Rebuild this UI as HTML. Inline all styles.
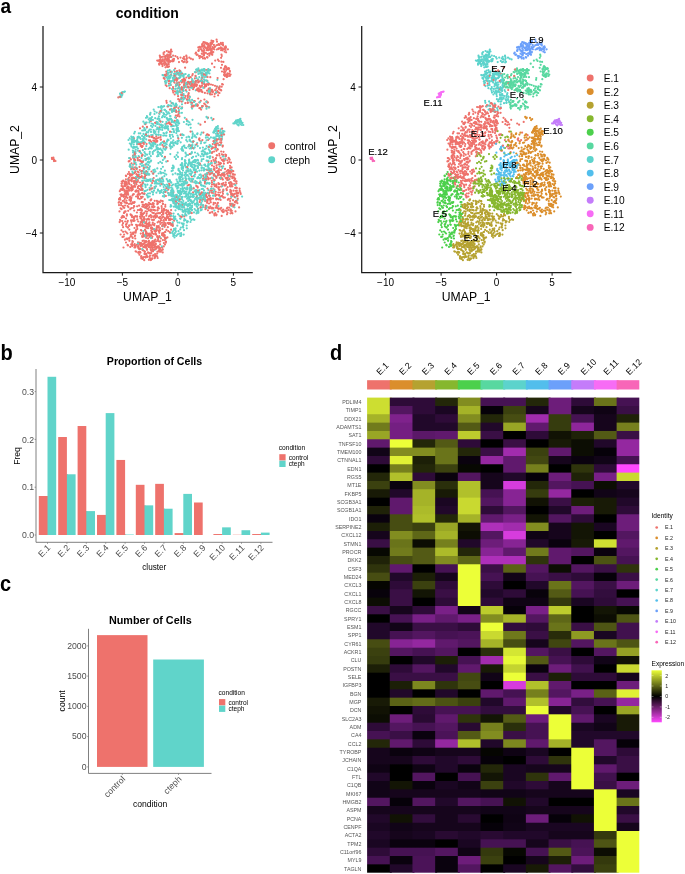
<!DOCTYPE html>
<html lang="en"><head><meta charset="utf-8"><title>Figure: endothelial cell clusters, control vs cteph</title>
<style>html,body{margin:0;padding:0;background:#fff}body{width:685px;height:874px;overflow:hidden}svg{display:block}text{font-family:"Liberation Sans", Arial, Helvetica, sans-serif}</style>
</head><body>
<svg width="685" height="874" viewBox="0 0 685 874">
<rect width="685" height="874" fill="#fff"/>
<text transform="translate(0.6 12.5) scale(0.93 1)" font-size="20.5" font-weight="bold" fill="#000">a</text>
<text transform="translate(0.6 359.9) scale(0.93 1)" font-size="21.5" font-weight="bold" fill="#000">b</text>
<text transform="translate(-0.1 590.8) scale(0.93 1)" font-size="21.5" font-weight="bold" fill="#000">c</text>
<text transform="translate(330.1 359.8) scale(0.93 1)" font-size="21.5" font-weight="bold" fill="#000">d</text>
<defs><filter id="soft" x="-5%" y="-5%" width="110%" height="110%"><feGaussianBlur stdDeviation="0.35"/></filter></defs>
<g id="umap-cond">
<path d="M43 26V272.5H252.8" fill="none" stroke="#1a1a1a" stroke-width="1.25"/>
<line x1="39.8" y1="87" x2="43" y2="87" stroke="#1a1a1a" stroke-width="1.0"/>
<text x="37.1" y="90.7" font-size="10" text-anchor="end" fill="#000">4</text>
<line x1="39.8" y1="160" x2="43" y2="160" stroke="#1a1a1a" stroke-width="1.0"/>
<text x="37.1" y="163.7" font-size="10" text-anchor="end" fill="#000">0</text>
<line x1="39.8" y1="233" x2="43" y2="233" stroke="#1a1a1a" stroke-width="1.0"/>
<text x="37.1" y="236.7" font-size="10" text-anchor="end" fill="#000">−4</text>
<line x1="66.9" y1="272.5" x2="66.9" y2="275.7" stroke="#1a1a1a" stroke-width="1.0"/>
<text x="66.9" y="286.2" font-size="10" text-anchor="middle" fill="#000">−10</text>
<line x1="122.4" y1="272.5" x2="122.4" y2="275.7" stroke="#1a1a1a" stroke-width="1.0"/>
<text x="122.4" y="286.2" font-size="10" text-anchor="middle" fill="#000">−5</text>
<line x1="177.9" y1="272.5" x2="177.9" y2="275.7" stroke="#1a1a1a" stroke-width="1.0"/>
<text x="177.9" y="286.2" font-size="10" text-anchor="middle" fill="#000">0</text>
<line x1="233.4" y1="272.5" x2="233.4" y2="275.7" stroke="#1a1a1a" stroke-width="1.0"/>
<text x="233.4" y="286.2" font-size="10" text-anchor="middle" fill="#000">5</text>
<text x="147.5" y="300.6" font-size="12.2" text-anchor="middle" fill="#000">UMAP_1</text>
<text x="18.7" y="149.5" font-size="12.2" text-anchor="middle" fill="#000" transform="rotate(-90 18.7 149.5)">UMAP_2</text>
<g filter="url(#soft)">
<path d="M206.1 76.8h0M197.6 203.1h0M180.3 176.5h0M203.9 168.2h0M176.7 207.7h0M134.2 133.4h0M189.2 159.7h0M174.6 199.1h0M187.4 100.2h0M139.9 142.9h0M146 133.7h0M138.5 177.6h0M179.8 199h0M179.5 176.7h0M149.8 121h0M184.7 187.9h0M184.9 160.2h0M149.5 129.7h0M214.1 131.7h0M233.4 123.4h0M188.4 213.6h0M191.9 152.2h0M199.2 194.5h0M177.5 143.6h0M179.3 177.1h0M167.4 106.4h0M152.6 143.6h0M216.3 138.7h0M183 181.6h0M158.9 129.8h0M178.6 205.3h0M179.1 178.1h0M131.9 141.9h0M191.9 201.4h0M158.1 151.7h0M199.4 170.7h0M186.8 205.2h0M175.1 78.6h0M237.8 120.7h0M173.3 145h0M178.3 192.8h0M208.4 160.9h0M235.4 197.4h0M201.7 189h0M132 139.9h0M159.9 144.6h0M184.1 191.3h0M163.2 135.6h0M174.1 80.9h0M187.3 209.5h0M186.6 91.6h0M148.9 162.6h0M154.7 111.5h0M166.3 174.6h0M197.3 178.2h0M192.1 205.8h0M174.9 233.1h0M148.8 174.3h0M180.1 192.8h0M198.8 192.5h0M222.6 131.1h0M194.2 200.5h0M171.3 182.7h0M133.9 146.8h0M188.3 164.3h0M240.4 118.9h0M196.1 156.3h0M209.8 94.2h0M202.3 77.2h0M165.8 147.8h0M195.8 183.5h0M173.9 203.1h0M153.7 109.6h0M206.1 135.5h0M208.4 189.9h0M185.3 215.2h0M176.7 197.2h0M160.9 173.3h0M188.1 155h0M160.3 161.8h0M205.3 152.9h0M177.5 135.5h0M181 192.3h0M164.1 146h0M210.3 156.4h0M210.1 92.3h0M184 193.5h0M170.7 148.6h0M182.4 203.8h0M133.7 144.5h0M179.5 181.3h0M170.9 142.4h0M171.6 110.4h0M188.2 171.4h0M186.6 124.2h0M215.6 131.2h0M133.4 137.4h0M182.9 134.8h0M164.4 109.8h0M149.5 158.7h0M204.8 195.9h0M167.1 126.9h0M174.5 77.6h0M165.6 125.2h0M184.1 220.7h0M165.5 76.5h0M209.3 183.8h0M180.5 179.9h0M177.6 174.5h0M200.8 182.7h0M205.7 74h0M204.7 169.5h0M164.6 157.5h0M194 162h0M181.2 184.6h0M179.2 201.6h0M147.5 174.1h0M187.7 100.7h0M163.3 193.1h0M149.3 162.7h0M168.3 188.2h0M171.6 171.1h0M133.1 155.9h0M204.5 71.3h0M189.4 191.8h0M179.6 101.3h0M201.5 167.9h0M162 125.5h0M178 78.4h0M178.7 197.4h0M183 167.9h0M195 152.5h0M180.8 205.1h0M208.5 147.5h0M192 209.8h0M192.7 136.5h0M195.2 105.7h0M201.3 69.9h0M176 124.9h0M154.7 169.7h0M220.8 135.5h0M183.2 150.8h0M178 187.2h0M154.1 172.1h0M135.5 151.5h0M195.7 76.3h0M172.4 188.3h0M205.1 181.7h0M187.1 222.5h0M186.2 179.5h0M198.2 177.2h0M210 88.1h0M166.9 141.8h0M207.6 157h0M144.7 234.9h0M150.1 114.6h0M175.5 210.3h0M179 110.1h0M189.7 197.6h0M147.8 162.1h0M176.2 186.7h0M135.9 157.3h0M185.6 209.5h0M237 122h0M172.8 225.2h0M194.7 167h0M160.5 180.7h0M155.4 181.2h0M152.7 152.2h0M138.3 160.4h0M159.8 111.8h0M160.3 181.8h0M172 111.9h0M191 196.6h0M169.2 185.8h0M212.3 173.5h0M203 198.1h0M208.3 147.4h0M137.8 150.6h0M188.1 201.1h0M175.5 185.4h0M176.8 120.3h0M239.3 122.9h0M183.3 201h0M171.6 106h0M179.5 184.5h0M160.3 179.8h0M189.2 76.7h0M147.5 117.3h0M146.9 136h0M165.3 124.1h0M142.6 139h0M153.3 170.2h0M152.8 135h0M239.1 120.6h0M165.1 149.4h0M199.4 190.1h0M158.6 173.5h0M166.7 132.3h0M199 164.4h0M189.1 213.5h0M144.2 180.3h0M207.8 182.9h0M171.7 189.9h0M179.7 207.2h0M139.2 176.6h0M180.2 229.3h0M190.7 153.9h0M176.2 78.6h0M182.5 189.7h0M166.5 111.9h0M186.9 87.4h0M174 110.5h0M150.9 119.8h0M161.5 181.6h0M201.4 185.3h0M209 193.8h0M203.5 176.6h0M197.4 203.8h0M204.6 198h0M176 158.9h0M218.3 130.8h0M189.1 199.2h0M193.7 148.6h0M179.7 74.2h0M231.4 206h0M166.3 128.2h0M187.9 83.8h0M197.7 70.9h0M219.7 136.9h0M165.9 186.6h0M182.1 191.5h0M216.5 141.4h0M177.3 225.7h0M200.9 195.3h0M181.8 165.5h0M180.5 172.8h0M181.9 184.5h0M131.5 143.7h0M169.9 136.2h0M122.3 94.8h0M191.1 163h0M179.9 178.6h0M202.9 150.4h0M137.2 143.8h0M182.9 226.6h0M196.1 69.8h0M184.8 117.8h0M191.6 189.2h0M151.7 148.5h0M185.8 183.2h0M172.9 200.6h0M201.5 165.5h0M178.4 187.6h0M134.3 161.9h0M193.9 175.9h0M198 167.7h0M172.3 120.3h0M156.4 121.8h0M213.2 188.6h0M179.6 193.4h0M143.5 231h0M171.6 132h0M161.7 150.2h0M152.9 119.9h0M172.7 77.8h0M146 117.8h0M137 144.4h0M145.3 142.5h0M185.2 165.8h0M215.9 129.9h0M181.2 202.1h0M146.2 175h0M200.2 181.4h0M161.9 127.1h0M176.4 107h0M205.4 142.5h0M206 176.3h0M207.5 166.5h0M181.8 223.3h0M170.8 138.3h0M157.9 189.6h0M182.6 179.5h0M203.5 186.1h0M190.5 222h0M142.7 189.1h0M203.5 170h0M193.6 161h0M133.6 151h0M165.5 75.2h0M192.5 161.9h0M183.8 75.7h0M179.5 78.1h0M163.1 172.8h0M177.1 84.1h0M172.6 126.1h0M193.1 156.8h0M188.5 136.5h0M218.4 206h0M154.7 181.5h0M179.4 208.8h0M242.1 123h0M188 75.9h0M180.6 165h0M137 142.9h0M178.5 208.2h0M164.1 114.2h0M182.1 150.4h0M173.4 168.2h0M180 190.9h0M178.4 198.6h0M148.3 135.6h0M223 133.4h0M164.4 195h0M172.8 125.6h0M155.9 134.3h0M188.7 209.4h0M238.6 125.4h0M152 117.1h0M142.7 155.3h0M177.5 125.5h0M162.2 126.7h0M204.3 164.9h0M185.3 210.3h0M176.7 122.4h0M172.5 143h0M171.9 122.2h0M150.9 181.2h0M177.8 125.3h0M184.4 219.1h0M205 165h0M183.7 77.3h0M166.7 144.3h0M193.4 187.8h0M135.6 156.2h0M176.2 235.8h0M156.1 186.3h0M142.2 130.5h0M136.5 177h0M210 170.2h0M174.2 121.9h0M145.1 123.1h0M207.2 173.2h0M173.5 76h0M171.8 121.5h0M190.4 208.4h0M191.9 166.8h0M150.3 148.2h0M197.9 212.1h0M145.3 153.8h0M170 144.3h0M144.6 137.8h0M157.1 149.5h0M192.6 81.6h0M181.3 234.7h0M180.2 91.8h0M183.6 185.2h0M169.8 145.8h0M183.9 74.3h0M138.8 133.3h0M128.1 179.4h0M164.5 116.9h0M151.1 118.2h0M222.1 136.8h0M198.8 73.3h0M149.3 169.2h0M146.9 116.2h0M158.4 163.1h0M206.4 169.5h0M131.5 146.6h0" stroke="#60D4CA" stroke-width="2.2" stroke-linecap="round" fill="none"/>
<path d="M129.4 240.3h0M154.3 210h0M205 84.7h0M213.7 141.5h0M169.1 213.8h0M149.7 204.1h0M138.1 196.8h0M210.6 198h0M197.6 191h0M183.8 80.4h0M181.3 98.9h0M147.1 208.8h0M174.5 79.8h0M220.6 89.8h0M231.3 203.9h0M203.6 48.5h0M166.1 56h0M154.6 256.7h0M208.2 178.1h0M165.3 57.6h0M221 67.8h0M169.4 122.4h0M225.7 75.2h0M162 247.5h0M182.1 80.1h0M203.9 55.5h0M215.8 143.4h0M166.7 86.1h0M129.2 225.7h0M153.1 207.4h0M208.3 43.8h0M165.8 219.5h0M132.2 243.1h0M136 178.7h0M146.7 213.8h0M168.3 61.9h0M182.3 205.1h0M206.9 134.7h0M168.9 218.5h0M204.8 52.5h0M230.5 210.8h0M144.7 252.1h0M159.5 127.3h0M169 220h0M139.3 249.3h0M233.6 195.3h0M235.2 187.9h0M217.8 133.6h0M168.9 60h0M183 58.3h0M154.1 245.4h0M176.7 80.2h0M197.1 104.3h0M135.3 216.4h0M155.4 230.5h0M137.1 226.9h0M156.1 241.3h0M202.8 43.6h0M185 86.8h0M193.1 192.4h0M127.9 174.1h0M163.2 214.1h0M161.7 60.5h0M165 244.6h0M208.6 89.7h0M204.4 87.7h0M221.5 177.4h0M231 162.7h0M137.7 171.6h0M161.7 61.6h0M155.4 234.4h0M194.8 101.2h0M228.1 69h0M159 231.3h0M147 211.7h0M124.1 234.5h0M230.1 165.8h0M201.4 90.1h0M208.5 84.8h0M220.6 199.9h0M220.6 48h0M231.8 212.8h0M192.2 80.7h0M225.8 182.7h0M212.9 178.4h0M221.9 44.3h0M222.6 50.3h0M148 252.4h0M173.4 192.5h0M132.1 224.8h0M171.1 194.5h0M128.3 180.9h0M163.5 63.5h0M212.1 89.9h0M225 168.9h0M127.3 221.9h0M140.9 225.5h0M174.6 109.2h0M165.7 75.7h0M126.9 187.9h0M196.5 84.3h0M224.2 49.1h0M215.9 147.4h0M188.7 93.2h0M161 61.4h0M229.4 171h0M225.7 66.6h0M148.8 241.3h0M128.9 204h0M168.1 61.9h0M172.6 195.4h0M213.5 159.8h0M216.5 167.3h0M187.7 95.9h0M165.8 225.1h0M142.6 240.9h0M170.5 53.2h0M224.9 75.9h0M142.7 249.8h0M237.2 195.9h0M166.2 210.1h0M139.7 248.6h0M200.8 100.8h0M135.1 167.4h0M225.5 71.7h0M224.1 72h0M204.4 47h0M160.8 139.5h0M168.3 189.6h0M145.1 229.5h0M142.5 189.9h0M202 81.7h0M159.3 64.7h0M189.4 163.2h0M146.6 144h0M163.9 208.8h0M202 91.5h0M119.9 198.2h0M225.9 156.1h0M160.8 63.1h0M205.3 104.5h0M219.5 184h0M166.9 123.6h0M218.6 184.2h0M153.8 213h0M226 184.8h0M226.6 76h0M132.2 190.2h0M137.8 181.8h0M209.3 45.1h0M142.6 224.6h0M149.9 189.7h0M170.7 216.4h0M175.8 115.6h0M228.9 170.8h0M145.9 245.2h0M194 101.2h0M140.2 224.1h0M151.7 216h0M151.2 244.5h0M212.3 212.5h0M221 170.1h0M192 105.4h0M152.1 183h0M126.5 194.6h0M156.8 247.3h0M150.7 249.7h0M154.2 247.6h0M139.5 244.2h0M212.2 211.9h0M192.8 147.9h0M161.3 250.5h0M123.1 231.8h0M152.8 180.3h0M206.1 176.2h0M185.1 67.7h0M193.3 106.4h0M162 210h0M221.1 186.6h0M226.4 69.1h0M138 194.6h0M151.5 247.5h0M168.6 223.7h0M131.2 198.6h0M132.5 195.5h0M207.5 93.3h0M232.8 177.9h0M152 243.2h0M208.4 207.3h0M223.3 197.3h0M179 91.8h0M199.9 164.7h0M212 43.6h0M234.1 184.1h0M120 219.8h0M207.3 80.8h0M163.9 224.1h0M211.9 152.9h0M221.2 207.8h0M130.4 203.4h0M210.3 173.4h0M198.7 50.8h0M186.5 56.6h0M146.4 253.9h0M123.7 189.7h0M171 61.2h0M146.7 241.8h0M165.9 56.1h0M151.3 253.1h0M224.4 185.1h0M216.6 206.1h0M132.1 174.8h0M183.8 87.5h0M205 183.4h0M152.3 212.6h0M138 246.8h0M236.5 192.5h0M145.4 124.2h0M157 216.4h0M140.6 245.5h0M124.9 198.8h0M144.2 251.1h0M194 87.4h0M159.8 55.7h0M124.4 186.1h0M162.8 235.6h0M229 176.1h0M212 184.5h0M207.5 57.6h0M211.1 90.7h0M207.2 170h0M174.8 109.1h0M145.4 164.7h0M181.4 97.8h0M134.9 181.1h0M145.2 256.8h0M210.5 49.5h0M165 218.4h0M212.5 146.9h0M180.2 75.7h0M211 170.6h0M158.8 221.4h0M214.6 46.5h0M215.4 143.1h0M166.1 213.2h0M165.3 225h0M135.8 230.9h0M178.6 88.2h0M230.4 191.7h0M230 185.1h0M201 49.2h0M142.2 216.7h0M194.6 84.1h0M132.1 245.9h0M225.9 74.7h0M212.7 42.3h0M195.5 75.9h0M205.1 201.1h0M235.9 190.8h0M172 219.3h0M136.9 244.8h0M148.7 223.3h0M184.4 81.5h0M146.7 219.8h0M228.4 68.2h0M145.1 148.9h0M201.3 91.5h0M141.8 147h0M228.5 209.8h0M227.6 207.5h0M141.9 213.8h0M214.5 96.5h0M178.2 99.2h0M227.9 49.3h0M156.4 213.5h0M164.9 232h0M135.4 216.2h0M133.1 155.7h0M163.3 212h0M228.7 68.4h0M178.8 87.3h0M122.7 201h0M175.7 204.2h0M186.4 84.4h0M180.6 134.9h0M228.2 68.6h0M223.4 61.9h0M215.5 176h0M233.6 194.8h0M223 193.8h0M220.9 42.9h0M227.7 179.9h0M205.6 42.5h0M151.5 228.8h0M225.7 182.6h0M208.6 45.4h0M233.2 206.7h0M152.8 203.2h0M184.9 97.9h0M145.7 231.1h0M148.5 246.8h0M158.8 137.7h0M137 181.3h0M221.4 61.7h0M213.9 166.7h0M187.3 61.8h0M129.4 240.8h0M165.6 59h0M152.8 222.7h0M130.8 175.7h0M140.6 186.3h0M229.1 183.1h0M132.7 237.9h0M175.1 68.5h0M209.1 146.8h0M130.2 196.6h0M203.3 51.6h0M135.1 182.6h0M146.1 235h0M207.1 202.8h0M144.1 217h0M137.5 225.4h0M187.8 102.6h0M132.2 246.1h0M141.9 184.6h0M123.8 200.6h0M219.7 44.6h0M149 174.6h0M151.3 141.8h0M171.2 224.1h0M239.6 188.7h0M206.2 106.4h0M133.9 220.2h0M120.5 220.7h0M225.4 158.7h0M181.9 92.5h0M199.3 102.5h0M145 251.7h0M190.5 84.7h0M195.8 72.3h0M219.1 195.4h0M157.2 60.5h0M149.3 207.2h0M154.8 245.6h0M207.8 102.4h0M184.4 59.5h0M227.9 175.4h0M197.9 105h0M210.4 206.6h0M121.9 217.6h0M127.8 220.9h0M207.5 174h0M202.3 83.4h0M202.5 46.6h0M157.4 247.2h0M143.3 257.3h0M233.6 190.7h0M226.1 52.3h0M165.3 231.9h0M136.6 179.5h0M209.5 89.1h0M118.3 97.4h0M126.5 192.6h0M139.8 225.3h0M207.4 200.8h0M148.9 259.8h0M152.1 231.9h0M226.8 190.2h0M155.9 255.8h0M170 131.7h0M125.5 184.3h0M169.4 223h0M142.3 193.4h0M199.6 58.1h0M122.1 93.3h0M128.9 172h0M148.9 202.8h0M158.5 180.6h0M162.5 201.4h0M147.2 167.3h0M216.3 215.3h0M129.8 158.2h0M185.7 180.7h0M198.2 82.4h0M125.2 194h0M239.7 190.8h0M224.5 172.6h0M124.4 183.8h0M208.4 172.5h0M218.6 199.3h0M146.4 245.6h0M178.4 108.1h0M139.7 242.9h0M210.1 46.2h0M130 174.6h0M149.4 222.4h0M168.2 231h0M150.9 121h0M231.2 193.8h0M208 117.7h0M171.6 103.1h0M180.5 57.6h0M131.5 224.4h0M163.3 220.7h0M198.8 49.7h0M149 242.7h0M210 91.7h0M210.5 43.3h0M184.3 216.5h0M218.4 139h0M137 216.4h0M221.7 215.9h0M137.3 228.9h0M232.6 195.9h0M131.5 190.5h0M220.3 208.8h0M133.1 157.8h0M171.8 51.5h0M204.4 99.5h0M215 85.8h0M216.6 177h0" stroke="#EE726C" stroke-width="2.2" stroke-linecap="round" fill="none"/>
<path d="M161.3 62.5h0M196 52.7h0M175.4 56.1h0M141.9 146.9h0M124.7 190.2h0M123 195.9h0M221.9 154.3h0M218.5 92.6h0M163.3 213.4h0M153.2 250.1h0M160.3 224h0M209.6 192.4h0M201.9 50.7h0M126.7 184.3h0M142.8 126.7h0M219.5 93h0M227.3 178.5h0M131.8 186.4h0M156.7 227.3h0M143.9 236.1h0M130.9 159.4h0M154.6 223.8h0M137.2 175.5h0M159 248h0M214.7 93.9h0M223.4 183h0M164.3 209.4h0M156.9 200.9h0M223 44.3h0M142.3 236.9h0M181.8 73.8h0M186.5 62.5h0M165.4 75.6h0M140.7 146h0M182.5 90.3h0M125.9 179.3h0M142.7 204.5h0M205.8 178.3h0M126.3 182.6h0M192.4 106.2h0M139.3 225.1h0M152.3 188.4h0M211.4 49.7h0M157.5 237.2h0M218.8 171h0M217.5 198.9h0M129.4 199.9h0M220.1 162.9h0M207.2 201.4h0M157.5 202.8h0M209.7 213h0M207.5 193.3h0M170.3 61.6h0M234.8 201.9h0M53.4 157.7h0M187.1 170.5h0M128.4 186.8h0M170.8 85.1h0M136.8 226.2h0M229.3 182.7h0M181.1 81.5h0M181.7 87.1h0M228.6 157.9h0M221.2 90.4h0M138.6 252.3h0M202.8 83.3h0M179.4 70.4h0M206.7 101.4h0M152.1 219.9h0M230.8 182.2h0M177.6 116h0M144.5 243.6h0M216.3 172.2h0M210.4 89.3h0M149.3 253.3h0M218.4 188.2h0M167.3 58.5h0M159.3 232.8h0M119 205.1h0M219.3 44.9h0M138.2 177h0M128.1 194.7h0M131.4 215.3h0M128.2 188.8h0M206 194h0M153.2 180.8h0M134.1 206h0M230.7 198.5h0M135.3 238.5h0M230.3 205.1h0M157.1 216.4h0M182.8 79.8h0M121.5 203.2h0M227.9 177.6h0M158.1 227.7h0M200.1 81.2h0M212 208.5h0M168.4 212.1h0M122.9 206.2h0M180.9 134.6h0M210.1 53.3h0M227.9 170.3h0M192.4 81.8h0M221.6 174.5h0M168.9 222.9h0M166.6 59.6h0M140.2 210h0M193.9 105.6h0M199.4 108.2h0M222 64.8h0M223.5 197.5h0M150.9 258.5h0M135.7 246.2h0M133.5 156.5h0M231.1 186.5h0M124.9 239.7h0M211.9 51.1h0M152 136.2h0M168.2 55.3h0M191.6 102.8h0M126 224.5h0M140.5 249h0M151.3 227.7h0M144 236.1h0M135.6 191.2h0M123 223.2h0M176 117.8h0M231.3 190.9h0M143.9 236.5h0M185.3 103.2h0M174 108.7h0M127.5 227.3h0M223.1 191.2h0M198.1 208.9h0M132.4 220.3h0M204.4 86.9h0M212.9 91.9h0M141 218h0M121.4 94.5h0M192.6 83.5h0M199.8 56.2h0M180.7 88.4h0M165.7 85h0M162.5 201.1h0M136.6 168.9h0M213.8 141.4h0M211.1 44.4h0M231.3 183h0M126.2 226.3h0M174.4 107.8h0M192.7 82.3h0M173.5 111.1h0M212 63.7h0M170.1 54.9h0M212.5 207.9h0M137.8 160.1h0M134.6 220.6h0M53.1 158.3h0M133.8 194.2h0M211.4 52.7h0M170.8 51.1h0M168.4 59.4h0M231.3 196.3h0M136 191.5h0M134.4 247.5h0M125.9 175.7h0M204.3 50h0M223.7 69h0M134.1 169.5h0M127.4 197.9h0M194.7 83.9h0M202 85.8h0M150.6 244.3h0M148.9 210.4h0M196.4 81.7h0M148.4 219.4h0M148.9 240.8h0M119.1 202h0M119.8 198.2h0M144.2 212.9h0M166.4 60.7h0M182.5 81.6h0M217.9 59.7h0M141.9 219.4h0M180 99.5h0M152.3 247.3h0M230 173.2h0M206.7 200.3h0M189.3 57.7h0M199.5 138.4h0M172.6 191.7h0M231.8 170.3h0M221.8 48.1h0M174.5 79.6h0M135.5 247.3h0M144.3 172.6h0M182 73.6h0M213.2 192.8h0M190.6 102.4h0M181.8 82.4h0M216.4 88.6h0M123.2 180.6h0M219 195.2h0M125 184.4h0M191.8 213.1h0M134.1 158.7h0M219.8 177.9h0M219.2 195.6h0M154.2 247.3h0M192.1 102.9h0M160.9 238.4h0M162.6 225h0M152.2 233.2h0M153.8 219.8h0M133.1 232.7h0M128.5 190.4h0M224.6 68.7h0M233.3 171.2h0M153.3 140.5h0M216.3 185.4h0M127.6 192.4h0M179 62.1h0M151.9 259h0M157 226.2h0M199.9 89.6h0M221 196.5h0M142.7 258.2h0M187.8 86.6h0M167.4 74.7h0M134.2 202.4h0M142.2 192.9h0M163.9 220.1h0M145.7 204.2h0M167.2 67h0M173.3 92.6h0M141.6 215.7h0M150.1 140.6h0M127.6 244.9h0M234.6 197h0M151.5 204.5h0M209.5 53.6h0M230.4 189.9h0M150 235h0M178.8 203.9h0M230.5 192.2h0M214.5 168.5h0M152.1 206.9h0M234.5 204.8h0M143.9 218.3h0M119 199.5h0M162.1 233.4h0M224.6 68h0M224.1 174.8h0M191.7 107.2h0M164.6 237.3h0M54.2 160.7h0M145 176.4h0M186.5 59.9h0M168.6 52.3h0M206.6 176.2h0M218.8 170.4h0M156.1 216.5h0M227.8 199.8h0M197.9 190.7h0M139.7 252.3h0M144 221.5h0M118.7 202.7h0M120.6 208.3h0M141.7 173.3h0M168.7 81.2h0M155.6 230.4h0M237.1 196.1h0M123.5 247.5h0M189.4 96.3h0M194.9 78.4h0M211.8 180.8h0M230 186.3h0M122.3 93.5h0M155.3 233.2h0M133 194.4h0M126.3 184.5h0M217.5 45h0M141.3 258.5h0M149.3 219.6h0M168.9 223.6h0M236.1 200.9h0M233 200.2h0M232.9 174.1h0M141.9 143.1h0M215.2 139.6h0M225.3 154.5h0M171.1 74.6h0M206 53h0M133.9 138.3h0M230.6 182.4h0M217.4 170.8h0M150.4 247.8h0M162.5 59.4h0M129.7 190.6h0M169.1 183.8h0M132.3 189.6h0M146.3 236.2h0M205.1 85.4h0M219.3 139.5h0M131.7 188.2h0M204.4 194.3h0M168.1 106.5h0M134.4 245.2h0M224.9 197.5h0M174.1 220.7h0M150.7 209.5h0M174.8 71.7h0M143.1 232.9h0M156.3 216.4h0M138.6 193.9h0M218.1 95.3h0M138.6 172.3h0M152.4 242.6h0M221.9 183.9h0M155.4 239.5h0M146.3 227.8h0M133.3 234h0M210.9 199.2h0M154.1 138h0M148.5 234.9h0M159.3 63.8h0M184.1 207.5h0M207.1 197.2h0M202.4 205.4h0M161.8 208h0M158.9 208.5h0M180.4 73.3h0M153.7 178h0M160.8 200.5h0M154.3 240.7h0M150.1 255.5h0M142.2 170.9h0M145.3 241.9h0M156.4 248h0M141.5 177.2h0M135.7 232.7h0M134 216.9h0M176.1 106.7h0M222.6 146.6h0M181.4 197h0M209 49.8h0M225.4 66.4h0M165.7 238.1h0M157.8 207.8h0M221.7 132.6h0M191.2 189.4h0M137.6 194.9h0M224.3 176.4h0M132.1 217.2h0M200.3 56.6h0M221.9 166.5h0M130.9 187.5h0M204.6 46.4h0M131.8 203.6h0M154.5 187h0M144.2 260.2h0M159.4 60.2h0M137.9 197.1h0M164.8 235.3h0M177.5 79h0M208.4 161.8h0M205 180.2h0M158.3 230.6h0M163.7 54.4h0M234.9 178.9h0M218.9 87.8h0M177.6 82.8h0M144.8 199.4h0M164.2 210.2h0M229.1 172.1h0M236.4 183.4h0M138.4 144h0M147.9 244.9h0M227.8 74h0M161.8 215h0M51.9 157.9h0M210.8 43h0M224 74.9h0M157.3 204.2h0M142.1 236.1h0M146.8 223.8h0M215.4 176h0M147 256.7h0M223 160.8h0M170.1 216.2h0M208.2 46h0M132.7 202.3h0M154.5 141h0M218.6 48.4h0M127 191.6h0M152.4 236.6h0M206.5 178.9h0M157.4 251.5h0M203.2 175.7h0M164.6 210.5h0M144.7 225.7h0M177.3 91.4h0M142 189h0M172.9 90.8h0M162.5 64.6h0M200.1 199.9h0M182.1 107.4h0M204.1 54.4h0M148.6 223.8h0M122.9 188h0M182.8 94.4h0M173.9 59.1h0M137.4 175h0M185.2 80.4h0M240.7 193.9h0M146.1 237.8h0M218.4 92.4h0M229.2 73.8h0M191.5 85.3h0M155.3 142.2h0M208 46.4h0M208 210.3h0M151.9 237.9h0M192.1 86.6h0M208 50.2h0M137.9 180.2h0M134 218.2h0" stroke="#EE726C" stroke-width="2.2" stroke-linecap="round" fill="none"/>
<path d="M156.5 182.8h0M179.3 73.4h0M168 119.3h0M193.2 219.4h0M168.2 129.8h0M175.1 117.4h0M190.4 185h0M236 120.7h0M213 195.7h0M162 117.3h0M187.4 208.5h0M161.1 124.7h0M195.4 160.4h0M192.2 180.3h0M161.2 173.2h0M152.8 173.4h0M192.8 133.3h0M171.1 81.6h0M211 146.4h0M166.4 132.9h0M181.4 192.7h0M168.5 77.5h0M164.2 196.7h0M231.1 170h0M189.1 212.4h0M149.3 174.4h0M189.8 204.8h0M176.1 204.9h0M180.9 235.9h0M178.8 191.3h0M180.4 75.5h0M188.5 194.3h0M140.9 153h0M139.5 174.6h0M178.6 168.8h0M177.8 199.1h0M176.1 200.2h0M169.3 194.7h0M165.6 83.6h0M171.5 195.3h0M169.3 187.7h0M145.8 178.6h0M210.2 90.8h0M195.6 210.3h0M206.6 146.1h0M162.6 152.8h0M197.9 209.3h0M189.6 82.2h0M159.9 153.7h0M154 190.7h0M208.4 83h0M192.1 99.9h0M193.5 141.3h0M199.9 70.9h0M220.9 133.1h0M176.5 235.6h0M169 85.7h0M209.9 195.9h0M196.5 203.9h0M136.9 147h0M200.9 143.3h0M187.9 221.4h0M223.6 131h0M235.4 185.2h0M214.6 140.7h0M203 74.7h0M140 137.5h0M181.3 194.1h0M202.8 180h0M173.5 191.5h0M169.8 145.4h0M201.6 75.3h0M185.7 153.4h0M186.2 167.6h0M201 198.1h0M195.5 160.1h0M237.4 124.5h0M214.6 138.4h0M159.9 237.2h0M158.5 129.3h0M151.2 135.1h0M169.5 118.9h0M185.5 181.6h0M140 151.4h0M171.6 109.5h0M179.9 195.9h0M182 108.2h0M151.3 188.8h0M190.7 181.4h0M182.2 147.2h0M162.9 127.7h0M212.3 171.7h0M197.2 211h0M160.3 185.7h0M189.6 190.1h0M165.6 143.5h0M191.1 209.3h0M147.7 196.2h0M205.9 148.6h0M195.5 190.1h0M175.5 123.5h0M197.8 166h0M134.3 155h0M168.3 78.3h0M217.4 79.8h0M173.2 201.7h0M213.6 138.2h0M163.5 133.1h0M175.1 197.4h0M178.2 207.2h0M189.7 140.7h0M200.5 73.4h0M206 73.7h0M142.5 186h0M189.4 162.9h0M182.3 188.6h0M182.7 223.8h0M144.2 142.2h0M223.2 166.3h0M178.6 206.5h0M149.1 167.8h0M208.5 167.8h0M200 194.3h0M198.4 211.7h0M209.9 169.1h0M172.2 232.9h0M179.6 179.8h0M195.1 174.4h0M209.1 170.6h0M218.5 145.2h0M173.1 194h0M181.4 205.9h0M196.2 137.3h0M185.6 156.5h0M206.6 153.7h0M160.4 148.5h0M185 172.6h0M211.2 169.1h0M189.9 204.2h0M201.7 151.5h0M156.5 175.9h0M141.1 153.3h0M158.4 107.1h0M194.8 135.3h0M171.5 56.9h0M198.4 74h0M185.2 192.2h0M224.4 131.4h0M202.2 207.5h0M196.6 181.8h0M217.9 175.4h0M207.3 153.3h0M155.9 181.6h0M181.9 112.8h0M164.9 170.7h0M209.8 153h0M222.7 156.3h0M180.3 204.4h0M223.5 173.1h0M159.8 178.7h0M159.1 128.5h0M182.3 175h0M183.4 90.9h0M207.9 166.1h0M197.5 133.3h0M160.1 191h0M145.6 187.2h0M178 128.1h0M188.5 125.1h0M206.6 106.3h0M172.3 147h0M167.2 140.8h0M182.3 165.9h0M185.8 173.9h0M191.2 220.1h0M200.8 80.7h0M236.5 123.3h0M180.3 174.1h0M146.9 181.2h0M173.3 216.2h0M159.3 120.4h0M183.7 234.6h0M207.4 81.5h0M120.7 95.8h0M178.4 123.4h0M167.1 118.5h0M184.9 161.8h0M193 197.1h0M188.7 171.1h0M183.3 206.6h0M120.6 94.4h0M180.2 193.9h0M134.6 147.1h0M204.4 69h0M167.3 80.5h0M170.6 119.3h0M155.5 126h0M197.3 206.9h0M169.2 200h0M169.6 77.1h0M161.3 111.9h0M190.6 124.3h0M174.9 198.6h0M151.1 148.1h0M203.2 73.9h0M181.3 149h0M196 194.2h0M201.2 141.4h0M176.3 203.2h0M211.9 177.7h0M179 73.9h0M212.5 178.3h0M170.7 200.1h0M183.7 145.8h0M190 197h0M141.5 158.1h0M192.5 145.1h0M173.6 213.6h0M148.6 131h0M185.6 74.1h0M185.8 163.3h0M188.7 124.8h0M166.3 147.1h0M151.1 146h0M193.9 194.4h0M194.2 182.3h0M154.6 249.8h0M193.5 196h0M172.2 111.2h0M140.3 133.4h0M199.9 178.4h0M175.2 88.9h0M176.6 179.7h0M167.7 139.7h0M182.6 101.3h0M201.3 176.1h0M217.7 135.8h0M135.7 149.6h0M162 163.1h0M201.5 72.5h0M210 145.5h0M179.5 222.7h0M182.6 187.1h0M154.7 183.3h0M192.9 194.3h0M162.2 129.9h0M121.4 94.9h0M163.7 143.5h0M187.3 141.5h0M177 131.3h0M200.3 208h0M190.1 211.6h0M170.1 181.4h0M163.3 75.4h0M181.1 164.5h0M213.3 132.4h0M131 169.3h0M189 192.8h0M166.2 111h0M202.1 167.6h0M185.5 152.6h0M138.9 142.3h0M133.6 147.1h0M241.9 125h0M174 206.7h0M202.2 195.6h0M163.5 141.9h0M239.6 119.6h0M198.3 162.9h0M152.8 153.9h0M171.3 143h0M167.6 56.6h0M148.3 164.9h0M223.4 190.3h0M180.1 185h0M151.6 123.5h0M135.6 153.2h0M167.8 126.3h0M165 128.4h0M164.2 77.9h0M195.7 165.8h0M200 148.1h0M160.4 121.4h0M143.4 160.5h0M144.7 191h0M146 122.6h0M167.8 74.1h0M177 200.4h0M194.7 147.4h0M150.1 114.3h0M180.9 227.5h0M162.5 151.1h0M135.6 141.4h0M168.2 193.1h0M184.4 210.7h0M214.1 181.3h0M201.4 202.9h0M164.2 133.6h0M150.1 180.4h0M143.5 165.8h0M179.4 190.9h0M148.6 157.5h0M237.9 120.1h0M205.5 200.6h0M128.7 149.7h0M194.6 191.1h0M187.4 204.5h0M208.3 69.5h0M143.4 183.5h0M173.5 104h0M153 124.1h0M176.3 203.5h0M180.5 218.7h0M191 186.4h0M161 127.6h0M190.1 208.2h0M178 174h0M237.9 121.7h0M140.3 164h0M174.6 200.7h0M156.1 123.4h0M192.8 80.4h0M171.2 108.8h0M153.7 132h0M181.9 159.2h0M181.7 192.7h0M187 194.5h0M169.7 180h0M129.6 166.3h0M189.1 210.5h0M188 211.9h0M185.5 182.2h0M195.7 171.1h0M180 178.3h0M184.7 165.2h0M178.1 190.9h0M174.8 219.2h0M180.7 142.3h0M165.6 238.8h0M197 171.7h0M190 207.4h0M189.6 188.4h0M137.7 137h0M135.5 171.2h0M162.9 226.3h0M192.9 167.4h0M187.1 221.2h0M162 156.2h0M199 178.1h0M216.3 130.2h0M181.1 108.5h0M173.7 81.6h0M179.1 200.3h0M174.4 105.9h0M149 136.3h0M119.7 96.7h0M143.7 137.2h0M175.5 218.9h0M176.8 195.2h0M202.1 107.4h0M215.3 138.7h0M171.2 126.3h0M131.4 139.7h0M186.5 175.3h0M180.5 185.2h0" stroke="#60D4CA" stroke-width="2.2" stroke-linecap="round" fill="none"/>
<path d="M196.6 192.2h0M165.2 143.2h0M190.9 193.9h0M182.9 150.1h0M151.2 185.4h0M196.4 190h0M175.2 204.9h0M145 130.3h0M167.6 78.8h0M191 164.8h0M238.2 120.9h0M183.9 122h0M135.2 163h0M153.9 143.9h0M182.2 175.8h0M158.1 154.5h0M180.9 92.6h0M204 69.1h0M191.9 157.9h0M144.5 152.2h0M170.6 146.9h0M181 99h0M173.3 140.3h0M185 191.6h0M150.9 119.9h0M204 79.3h0M165.3 189.3h0M186.7 183.5h0M146.1 159.3h0M146.3 146.1h0M217.8 134.9h0M157.1 156.3h0M219.9 198h0M209.6 145.2h0M204.3 142.8h0M208.2 164.2h0M177.7 94.3h0M153.5 125.3h0M198.3 79.3h0M190.4 101.4h0M170.2 77.7h0M196.5 213.4h0M177.7 152.7h0M150 193.3h0M165.3 149.6h0M162.6 121.8h0M195.4 160.1h0M181.9 197.1h0M203.4 185.8h0M148.4 159.2h0M195 199.1h0M164.8 173.6h0M194.8 165.6h0M154.1 142.7h0M181.7 169h0M139.6 151.9h0M187.3 120.9h0M177.9 206.5h0M169.7 70.2h0M238.7 121h0M190.7 127.8h0M178.2 183.1h0M162.7 184.4h0M132.9 156.7h0M208.2 169.7h0M198.9 197.8h0M170.3 116.3h0M144.2 138.3h0M141.2 142h0M195.4 145.1h0M147.6 172.1h0M189.6 173.7h0M154.9 188.1h0M146.8 127.7h0M173 136.7h0M192 146.6h0M150.5 144.4h0M234.5 207.3h0M183 216.2h0M148.3 174h0M191.4 104.5h0M214.5 175h0M180.4 71.1h0M241 121.1h0M211.9 163h0M203.9 69.5h0M185.1 83.6h0M163.4 113h0M135.8 177h0M189.8 203.3h0M200.4 197.2h0M200.4 72.7h0M188.5 170.9h0M156.4 146.3h0M137.7 137.7h0M202.8 194.1h0M201.5 78.3h0M157 183.7h0M168.1 128.6h0M186.8 228.3h0M173.9 131.1h0M180.3 205.4h0M134 142.3h0M175.3 199.5h0M180.3 191.2h0M149.4 122.5h0M170.3 116h0M188 168.8h0M173.9 126h0M145.9 181h0M164.8 185h0M189.4 145.9h0M205.6 165.9h0M193.7 196.6h0M159.6 183.7h0M201.5 81.1h0M208.2 91h0M173.7 195.1h0M217.1 128.7h0M172.7 109.5h0M189 160.5h0M220.8 144.9h0M157.3 168.4h0M157.5 118.9h0M174.5 111.1h0M218 134.5h0M240.4 121.1h0M198.3 68.4h0M177.2 188.7h0M146.2 139.4h0M215.3 129.1h0M198 204.3h0M145.8 207.8h0M187.4 197.6h0M168.5 112.4h0M193.8 82.3h0M183.8 182.4h0M195.5 81h0M182.4 214.9h0M169.4 113.5h0M136.9 168.2h0M192.9 195.6h0M175.5 76.3h0M169.9 134.8h0M192.5 82.5h0M187.8 209.6h0M157.3 127.6h0M174 218.9h0M171.2 200.2h0M147.2 174.6h0M206.4 180.1h0M215.8 161.9h0M194.6 209h0M190.7 186.7h0M196.9 203h0M167.9 126.5h0M176.8 105.1h0M182.3 75.6h0M133.9 157.8h0M151 125.8h0M177 199.3h0M171 192.6h0M216.3 136.1h0M122.6 92h0M190.8 141.5h0M182.2 199.6h0M175.4 142.2h0M204.1 195.9h0M121.9 94.5h0M203.9 170.6h0M134.3 140.6h0M191.3 173.5h0M171.1 118.9h0M166.6 64.4h0M171.8 71.6h0M163.5 192.2h0M216.6 127.2h0M137.2 139.4h0M176.6 155.2h0M174.3 121.5h0M214.1 132.6h0M176.9 199.5h0M146.8 132.2h0M189.5 180h0M188.9 162.8h0M190.1 203.8h0M182.2 134.4h0M175.1 74.2h0M211.7 191.8h0M185.5 211.8h0M158.5 118.3h0M211.3 117.9h0M208.8 149.6h0M181.8 108.3h0M171.1 194.4h0M223.7 156.4h0M196.1 81.3h0M219.9 135.5h0M214.7 137.6h0M137.4 141.6h0M182.9 168.7h0M194.8 136.5h0M217 128.3h0M155.2 138.7h0M179.4 174.5h0M182.6 203.2h0M133 141.3h0M172.7 231.7h0M194.4 219.8h0M187.2 189.3h0M192 207.2h0M201.1 197.2h0M199.8 195.2h0M178 137.3h0M192.1 108.6h0M161.3 106.2h0M188.5 178.6h0M205.1 174.3h0M198.5 123.5h0M138.7 136.7h0M223.7 134.4h0M158.8 134.7h0M173.2 190.4h0M196.9 195.9h0M189.9 200.3h0M164.3 192h0M177.2 88.7h0M212 146.9h0M189.7 139.7h0M162.5 75h0M223 132.7h0M203.4 192.5h0M191 193.6h0M144.9 135.3h0M183.2 167.2h0M157.4 123.6h0M214.2 174.1h0M159.6 191.5h0M132.6 142.3h0M191.2 148.5h0M183.4 224.9h0M151.1 160.5h0M228.4 179.8h0M181.5 75.5h0M186.3 148h0M206.6 206.2h0M205 164.6h0M204.1 180.2h0M179.4 215.6h0M171.9 121.1h0M154.5 114h0M174 132.2h0M184.1 207.3h0M147.4 158.2h0M186.4 215.4h0M179.3 233.7h0M134.1 160.4h0M184.8 181.4h0M163.9 113.8h0M203.2 205.2h0M133 147.8h0M163.7 187h0M157.6 152h0M197.3 163.4h0M170.8 105.5h0M205.9 137.7h0M186.4 191.6h0M176.5 72.3h0M180.7 188.8h0M205.7 179.6h0M173.9 143.1h0M181.4 72.5h0M136.8 140.7h0M179.2 123.3h0M178.8 82.7h0M179.4 201.2h0M195.8 90.3h0M146.3 167.4h0M177.5 197.4h0M142.1 135.9h0M222.3 186.2h0M179.5 73.1h0M192.1 202.7h0M173.2 196h0M183.8 191.3h0M184.9 209.6h0M201.8 199.6h0M220.2 131h0M137.8 142.2h0M190.3 218.4h0M212.4 120.1h0M178.4 74.8h0M197.9 192.4h0M190 87.7h0M120.2 97.1h0M153.1 146.6h0M192.1 131.5h0M165.5 81.1h0M186.9 82.7h0M182 175.3h0M182.3 197h0M194 212.4h0M194.1 102h0M174.1 70.1h0M192.6 142.6h0M199.9 71.1h0M168.1 181.7h0M150.8 156.2h0M193.4 141.3h0M197.2 134.2h0M149.4 142.9h0M186.4 170.5h0M157.6 152.5h0M176.3 194.8h0M180.9 81h0M157.5 145.2h0M179.3 170.9h0M151.2 145h0M169.3 78.7h0M202.2 69.7h0M176.5 129.1h0M202.9 70.5h0M146.3 171h0M170.8 205.1h0M217.9 126.1h0M188.3 197.5h0M166.7 77.3h0M136.3 167.5h0M195.3 181h0M176.9 220.7h0M178.3 191.6h0M140.6 189.9h0M203.3 207h0M185.3 213.9h0M189.1 178.3h0M221.6 139.8h0M190.8 200.2h0M214.3 130.3h0M144 194.1h0M136.2 164.7h0M201.6 209.7h0M192.6 179.3h0M200.7 134.6h0M183.8 95.3h0M177.1 202.9h0M191 187.2h0M216.8 135.7h0M146.7 122.6h0M177.7 234.3h0M171.8 195.9h0" stroke="#60D4CA" stroke-width="2.2" stroke-linecap="round" fill="none"/>
<path d="M219.5 208.5h0M121.4 194.5h0M185.5 96h0M173.5 61.1h0M158.9 213.2h0M215.1 147.4h0M173.7 60.7h0M127.9 187.5h0M202 85.5h0M142.7 250.2h0M140.7 212.5h0M145.9 254.2h0M159 250.6h0M140.8 214.5h0M128.4 207.2h0M140 182.5h0M133.8 202.9h0M159.9 228h0M123.1 227.2h0M153.5 205.4h0M121.5 217.6h0M137.9 188.2h0M217.8 143.4h0M149.7 236.8h0M146.2 171.6h0M135.1 235.5h0M167.7 161.1h0M160.5 121.6h0M157.6 210.1h0M218.4 164.5h0M162.2 217.4h0M152.3 245.7h0M207.2 48.8h0M121.3 196.2h0M227.8 194.6h0M216.5 214.5h0M233.2 174.7h0M230.8 176.4h0M151.5 244.4h0M150.8 211.1h0M136.5 168.7h0M142.7 244.5h0M52.2 158.5h0M185.9 90.1h0M132.7 187.7h0M226.1 155.1h0M145 245.6h0M234.3 193.9h0M212.5 91.4h0M216.3 199.4h0M221.1 140.1h0M226.9 208.4h0M215.6 207.7h0M166.4 229.9h0M169.2 80.9h0M148 224.1h0M146 233.5h0M183.6 80.5h0M179.2 82.5h0M219.7 189.9h0M210.4 190.5h0M154.5 206.8h0M132.2 233.8h0M222.3 174h0M184.3 87.2h0M143.9 144h0M151.2 230.7h0M183.7 79.1h0M151.5 171.5h0M128 227.6h0M171.1 229.7h0M217.8 149.6h0M134.3 163.7h0M145.1 230h0M216.9 194.8h0M138.3 191.1h0M224.5 160.4h0M221.8 56h0M151.2 217.5h0M159.5 60.3h0M205.2 179.9h0M164.8 56.4h0M162.4 60.8h0M231.8 194.5h0M136.3 251.7h0M132.4 241.1h0M130.8 235h0M140 216.6h0M191.9 176.5h0M201.8 53.7h0M182.9 90h0M126.8 188.3h0M216 158.2h0M212.1 52.7h0M214 174.4h0M54.2 159.7h0M139.9 144.2h0M147 206.4h0M175 91.3h0M134.8 236.3h0M157.9 240.8h0M136.1 224.8h0M186.3 55.6h0M190.1 84.5h0M140 194h0M141.8 202.2h0M227 214.3h0M128.4 182.7h0M204.3 81.5h0M197 85h0M189.7 154h0M126.2 194.9h0M129.3 225.6h0M162.3 145h0M167.7 223h0M165.4 237.7h0M177 83.3h0M221.3 142.3h0M176.6 196.7h0M212.8 157.3h0M214.8 180.1h0M154.6 242.1h0M151.2 235.4h0M149.6 224.4h0M149.5 256.5h0M226.4 74.5h0M143.2 213.9h0M152.5 224.4h0M153.3 216.8h0M198.8 81.8h0M232.2 203.8h0M137.9 186.9h0M200 194.7h0M129.1 177.5h0M215.3 195.9h0M124.8 181.6h0M169.3 213.7h0M170.5 219.1h0M139.4 151h0M166.4 100.9h0M139.6 242.9h0M156.9 141.7h0M217.5 207.8h0M216.6 39.7h0M156.1 246.8h0M140.1 177.2h0M147.7 245.5h0M121.2 189.3h0M170.5 54.3h0M131.5 203.8h0M52.9 158.4h0M121.8 183.8h0M132.3 188.9h0M199.8 85.9h0M212.8 144h0M169 66.4h0M124.4 212.6h0M155.4 243.6h0M168 216.9h0M220.1 142.3h0M124 217.2h0M212.4 152.2h0M133.6 220.9h0M202.2 73.4h0M167.8 56.6h0M211 84.5h0M136.4 190.6h0M148.3 243.4h0M147.2 226.4h0M210.2 47.2h0M162.6 249.3h0M166.9 216.4h0M227.4 170.5h0M214.5 215.4h0M229.5 179.2h0M225.5 48.1h0M158.7 246.4h0M188.5 87.6h0M153 241.9h0M229.2 207.6h0M137 181.2h0M129.6 161.1h0M150.7 228.1h0M166.4 55.5h0M211.4 43.9h0M227.1 76.7h0M214.2 214.1h0M141.5 145.5h0M138.6 176.3h0M146.1 159h0M202.4 45.6h0M126.4 238.6h0M150.9 259.9h0M141 243.2h0M162.7 252.4h0M154.4 230.8h0M224.3 49h0M149.7 244.8h0M125.6 211.4h0M158.2 207.3h0M134.2 173.2h0M135.6 251.3h0M177.6 73.4h0M168.4 193h0M160 230.6h0M205.5 209.2h0M123.5 207.4h0M221.2 151.5h0M137.1 216.7h0M218.6 44.1h0M153 243.5h0M143.5 243.5h0M166.7 212.2h0M134.2 159.1h0M213.8 175.6h0M215.4 160.8h0M213.9 44.9h0M211.2 208.2h0M218.6 209.1h0M200.7 87.2h0M179.5 101.1h0M134.5 178.2h0M155.8 246.4h0M225.7 46.4h0M131.9 216h0M209.6 170.3h0M132.3 173.9h0M165.6 191.9h0M140.7 208.8h0M170.2 223.2h0M226.4 67.4h0M177 71.2h0M194.4 85.9h0M200.2 108.1h0M198.7 88.4h0M193.8 188.5h0M210.6 45.7h0M218.4 172.9h0M228.6 170.1h0M215.2 90.2h0M236.2 193.8h0M228 76.1h0M160.7 251.7h0M148.6 205.2h0M207.5 102.5h0M229.2 162h0M195.2 85.5h0M199.9 163.6h0M206.5 85.3h0M150.5 200.3h0M218.4 192.5h0M120.5 194.5h0M52.2 158.4h0M135.6 191.5h0M200.4 47.3h0M188.6 86.9h0M218.1 211.6h0M213.3 41.2h0M154.4 229.7h0M137.1 206.3h0M213.7 169.3h0M203.4 132.6h0M139.9 198.8h0M206 208.3h0M129.3 180.3h0M122.5 182h0M212.9 85h0M214 141.7h0M124.4 194.5h0M219.6 164.1h0M129.5 184.1h0M159.4 249.8h0M182.1 60.9h0M126.3 196.9h0M165 62.8h0M145.3 241.4h0M229.9 71.7h0M141.5 230.6h0M201.6 193.3h0M161.7 63.9h0M235.6 202.5h0M154.2 140.8h0M195.3 82h0M130.6 214.4h0M146 233.1h0M203.3 50.8h0M202.9 106.1h0M150.4 203.9h0M171.3 225.2h0M151.1 188.5h0M151.5 209.9h0M169.6 123.7h0M123.6 196.8h0M144.8 242.6h0M125.3 231.5h0M140.5 252.6h0M216.2 184.3h0M190.9 82h0M121.6 209.2h0M199.7 46.9h0M164.6 65h0M159.9 247.8h0M130.4 165.7h0M171.1 210.1h0M169 83.6h0M205.3 207.3h0M148.5 218.7h0M121.7 181.6h0M142.7 196.8h0M210.5 49.1h0M221.1 57.8h0M210.1 212.5h0M205 121.9h0M153 137.4h0M226.3 177.9h0M131.8 179.9h0M223.3 189.7h0M178.9 85.9h0M207.1 44.4h0M134.8 185.2h0M187.8 97.6h0M209.9 93.2h0M150.8 200.3h0M125.9 202.6h0M174.6 79.9h0M204.2 103.6h0M191.6 85.1h0M127.6 238.6h0M169.8 57.1h0M164.7 240.3h0M165.7 63.1h0M125 186h0M146.7 233.6h0M129.7 197.2h0M169.3 219.4h0M141.1 184.9h0M229.8 70.8h0M148.8 226.2h0M214 179.8h0M164.7 226.8h0M238 193.4h0M126.9 214.4h0M144.3 193.6h0M162 226h0M186.4 77.5h0M129.3 229.6h0M153.3 229h0M159 217.5h0M204.2 45h0M226.4 188.9h0M153.6 217h0M141.8 245.5h0M157.9 203.5h0M206.1 86.2h0M130.5 201.1h0M128.4 178.5h0M200.3 56.4h0M132.5 167.5h0M125.2 221.5h0M232.7 176.9h0M153.9 255.2h0M167.1 214.6h0M153.4 210h0M205.7 47.9h0M170 214.8h0M201.7 80.1h0M146 206.8h0M225.6 50h0M155.7 214.1h0M210.8 202.3h0M131.8 181.3h0M189.5 83.1h0M216.8 167.9h0M134.4 152.7h0M133.2 168.9h0M122.2 189.4h0M235.2 178.8h0M213.7 202.9h0M153.9 216.7h0M145.2 226.4h0M240.3 192.4h0M132.7 167.3h0M212.3 92h0M141.8 176.2h0M196.8 89.9h0M205.9 174.7h0M141.5 176.7h0M150.8 225.6h0M219.3 153.8h0M208.1 140h0M139.3 157h0M130.2 209.2h0M136.2 191.3h0M148.6 246.9h0M211.9 190.4h0M187.8 82.4h0M127.6 186.4h0M169.6 185.2h0M150.6 215h0M159.3 241.6h0M119.8 191.2h0M227.3 179.9h0M122.6 216.6h0M145.2 223.2h0M174.8 120.9h0M161.2 62.4h0M187.3 84.4h0M126 242.5h0M138 174.9h0M220.7 178.8h0M153.7 203.5h0M164.1 225h0M219.1 195h0M133.9 181.2h0M162.8 203.8h0M139.5 166.9h0M216.8 186.9h0M207.5 200.2h0M52.1 159h0M172.7 59.7h0M144.8 173.4h0M225.8 47.2h0M193.1 89.2h0M151.5 251h0M149.5 136.7h0M147.3 257h0M145.5 211.3h0M224.6 47.3h0M196 81h0M158.1 201.5h0M134.6 202.1h0M141.3 256.2h0M168 223.1h0M151.8 242.4h0M142.3 214.5h0M143.5 220.6h0M221.7 86.7h0M215.6 162.9h0M153.4 213.1h0M136.1 196.5h0M163.9 243.1h0M196.6 54.8h0" stroke="#EE726C" stroke-width="2.2" stroke-linecap="round" fill="none"/>
<path d="M198.7 198.7h0M177.7 191h0M179 208.2h0M190.7 170.5h0M147 154.7h0M210.1 171.6h0M175.3 105.6h0M192.7 134.8h0M159.3 124.4h0M148.3 180.9h0M160 149.1h0M160.4 171.9h0M162.9 160.1h0M149.9 166.4h0M184.6 98.6h0M162.3 106.8h0M152.5 179.1h0M175.4 173.4h0M170.6 206.7h0M204.6 74.4h0M171 81.1h0M161.5 108.3h0M184.6 164.1h0M168.2 76.5h0M182.5 196.8h0M242.5 122.8h0M177.9 122.3h0M191.2 189.8h0M135 182.9h0M197.5 159.9h0M167.1 190.6h0M175.9 111.9h0M173.2 184.5h0M193.6 202h0M186.3 196.1h0M173.7 234.6h0M150.7 161.4h0M133.4 140.5h0M206.9 183.3h0M178.9 131.1h0M186.3 194.2h0M146.6 164.4h0M182.6 211.6h0M204.8 77.1h0M202.5 73.2h0M188.4 204.1h0M183.7 223.6h0M197.2 200.9h0M152.1 145.8h0M143.5 133.9h0M129.8 143.5h0M201.3 209.8h0M207.8 192.8h0M172.3 103.3h0M179.4 72.4h0M201.5 170.3h0M163.3 181.2h0M201.3 70.5h0M194.8 204.6h0M170.2 233h0M162.6 142h0M148.5 148.9h0M190.3 162.6h0M169.7 119.6h0M142.3 249h0M206.5 116.9h0M168.5 193.1h0M200.6 204.7h0M217.1 132.1h0M165 109.8h0M163.9 189.5h0M207.7 137.3h0M209.3 138.8h0M161.9 246.3h0M183.9 85.7h0M209.8 150.9h0M184 230.2h0M186.7 225.5h0M189.4 161.6h0M173.5 198.3h0M174.2 235.2h0M192.7 179.4h0M209 90.9h0M170.7 182.2h0M183.6 188.8h0M197.5 71.6h0M235.1 121.9h0M174.9 196h0M181.7 185.4h0M156.5 134.8h0M186.2 167.1h0M238.8 121.5h0M191 83.8h0M134.7 147.4h0M221.9 138.8h0M133.8 141h0M199.4 175h0M190.5 197.1h0M203.3 74.6h0M121.5 96.8h0M240.3 124.3h0M159.6 153h0M222 134.7h0M172.1 191.9h0M170.5 85h0M184.5 82.8h0M177.1 185.9h0M190.8 205.6h0M156.7 112.6h0M174.2 200.2h0M141.9 163.3h0M131.1 144.9h0M192.4 203.3h0M177.3 143.8h0M220.5 133.7h0M172.9 201.2h0M181.5 95.7h0M187.8 121.4h0M165 145.6h0M132.8 167.7h0M164.4 185h0M196.5 206.1h0M133.4 139.4h0M154.6 131.2h0M220.6 129.4h0M173.2 236h0M187.1 198.8h0M161.6 110.2h0M132.8 139.3h0M177.8 92.9h0M196.6 78.2h0M168.7 195.2h0M199.3 77.1h0M183.3 184.5h0M182.2 172.9h0M158.9 116.4h0M147.2 179.9h0M183 210.8h0M168.2 120.6h0M188.5 196.2h0M187.6 175.1h0M185.9 178.5h0M177.1 83.3h0M173.7 230.5h0M175.8 74.5h0M160.2 129.5h0M164.5 158.4h0M149.8 151.9h0M185.1 196.8h0M206.4 154.4h0M199.8 102.2h0M204.2 196.7h0M201.5 161.1h0M215.2 149h0M157.7 122.4h0M162.9 179.4h0M166.3 135.7h0M158.5 149h0M206.3 101.9h0M145.5 185.7h0M178.5 231.2h0M121 96.2h0M197.2 143h0M200.5 196.2h0M152.3 127.1h0M180.9 181.5h0M149.9 118.3h0M202.5 193.7h0M141.8 165.8h0M175.5 184h0M155.3 186.5h0M179.7 106.6h0M135.5 162.5h0M237.5 200h0M172.8 170.4h0M191.6 153.2h0M191.8 145.3h0M182.3 148.4h0M175.9 104.7h0M164.8 116.6h0M170.3 154.1h0M197.6 153.5h0M182.7 207.4h0M186.7 155.1h0M179.9 193.8h0M148.5 161.5h0M201.9 200.2h0M191.1 165.8h0M178.6 111.3h0M170.5 194.5h0M239.3 119.8h0M183 75.7h0M216.1 127.3h0M219.7 166.7h0M186 188.9h0M156.2 180h0M177.3 183.5h0M170.1 72.3h0M177.4 141h0M159.4 180.5h0M178.8 140.7h0M133.1 152.4h0M188.5 176.3h0M181.6 175h0M210.1 164.1h0M177.5 72.5h0M234.8 123.4h0M194.5 169.3h0M178 85.1h0M181.1 233.2h0M173.9 122.3h0M188.6 197.6h0M206.4 80.4h0M146.7 194.8h0M183.8 203.9h0M190.8 208h0M160.5 125h0M171.1 190.9h0M185.5 85.9h0M175.6 228.4h0M173.5 196h0M204.5 177.8h0M150.9 129.6h0M188.6 212.8h0M133 164.8h0M133.9 140h0M178 156.9h0M219.5 138.7h0M185.5 176.8h0M214.4 210.5h0M182.1 207.4h0M186.4 172.1h0M140.7 139h0M197.9 167.9h0M183 170.5h0M161.2 181.4h0M194.1 164.8h0M143.2 165.4h0M209.6 156.5h0M202.9 188.9h0M129.7 138.3h0M184.3 205.1h0M184 184.2h0M166.1 126.5h0M192 79h0M177.8 222.5h0M201.7 132.7h0M171.4 206.2h0M204.7 180.4h0M124.9 91.5h0M175.7 86.3h0M204.7 69.8h0M188.9 74.8h0M241.1 121.9h0M192.2 164.4h0M172 185.5h0M135.5 141h0M222.4 168.2h0M191.3 179h0M172.6 111.2h0M209.6 183.2h0M145 167.4h0M185.4 203.4h0M204.6 80.1h0M176.8 206.5h0M232.7 204.3h0M203.8 197.4h0M186.4 83.6h0M153 194.4h0M197.9 166.8h0M145.7 190.9h0M141 171.5h0M143.4 121.7h0M206.5 208h0M217.3 86.5h0M175.6 206.7h0M183.7 211.9h0M236.3 122.2h0M152.2 145.4h0M203.8 83.3h0M155.5 144.1h0M162.9 196.2h0M209 91.8h0M130.6 166.5h0M190.7 165.9h0M186.3 195h0M178.3 191.9h0M167.1 73.9h0M146.5 135.9h0M195.9 169.4h0M185.7 193.5h0M141.8 142.4h0M145.1 184.5h0M145.4 236.1h0M179.7 87.9h0M165 135.5h0M202.5 76.1h0M147.9 196.7h0M171.6 192h0M189.4 122.3h0M176.3 133.1h0M142.7 141h0M180.4 209.3h0M202.4 72.6h0M177.1 91h0M176 143.3h0M213.9 183.6h0M143.8 169.4h0M203.4 156.2h0M183.2 227.6h0M172.2 193h0M195.4 170.2h0M159 180.2h0M174.1 73.9h0M190 97h0M205.3 192.8h0M172.8 174.4h0M153.9 150.9h0M157.8 179.7h0M153.5 143.4h0M207.7 153.7h0M206.6 160.7h0M190.7 190.3h0M188.3 146.6h0M209.8 89h0M171.2 75.4h0M188.1 165.3h0M213.7 191.9h0M194.9 72.1h0M203.4 159h0M201.8 159.3h0M215.2 128.6h0M202 77.9h0M147.5 189.8h0M208.9 70.9h0M137.9 148.5h0M144.6 123.8h0M173.1 79.1h0M160.2 153.6h0M173.5 203.2h0M165 190.3h0M215.4 140.4h0M181.1 177.2h0M186.9 121.1h0M144.8 172.3h0M145.3 129.7h0M189.7 148.5h0M179.6 77.4h0M191 171.4h0M154.5 188.5h0M171.4 195.3h0M171.1 187.6h0M167.5 119.7h0M121.8 92.9h0M202.9 147.6h0M160.9 154.7h0M178.8 87.2h0M134.5 154.4h0M201.6 185.4h0M189.2 137h0M162.9 115.9h0M209.1 92.1h0" stroke="#60D4CA" stroke-width="2.2" stroke-linecap="round" fill="none"/>
<path d="M150 215.8h0M144.1 247.2h0M201.8 192.3h0M202.1 50.5h0M154.7 216.1h0M169.7 88.2h0M140 128.3h0M128.8 182h0M202.5 77.4h0M141.9 210.8h0M133.1 186.4h0M174.7 75.7h0M207.5 188.5h0M198.4 50.8h0M126.6 203.1h0M171.4 213.6h0M139.2 178h0M160.2 249.2h0M215.7 191.8h0M164.4 52h0M149 252.8h0M225.8 155.7h0M140.3 143.8h0M219.1 89.2h0M187.7 185.5h0M153.1 204.4h0M199.7 140.5h0M192.8 74h0M209 83.9h0M166.7 102.8h0M130.3 198.1h0M236.8 190.6h0M141.7 188h0M230.5 213.3h0M220.7 177.6h0M144.7 253.7h0M140.5 218.3h0M223.5 159.3h0M144.7 177.9h0M138.8 252h0M166.8 51h0M164.9 74.8h0M214.2 49.3h0M223.5 175h0M190.9 58.7h0M163.9 210.3h0M163.5 53.1h0M201.5 46.6h0M130.5 236.6h0M173.5 199.9h0M143.4 257.3h0M211.3 54.2h0M122.9 186.3h0M206.2 177.9h0M147 244.6h0M210.1 45.9h0M219.1 174.7h0M212.5 91.1h0M125.1 191.1h0M143.7 206.8h0M223.1 174.7h0M176.7 80.8h0M193.3 87.7h0M153.7 224.8h0M121.1 205.2h0M236.5 181.4h0M122.3 190h0M224.8 174.7h0M190.5 131.6h0M165 156.8h0M221.7 159.8h0M127.9 245.5h0M196.3 185.9h0M156 231.3h0M131.4 197.5h0M222.4 211.4h0M210.4 94.5h0M155 210.4h0M209 203.5h0M222.7 49h0M225 185.7h0M208.3 198.9h0M160.1 244.4h0M211.4 43.3h0M215.9 171.8h0M156.4 228.9h0M165.3 206.7h0M219.4 87.5h0M137.7 158.2h0M227 76h0M146.1 241.1h0M146.6 206.5h0M199.6 90h0M133.2 173.4h0M186.5 119.3h0M129.1 238.2h0M154.8 215.7h0M210.3 200.8h0M209.7 174.4h0M237.7 198.7h0M237.5 195.7h0M215.8 145.8h0M217.5 203.8h0M127.3 239.2h0M202.5 56.8h0M173.9 58.8h0M149 216.3h0M212.6 47.1h0M223.8 211.8h0M212 192.8h0M146.3 221.9h0M165.3 204.9h0M197.8 88.5h0M140 252.2h0M221.1 50.2h0M219.5 145.1h0M223.1 212.2h0M212 94.3h0M171.1 49.7h0M134.9 154.1h0M210.3 198.1h0M139.3 189h0M218.2 49.1h0M153.9 219.6h0M163.3 212.9h0M159.7 248.9h0M221.9 195.9h0M141.5 222h0M143.2 246.9h0M176 110.4h0M212 165.4h0M215.2 203.1h0M184 56.9h0M141.5 198.1h0M142.6 182.9h0M213.2 208.4h0M192.3 75.3h0M204.3 42.3h0M209.2 48.9h0M160.8 139.6h0M218.4 183.1h0M231.7 183.7h0M201.9 82.3h0M173 87.1h0M144.8 219.1h0M177.4 115.4h0M206.7 50.2h0M208.9 107.2h0M146.3 215.7h0M207 84.2h0M216 161.7h0M144.4 177h0M175.9 201.6h0M207.6 77h0M197.5 186.7h0M202 106.2h0M54 161.1h0M131.6 215.4h0M234.1 180.6h0M156.8 216.6h0M147 249.8h0M133.9 183.1h0M179.9 199.6h0M153.9 244.3h0M181.6 101.6h0M205.9 178.8h0M122.4 216.6h0M138.1 198.4h0M221.1 142.8h0M159.1 251.7h0M224.2 174.5h0M165.1 238.8h0M172.7 61.3h0M142.7 214.3h0M202.4 140.1h0M195.1 172.4h0M169.5 61.8h0M155.1 256.9h0M168.2 185.8h0M203.3 199.4h0M160.2 216.8h0M221.5 135.3h0M168 210.7h0M126.1 176.1h0M187.3 167.1h0M181.6 216.9h0M151.2 250.3h0M192.3 181.6h0M166.3 71.7h0M211.4 161.1h0M148.9 140.3h0M209.2 107.3h0M219.4 155.6h0M136.4 174.2h0M224.3 72.6h0M146.4 207.6h0M152.5 241.2h0M198.2 98.5h0M169.9 212.6h0M143.7 168.1h0M155.1 122.8h0M210.3 178.3h0M126.9 190.5h0M138.3 252.8h0M219.5 89.3h0M216.2 198.6h0M128.7 161.4h0M176.3 78h0M146.6 225h0M153.5 244.9h0M230.1 203.7h0M216.7 155.3h0M128.2 210.8h0M207.3 47.4h0M150.1 140.7h0M230.7 209.4h0M160.3 59.2h0M159.3 236.2h0M178.7 111.8h0M150.6 260.1h0M136.1 230.2h0M143.1 177.6h0M205.7 196.4h0M178 58.6h0M165.5 67.3h0M152.8 245.1h0M190.4 145.6h0M221.2 138.8h0M142.8 226.2h0M133.6 177.8h0M147.3 219.1h0M229.8 75.9h0M122.4 225.1h0M161.9 211h0M122.1 189.4h0M171 56.9h0M134.9 246.2h0M216.5 165.3h0M143.5 142.8h0M160 57h0M205.7 205.6h0M182.2 87.8h0M144.4 193.6h0M125.5 185.9h0M204.2 52.7h0M226.3 70h0M227.8 68.9h0M185.1 79.6h0M155.4 230.9h0M193.3 85.1h0M163.8 235.9h0M212 173h0M131 200.6h0M134.5 228h0M147 126.9h0M147.9 235.8h0M220.7 175.1h0M207.3 176.5h0M192.9 59.4h0M212.8 41h0M153.3 173.7h0M157.3 247.1h0M124.4 202h0M223.1 154.8h0M142.4 154.7h0M120 96.8h0M140.9 190h0M196.3 86.2h0M120.6 234.5h0M223.5 151.8h0M198.3 47.4h0M134.4 232.4h0M222.9 84.5h0M134.8 154.5h0M189.5 90h0M216.8 86.7h0M145.7 257.6h0M139.4 194.7h0M206.9 106.5h0M231.7 185.1h0M189 184.8h0M213 198.6h0M197 105.7h0M217.9 202.8h0M163.5 146.8h0M159.4 63.7h0M208.6 46.5h0M138.3 248.1h0M208.2 69.5h0M231.7 193.7h0M124.6 211.7h0M169.8 232.2h0M141.6 161.4h0M156.8 230h0M141 196.8h0M231.8 210.8h0M141.8 171.2h0M211.1 50.9h0M150.7 243.8h0M225 66.7h0M131 220.4h0M140.3 161.1h0M204.9 181.9h0M197.5 105.9h0M143.7 226h0M228.1 172.9h0M168.8 64.1h0M230.1 201h0M181 89.4h0M218.4 130.9h0M215.2 194h0M157.6 213.3h0M143.7 220.5h0M157.4 210.5h0M191.8 84.1h0M229.7 159.7h0M159.6 218.2h0M134.2 210.6h0M125.9 181.5h0M166 241.6h0M130.7 232.6h0M222.5 191.9h0M146 247.5h0M131.5 163.4h0M184.2 83h0M232 193.9h0M210.8 42.7h0M131.7 236.3h0M162.9 61h0M124.6 202.4h0M214.8 186.2h0M142.3 215h0M157.9 246.4h0M126.6 192.8h0M140.9 230h0M124.6 191.7h0M161.2 57.1h0M154.3 225.3h0M131.4 221.8h0M168.5 122.8h0M146 207.6h0M138 242.3h0M222.2 178.7h0M221.5 54.6h0M199.3 47.7h0M168.9 214.4h0M231.3 194.7h0M132.6 177.5h0M119.1 199.2h0M198.9 70.3h0M122.6 215.9h0M224.6 51.6h0M200.2 193.7h0M158.8 226.2h0M203 58.5h0M211 53.3h0M209.3 55.7h0M232.4 178.2h0M146.2 245.6h0M184.6 59h0M231.5 193.4h0M231.6 172h0M210.6 173.8h0M217.9 175.2h0M146.2 246h0M126.7 184.4h0M168 211.6h0M149.7 258h0M214.4 67.1h0M206.2 195.7h0M131.6 168.6h0M214.4 189.5h0M199 91.4h0M213.5 119.1h0M165.4 63.7h0M169.9 109.6h0M208 47.2h0M157.1 236.1h0M144.2 205.1h0M163.7 78.1h0M187.7 102.9h0M164.2 59.3h0M162.9 240.1h0M151.5 137h0M153.6 234h0M163.3 216.6h0M132.7 189.3h0M121.6 183.5h0M141.5 243.5h0M176.5 83.9h0M198.9 56.1h0M156.3 136.6h0M120.8 202.9h0M166.7 218h0M139.8 160.2h0M152.2 228.1h0M216.4 150.8h0M197.7 90.3h0M232.4 186.3h0M205.3 43.5h0M131 188.4h0M127.6 192.2h0M173.1 59.9h0M167.3 54.5h0M158.2 60.8h0M120.6 189.6h0M236.2 187.7h0M227.6 187.2h0M135.2 160.2h0M163.3 233.1h0M214.3 161.3h0M134.4 182.4h0M181.2 94.8h0M186.9 99.3h0M216 186.2h0M228.6 198.9h0M140.8 186.5h0M230.2 167.9h0M162.7 217.3h0M204.4 84.2h0M161.4 184h0M160.8 61.4h0M125 182.9h0M144.9 207.6h0M144.1 173.2h0M208.3 50.1h0M157.6 222.3h0M179.7 84.5h0M164.6 78.9h0M208.4 179.3h0" stroke="#EE726C" stroke-width="2.2" stroke-linecap="round" fill="none"/>
<path d="M141.9 155.9h0M125.2 193.3h0M219.9 164.5h0M156.1 234.3h0M213.5 204.5h0M123.9 213h0M143 161.8h0M157.2 256.5h0M213.3 52h0M217.9 173.5h0M220.2 192.5h0M146.4 205.9h0M174.7 94.5h0M239.1 207.4h0M210.4 47.2h0M197.7 80.3h0M207 43.2h0M203.1 178.5h0M150.9 253.3h0M221.6 210.5h0M209.3 208.2h0M193.2 141.6h0M222.1 175h0M217.1 139.6h0M173.1 55.6h0M218.9 61h0M141.8 210.1h0M123.6 195h0M170.1 52.3h0M176.5 111.9h0M125.2 196.8h0M141.7 162.1h0M199.4 183.2h0M121.5 92.9h0M151.7 232.5h0M189.3 99.2h0M144 219.1h0M182.3 88.9h0M171.4 124.8h0M223.2 209.7h0M139.4 209.8h0M222.1 128.7h0M237.4 203.2h0M222.8 42.8h0M216.7 205.4h0M150.5 234.9h0M166.1 219.9h0M222.2 196h0M234.8 174.7h0M136.3 190.5h0M213 52.4h0M124.4 196.4h0M147.1 249.2h0M184.7 61.7h0M196.6 144.3h0M147.9 233.7h0M178.3 138.6h0M169.9 123.5h0M226.7 76.9h0M223.6 161.3h0M143.1 234.2h0M159.3 113.3h0M121.6 194.7h0M227 173.8h0M157.7 258h0M212.2 42.6h0M122.6 188.3h0M230.3 171.2h0M170.7 71.8h0M136.3 182.6h0M211 52.7h0M172.7 224h0M141.2 257.1h0M201.1 90.7h0M232.9 205h0M142.7 259h0M218.5 162.1h0M226.8 210.9h0M136.1 230.5h0M214.8 144.5h0M145.1 245.9h0M149.6 243.6h0M226.4 171.5h0M166.4 147.7h0M203.3 54.5h0M142 189.5h0M143.3 244.2h0M207.5 54.1h0M174.5 82.6h0M164.2 222.4h0M211.5 186.6h0M166.6 73.6h0M146 134.6h0M151.3 199.4h0M162.6 249.7h0M213.6 141.1h0M128.5 187.3h0M211.6 91.1h0M139.4 254.7h0M216.5 45.3h0M177.3 57.1h0M162.4 229h0M220.6 157.9h0M151.8 227.6h0M145.8 175.1h0M231.5 184.2h0M126 218.6h0M199 139.3h0M124.3 207.8h0M208.9 135.2h0M215.9 145.4h0M216 92.8h0M167 65.8h0M230.4 167.7h0M139.8 170h0M217 41.7h0M217 155.3h0M155.4 217.8h0M128.9 189.4h0M201.6 56.9h0M126.4 200.7h0M156.6 255.7h0M166.6 188.2h0M167.5 64.7h0M182.3 95h0M184 84.9h0M217.3 91h0M131.3 208.2h0M231.6 167.4h0M157.3 141.1h0M135.1 186.8h0M142.3 222.8h0M211.5 40.6h0M165.9 196h0M205 58.7h0M224.1 134.5h0M211.6 148.8h0M140.8 233.6h0M158.6 237.3h0M154.7 200.8h0M53 159.1h0M164.1 141.4h0M126.9 203.2h0M55.5 161h0M208.7 88.6h0M161.6 206.2h0M128.4 183.3h0M223.9 163.7h0M167.5 57.8h0M158.1 239.2h0M196.6 197.2h0M160 213.2h0M133.3 207.8h0M52.3 158.9h0M213.6 48.2h0M209.1 195.7h0M147 204.4h0M123.7 236.6h0M197.8 90h0M218.9 189.6h0M156.3 248.6h0M198 90.5h0M229.9 176.4h0M217.1 92.2h0M188.4 94.3h0M165.6 223.3h0M119.6 222.1h0M235.5 181.4h0M157.2 253.4h0M164.7 218h0M128.8 187.7h0M189 78.2h0M140.7 246.1h0M203.7 74.4h0M129.7 173.8h0M215 46.8h0M197.5 54.6h0M164.3 62.3h0M165.8 238.2h0M157.3 138.3h0M152.6 248.9h0M130.9 199.1h0M128.1 194h0M152.6 229.2h0M159.9 202.2h0M127.6 206h0M153 251.3h0M160.6 137h0M200.4 124.7h0M148.9 225.7h0M204.5 57.9h0M137.9 243.9h0M154.3 138.2h0M130.3 246.9h0M149.8 233.7h0M126.5 232.5h0M202.4 92.1h0M131.4 190.3h0M226 47.7h0M154.7 258.2h0M168 218h0M155.1 254.1h0M135.2 172.2h0M137.9 210.1h0M140.7 222.2h0M122.5 236.9h0M179.4 116.4h0M168 67h0M151.5 246.9h0M197.7 187.6h0M170.6 124.2h0M209.2 53.6h0M214.8 163.3h0M236.6 201.4h0M191.2 86.7h0M166.4 64.6h0M190.8 77.2h0M197.2 89.4h0M145.1 174.6h0M170 220.1h0M168.7 58.4h0M133.9 186.6h0M126.8 215.7h0M233.2 204.6h0M168.2 64h0M151 242.5h0M161 220.3h0M172.8 225.9h0M160 222h0M120.3 199.6h0M157.8 237.5h0M167.8 227.2h0M219.8 86.4h0M139.1 205.7h0M150.3 235.4h0M156.3 140.6h0M141.9 245.2h0M237.9 192.7h0M204.7 58.5h0M135.9 180.5h0M216.2 143.9h0M223.4 174h0M127.4 233.5h0M126.8 188.1h0M214 184.6h0M215.3 213.2h0M159.6 230.1h0M155.9 244.1h0M207 90.6h0M179.9 71.1h0M204 197.6h0M222.1 84.1h0M121.5 230.3h0M223.1 45.5h0M235.5 211.4h0M178.1 96.2h0M236.8 187.9h0M165.8 242.7h0M222.8 145.6h0M228.7 199.2h0M167.4 60.5h0M141.6 221h0M210.3 77.2h0M200.8 89.9h0M223.6 79.2h0M142.8 202h0M160.6 110.9h0M160.3 241.3h0M178.6 114.2h0M143.4 204.8h0M227.5 212.8h0M169.5 60.8h0M222 71.5h0M173.1 88.7h0M230.5 173.7h0M214.6 170h0M143.9 240.6h0M226.8 75.6h0M163.8 246.4h0M136.9 212.5h0M125.1 205.5h0M225.3 210.5h0M229.1 68.7h0M222.9 179.6h0M202.1 44.3h0M222.4 48.9h0M216.3 177.9h0M165.3 81.8h0M141.5 212.8h0M133.1 178.2h0M218.9 187.2h0M139.2 248.6h0M195.5 53.5h0M199.7 201.9h0M126.4 192.7h0M142.3 206.6h0M142.4 224.5h0M152.6 255.7h0M227.8 162.9h0M132.9 241.8h0M130.3 174.6h0M233.8 205.7h0M119.5 211.4h0M138.9 185.8h0M218.1 171.6h0M159.6 201.8h0M148 228.2h0M164.7 61.2h0M131.5 178.2h0M216.8 49.5h0M216 92.7h0M205.5 74.9h0M234.2 177.3h0M152.3 258.4h0M168.6 51.5h0M123.4 189.1h0M222.7 184.7h0M214.1 151.5h0M137.3 219.4h0M141.3 245.1h0M144.6 254.1h0M215.5 158.9h0M213.3 48.5h0M130 175.6h0M212 182.7h0M149.8 247.2h0M215.2 60.6h0M219.8 48.4h0M142.7 146.1h0M123 181.2h0M168.9 55.4h0M146.3 232.2h0M138.2 221.5h0M122.2 221.1h0M184.3 78.8h0M219.2 172.5h0M200.7 207.2h0M155.8 139h0M123.5 216.3h0M150.9 244.8h0M225.8 178.3h0M145.7 226.6h0M229 158.7h0M189.2 144.9h0M207.6 134.3h0M201.1 109.6h0M138.5 192.5h0M190.2 212.8h0M161.7 212h0M227.7 73.3h0M204.9 92.9h0M130.4 180.3h0M221 163.3h0M149.8 245.2h0M207 57.2h0M142.2 221.2h0M230.6 74.6h0M206.3 70.1h0M163 203.8h0M148.4 208.8h0M131.1 188.6h0M138.3 246.2h0M176.3 85.1h0M126.7 223.8h0M213 147.8h0M168.9 223.9h0M216.6 140.5h0M224.2 69.9h0M162.9 56.8h0M220.8 47.4h0M162 222.8h0M186.9 58.2h0M162.5 66.1h0M217.6 78.1h0M160.9 218.9h0M232.4 213.3h0M153.6 249.9h0M227.3 160.3h0M136.5 184.4h0M159.8 61.7h0M162 234.9h0M162.4 60.5h0M222.5 173.6h0M131.2 244.4h0M161.9 178.1h0M203.5 52.8h0M142.7 181.9h0M164.1 234.7h0M138.4 191.1h0M167.4 237.4h0M154.7 216h0M227.7 73.5h0M188.2 81.8h0M131.3 185.1h0M121.6 185.9h0M134.2 206.4h0M211.7 49.2h0M217.4 208.2h0M146.7 255.6h0M145.6 247.5h0M182.3 97.9h0M209.7 199.1h0M155.6 249.2h0M203.5 42.2h0M219 169h0M212.3 54.8h0M183.4 62.2h0M217.4 149.2h0M132.5 245.1h0M148.1 238.3h0M180.5 216.5h0M224.6 73.1h0M134.7 244.2h0M204 53.6h0" stroke="#EE726C" stroke-width="2.2" stroke-linecap="round" fill="none"/>
<path d="M168.3 105.2h0M180.2 218.5h0M196.2 160.8h0M208.8 107.4h0M185.4 220.1h0M148.9 179.8h0M199.5 192.4h0M170.8 75.8h0M143.8 173.1h0M178.7 209.2h0M159.5 114h0M181.9 137.8h0M178.1 214.2h0M168.4 187.8h0M206.7 75h0M180.5 77h0M203.5 155.4h0M167.6 186.9h0M166.2 161.6h0M182 164.1h0M156.5 148h0M158.5 183.6h0M164.1 106.2h0M163.5 148.6h0M176.4 122h0M202.3 201h0M178.4 170.1h0M179.8 89h0M151 131.9h0M173.5 129.2h0M174.1 217.7h0M200.7 174.5h0M205.1 186.7h0M194.6 176.5h0M149.6 153.9h0M206.6 74.2h0M204.7 152h0M133.8 147.8h0M173 193.3h0M196.6 69.4h0M170.6 195.4h0M200.7 210.3h0M192.1 164.6h0M172.8 103.1h0M198.4 69.7h0M219.1 136.8h0M142.2 180.8h0M138.6 156.1h0M136.7 141.5h0M204.1 81.9h0M182 163h0M160.5 144.3h0M161.1 168.8h0M145.8 160.1h0M178.9 185.3h0M143.7 140.1h0M168.5 72.9h0M143.6 130.3h0M179.8 90.7h0M203.2 87.8h0M173.9 145.4h0M190.2 208.8h0M174.3 199.2h0M153.1 192.3h0M186.6 137.4h0M164.4 176.1h0M144.6 191.2h0M155.4 131.9h0M174.7 156.9h0M206 72.8h0M138 243.5h0M196.2 182.7h0M183.8 203.6h0M198.1 183.1h0M191.7 181.3h0M165.9 148.5h0M130 166.5h0M193.8 101.8h0M152.5 143.1h0M189.4 145h0M155.2 118.2h0M143.1 177.9h0M158 190.7h0M156 181.7h0M172.1 168.2h0M183.6 135.2h0M187.9 206.2h0M184.4 184.2h0M169.9 180.9h0M131.9 137.8h0M174.4 202.7h0M158.5 156h0M132 142.5h0M162.4 177.3h0M177.8 141.7h0M189.2 205.2h0M170.4 101.4h0M191.8 210.5h0M177.2 127.6h0M181.6 198.4h0M194.1 170.2h0M161.7 190.2h0M203.9 195h0M166.1 114.8h0M206.4 183.7h0M176.4 74.3h0M190.7 201.1h0M183.6 88.3h0M201 184.7h0M192 137.9h0M187.1 187.3h0M192.4 172.4h0M173.6 166.4h0M151.8 191.6h0M207.3 70.9h0M208.7 168.4h0M204 190.4h0M166.7 117.9h0M150.8 185.7h0M171.3 146.5h0M198.5 205h0M172.2 196.5h0M143.5 171.3h0M210.9 188.8h0M166.3 122.1h0M145.7 149.1h0M216 133.8h0M150.3 179.3h0M134.9 131.8h0M236.6 120.7h0M207.7 160.8h0M162.9 166.8h0M177.5 120.1h0M204.7 196.8h0M187.5 188h0M172 89h0M205.8 175.4h0M165.1 81.6h0M213.9 195.5h0M185.4 193.1h0M143.9 137h0M208.7 169.3h0M214.4 190.3h0M197.1 212.7h0M191 174.9h0M192.5 119.8h0M183.2 184.3h0M183.3 99.6h0M198.4 212.8h0M147.8 197.4h0M167.9 70.5h0M172.4 142h0M168.2 185.7h0M160.4 107.2h0M189.9 213h0M190.3 169.6h0M213.3 137.7h0M202 75.2h0M177.8 196.3h0M177.4 181.7h0M172 189.8h0M185 147.6h0M173 195h0M160.6 153h0M202.1 153.9h0M207.4 156.9h0M133.3 137.2h0M137.4 141h0M172.9 165.7h0M154.4 133.2h0M136.6 179.8h0M183.6 94h0M196 104.3h0M167.7 180.8h0M200.8 156.3h0M185.3 204.6h0M182.1 209.7h0M196.1 193h0M183.1 97.4h0M145 156h0M190.2 216.9h0M158.6 131.9h0M176.5 130.4h0M173 80.8h0M175.4 230.1h0M156.4 192.7h0M149.7 196.5h0M179.9 171.8h0M229.3 175.9h0M170.5 83h0M148.4 158.5h0M166.4 82.6h0M129.1 158.1h0M243.3 125h0M151 238h0M201.1 177.5h0M166.7 179.1h0M186.1 211.4h0M162.7 183.4h0M197.7 198.2h0M193.2 178.9h0M158.2 134.7h0M149.6 187.9h0M189.2 193.1h0M184.4 175.2h0M170.9 215.5h0M192.5 172.3h0M208.4 69.2h0M181.6 167.8h0M241.2 122.8h0M155.4 171.4h0M153.4 145.6h0M189.8 178.6h0M157.4 123.9h0M154.3 229h0M178 196.4h0M194 168.8h0M148.3 169.4h0M204.7 149.4h0M159.9 193.1h0M191.1 209.1h0M145.3 159h0M146.3 173.9h0M183.4 90.5h0M172.1 198.8h0M198.6 162.6h0M130.3 166.9h0M148.1 193.5h0M207 173.5h0M198 160.3h0M172.2 134.8h0M201.9 154h0M208.6 165.6h0M231.4 196.8h0M196.8 199.5h0M189.5 163.3h0M181.4 165.4h0M138.7 178h0M176.4 207.2h0M150.5 112.9h0M214.3 143h0M194.6 160.2h0M242.1 196.6h0M204.5 194h0M185.4 178.2h0M190.5 196.3h0M185.4 160.8h0M149.8 147.7h0M157.8 147.9h0M172.6 129.1h0M182.1 158h0M142.9 150.2h0M207.6 118.3h0M182 104.3h0M176.3 195h0M201.7 80.8h0M199.5 164.7h0M167.5 113.7h0M167 127.8h0M198 209.9h0M176 103.5h0M146.4 163.7h0M175.9 231.7h0M202.7 76.3h0M210.1 70.2h0M186.1 202.7h0M191.9 87.8h0M161.1 192.2h0M184.3 145.7h0M204.5 70.8h0M209.8 158.2h0M225.3 159.3h0M159.5 119h0M148.1 132.5h0M190.1 187.3h0M187.2 182.3h0M186.2 140.1h0M211.4 188.6h0M174.5 237.4h0M214.7 142.7h0M198.6 192.6h0M193.3 196.5h0M200.1 174.5h0M133 173h0M139.2 137.7h0M195.2 162.3h0M189.9 189.2h0M160.5 179.5h0M177.8 91.3h0M175.2 216.7h0M204.9 154h0M211 163h0M156.6 129.4h0M185.7 163.1h0M207.9 72.6h0M173.4 200.7h0M176.4 125.9h0M203.9 198.3h0M187.8 194.6h0M206 177.4h0M162.9 125.3h0M136.1 147.2h0M176.7 129.5h0M203.2 151.5h0M220.6 178.1h0M148.7 119.3h0M188.5 193h0M176.1 84.6h0M147.4 184.7h0M195.7 198h0M227.3 193.7h0M153.6 130h0M155.4 183.5h0M168.5 140.2h0M175 109.5h0M188.3 164.3h0M210.9 137.4h0M176.1 92.9h0M206.5 108.7h0M178 129.8h0M215.3 162.4h0M206.6 140.3h0M191 147.8h0M210.3 151.9h0M163.2 106.6h0M192.2 137.8h0M197.7 146.1h0M144.2 128.1h0M120 93.7h0M189.3 99.9h0M205 199.2h0M164.8 127.2h0M198.5 155.1h0M218.3 128.3h0M219.8 132.4h0M170.7 195.5h0M171.6 72.7h0M238 124.5h0M167 184.5h0M179.7 113h0M197 195.5h0M178.3 121.2h0M173.6 167.4h0M132.4 171.7h0M179.2 205.4h0M174.3 78.1h0M143.9 222.3h0M132.9 150.5h0M204.5 198.1h0M155.3 150.1h0M170.3 116.1h0M172.7 222.4h0M195.4 191.7h0M170 105.6h0M131.3 136.6h0M195 203.8h0M169.4 75.5h0M124.1 91.9h0M217.5 135.7h0M216.2 92.4h0M200.9 204.6h0M173.4 234.3h0M161.1 143.1h0M130.1 164.4h0M182.8 178.3h0M181.9 183.8h0M209.4 73.4h0M177.8 196h0M236.8 122.2h0M160.8 135.1h0M174 228.9h0M128.5 140h0M158 128.4h0M180.8 191.9h0M180.3 236h0M193.7 169.9h0M167.8 72.7h0M203.5 154.5h0" stroke="#60D4CA" stroke-width="2.2" stroke-linecap="round" fill="none"/>
</g>
</g>
<g id="umap-cluster">
<path d="M361.7 26V272.5H571.5" fill="none" stroke="#1a1a1a" stroke-width="1.25"/>
<line x1="358.5" y1="87" x2="361.7" y2="87" stroke="#1a1a1a" stroke-width="1.0"/>
<text x="355.8" y="90.7" font-size="10" text-anchor="end" fill="#000">4</text>
<line x1="358.5" y1="160" x2="361.7" y2="160" stroke="#1a1a1a" stroke-width="1.0"/>
<text x="355.8" y="163.7" font-size="10" text-anchor="end" fill="#000">0</text>
<line x1="358.5" y1="233" x2="361.7" y2="233" stroke="#1a1a1a" stroke-width="1.0"/>
<text x="355.8" y="236.7" font-size="10" text-anchor="end" fill="#000">−4</text>
<line x1="385.6" y1="272.5" x2="385.6" y2="275.7" stroke="#1a1a1a" stroke-width="1.0"/>
<text x="385.6" y="286.2" font-size="10" text-anchor="middle" fill="#000">−10</text>
<line x1="441.1" y1="272.5" x2="441.1" y2="275.7" stroke="#1a1a1a" stroke-width="1.0"/>
<text x="441.1" y="286.2" font-size="10" text-anchor="middle" fill="#000">−5</text>
<line x1="496.6" y1="272.5" x2="496.6" y2="275.7" stroke="#1a1a1a" stroke-width="1.0"/>
<text x="496.6" y="286.2" font-size="10" text-anchor="middle" fill="#000">0</text>
<line x1="552.1" y1="272.5" x2="552.1" y2="275.7" stroke="#1a1a1a" stroke-width="1.0"/>
<text x="552.1" y="286.2" font-size="10" text-anchor="middle" fill="#000">5</text>
<text x="466.2" y="300.6" font-size="12.2" text-anchor="middle" fill="#000">UMAP_1</text>
<text x="337.4" y="149.5" font-size="12.2" text-anchor="middle" fill="#000" transform="rotate(-90 337.4 149.5)">UMAP_2</text>
<g filter="url(#soft)">
<path d="M524.8 76.8h0M523.7 84.7h0M539.3 89.8h0M539.7 67.8h0M544.4 75.2h0M515.8 104.3h0M527.3 89.7h0M523.1 87.7h0M513.5 101.2h0M546.8 69h0M528.5 94.2h0M520.1 90.1h0M527.2 84.8h0M510.9 80.7h0M521 77.2h0M530.8 89.9h0M515.2 84.3h0M544.4 66.6h0M528.8 92.3h0M543.6 75.9h0M519.5 100.8h0M544.2 71.7h0M542.8 72h0M520.7 81.7h0M520.7 91.5h0M524 104.5h0M545.3 76h0M524.4 74h0M512.7 101.2h0M523.2 71.3h0M510.7 105.4h0M513.9 105.7h0M520 69.9h0M514.4 76.3h0M512 106.4h0M528.7 88.1h0M545.1 69.1h0M526.2 93.3h0M526 80.8h0M507.9 76.7h0M512.7 87.4h0M529.8 90.7h0M513.3 84.1h0M505.6 87.4h0M544.6 74.7h0M547.1 68.2h0M520 91.5h0M506.6 83.8h0M516.4 70.9h0M533.2 96.5h0M514.8 69.8h0M547.4 68.4h0M505.1 84.4h0M546.9 68.6h0M542.1 61.9h0M540.1 61.7h0M524.9 106.4h0M518 102.5h0M502.5 75.7h0M509.2 84.7h0M514.5 72.3h0M526.5 102.4h0M506.7 75.9h0M516.6 105h0M521 83.4h0M528.2 89.1h0M502.4 77.3h0M516.9 82.4h0M528.7 91.7h0M511.3 81.6h0M502.6 74.3h0M517.5 73.3h0M523.1 99.5h0M533.7 85.8h0" stroke="#58D8A0" stroke-width="2.2" stroke-linecap="round" fill="none"/>
<path d="M448.1 240.3h0M456.8 196.8h0M447.9 225.7h0M450.9 243.1h0M454 216.4h0M455.8 226.9h0M446.6 174.1h0M442.8 234.5h0M450.8 224.8h0M447 180.9h0M446 221.9h0M445.6 187.9h0M447.6 204h0M461.2 189.9h0M438.6 198.2h0M450.9 190.2h0M456.5 181.8h0M445.2 194.6h0M441.8 231.8h0M456.7 194.6h0M449.9 198.6h0M451.2 195.5h0M438.7 219.8h0M449.1 203.4h0M442.4 189.7h0M443.6 198.8h0M443.1 186.1h0M453.6 181.1h0M454.5 230.9h0M460.9 216.7h0M450.8 245.9h0M460.6 213.8h0M454.1 216.2h0M441.4 201h0M455.7 181.3h0M448.1 240.8h0M459.3 186.3h0M451.4 237.9h0M448.9 196.6h0M453.8 182.6h0M456.2 225.4h0M450.9 246.1h0M442.5 200.6h0M452.6 220.2h0M439.2 220.7h0M440.6 217.6h0M446.5 220.9h0M455.3 179.5h0M445.2 192.6h0M458.5 225.3h0M444.2 184.3h0M461 193.4h0M447.6 172h0M443.9 194h0M443.1 183.8h0M448.7 174.6h0M455.2 177h0M450.2 224.4h0M455.7 216.4h0M446.8 179.4h0M456 228.9h0M450.2 190.5h0" stroke="#4CD04C" stroke-width="2.2" stroke-linecap="round" fill="none"/>
<path d="M473 210h0M487.8 213.8h0M468.4 204.1h0M465.8 208.8h0M473.3 256.7h0M480.7 247.5h0M471.8 207.4h0M484.5 219.5h0M465.4 213.8h0M487.6 218.5h0M463.4 252.1h0M487.7 220h0M458 249.3h0M493.6 233.1h0M472.8 245.4h0M474.1 230.5h0M474.8 241.3h0M481.9 214.1h0M483.7 244.6h0M474.1 234.4h0M477.7 231.3h0M465.7 211.7h0M466.7 252.4h0M504 215.2h0M459.6 225.5h0M467.5 241.3h0M484.5 225.1h0M461.3 240.9h0M461.4 249.8h0M484.9 210.1h0M458.4 248.6h0M463.8 229.5h0M502.8 220.7h0M482.6 208.8h0M472.5 213h0M461.3 224.6h0M489.4 216.4h0M464.6 245.2h0M458.9 224.1h0M470.4 216h0M469.9 244.5h0M475.5 247.3h0M469.4 249.7h0M472.9 247.6h0M458.2 244.2h0M480 250.5h0M505.8 222.5h0M480.7 210h0M463.4 234.9h0M470.2 247.5h0M487.3 223.7h0M470.7 243.2h0M491.5 225.2h0M482.6 224.1h0M465.1 253.9h0M465.4 241.8h0M470 253.1h0M471 212.6h0M456.7 246.8h0M475.7 216.4h0M459.3 245.5h0M462.9 251.1h0M481.5 235.6h0M463.9 256.8h0M483.7 218.4h0M477.5 221.4h0M484.8 213.2h0M484 225h0M498.9 229.3h0M490.7 219.3h0M455.6 244.8h0M467.4 223.3h0M465.4 219.8h0M496 225.7h0M475.1 213.5h0M483.6 232h0M501.6 226.6h0M482 212h0M462.2 231h0M470.2 228.8h0M471.5 203.2h0M464.4 231.1h0M467.2 246.8h0M471.5 222.7h0M464.8 235h0M462.8 217h0M500.5 223.3h0M509.2 222h0M489.9 224.1h0M463.7 251.7h0M468 207.2h0M473.5 245.6h0M476.1 247.2h0M462 257.3h0M484 231.9h0M467.6 259.8h0M470.8 231.9h0M474.6 255.8h0M488.1 223h0M467.6 202.8h0M481.2 201.4h0M503.1 219.1h0M494.9 235.8h0M465.1 245.6h0M458.4 242.9h0M468.1 222.4h0M486.9 231h0M482 220.7h0M467.7 242.7h0M503 216.5h0M500 234.7h0" stroke="#B5A230" stroke-width="2.2" stroke-linecap="round" fill="none"/>
<path d="M516.3 203.1h0M495.4 207.7h0M493.3 199.1h0M498.5 199h0M503.4 187.9h0M516.3 191h0M507.1 213.6h0M517.9 194.5h0M497.3 205.3h0M501 205.1h0M510.6 201.4h0M505.5 205.2h0M497 192.8h0M520.4 189h0M502.8 191.3h0M506 209.5h0M485 174.6h0M516 178.2h0M510.8 205.8h0M498.8 192.8h0M517.5 192.5h0M511.8 192.4h0M512.9 200.5h0M490 182.7h0M492.1 192.5h0M489.8 194.5h0M514.5 183.5h0M492.6 203.1h0M495.4 197.2h0M479.6 173.3h0M479 161.8h0M499.7 192.3h0M502.7 193.5h0M491.3 195.4h0M501.1 203.8h0M501.6 134.8h0M523.5 195.9h0M487 189.6h0M519.5 182.7h0M483.3 157.5h0M497.9 201.6h0M482 193.1h0M487 188.2h0M490.3 171.1h0M508.1 191.8h0M497.4 197.4h0M499.5 205.1h0M510.7 209.8h0M496.7 187.2h0M491.1 188.3h0M523.8 181.7h0M504.9 179.5h0M494.2 210.3h0M508.4 197.6h0M494.9 186.7h0M504.3 209.5h0M479.2 180.7h0M479 181.8h0M509.7 196.6h0M487.9 185.8h0M521.7 198.1h0M506.8 201.1h0M494.2 185.4h0M502 201h0M498.2 184.5h0M479 179.8h0M518.1 190.1h0M477.3 173.5h0M507.8 213.5h0M490.4 189.9h0M498.4 207.2h0M501.2 189.7h0M480.2 181.6h0M520.1 185.3h0M522.2 176.6h0M516.1 203.8h0M523.3 198h0M494.7 158.9h0M507.8 199.2h0M484.6 186.6h0M500.8 191.5h0M519.6 195.3h0M500.6 184.5h0M510.3 189.2h0M491.6 200.6h0M494.4 204.2h0M497.1 187.6h0M498.3 193.4h0M499.9 202.1h0M518.9 181.4h0M476.6 189.6h0M522.2 186.1h0M481.8 172.8h0M507.2 136.5h0M498.1 208.8h0M497.2 208.2h0M492.1 168.2h0M498.7 190.9h0M497.1 198.6h0M483.1 195h0M507.4 209.4h0M477.2 180.6h0M504 210.3h0M512.1 187.8h0M509.1 208.4h0M516.6 212.1h0M502.3 185.2h0M477.1 163.1h0" stroke="#86B72E" stroke-width="2.2" stroke-linecap="round" fill="none"/>
<path d="M499 176.5h0M507.9 159.7h0M498.2 176.7h0M503.6 160.2h0M498 177.1h0M501.7 181.6h0M497.8 178.1h0M507 164.3h0M514.8 156.3h0M506.8 155h0M498.2 181.3h0M506.9 171.4h0M508.1 163.2h0M499.2 179.9h0M496.3 174.5h0M512.7 162h0M499.9 184.6h0M501.7 167.9h0M513.7 152.5h0M513.4 167h0M517.7 164.4h0M509.4 153.9h0M500.5 165.5h0M499.2 172.8h0M509.8 163h0M498.6 178.6h0M504.5 183.2h0M512.6 175.9h0M503.9 165.8h0M501.3 179.5h0M512.3 161h0M511.2 161.9h0M511.8 156.8h0M499.3 165h0M504.4 180.7h0M510.6 166.8h0" stroke="#52BEEC" stroke-width="2.2" stroke-linecap="round" fill="none"/>
<path d="M522.6 168.2h0M532.4 141.5h0M529.3 198h0M532.8 131.7h0M550 203.9h0M526.9 178.1h0M534.5 143.4h0M535 138.7h0M525.6 134.7h0M518.1 170.7h0M549.2 210.8h0M527.1 160.9h0M554.1 197.4h0M552.3 195.3h0M553.9 187.9h0M536.5 133.6h0M541.3 131.1h0M540.2 177.4h0M549.7 162.7h0M548.8 165.8h0M539.3 199.9h0M550.5 212.8h0M544.5 182.7h0M531.6 178.4h0M524.8 135.5h0M527.1 189.9h0M543.7 168.9h0M524 152.9h0M529 156.4h0M534.6 147.4h0M548.1 171h0M532.2 159.8h0M535.2 167.3h0M555.9 195.9h0M534.3 131.2h0M544.6 156.1h0M538.2 184h0M537.3 184.2h0M528 183.8h0M544.7 184.8h0M523.4 169.5h0M547.6 170.8h0M531 212.5h0M539.7 170.1h0M520.2 167.9h0M527.2 147.5h0M511.4 136.5h0M530.9 211.9h0M511.5 147.9h0M539.5 135.5h0M524.8 176.2h0M516.9 177.2h0M539.8 186.6h0M526.3 157h0M551.5 177.9h0M527.1 207.3h0M542 197.3h0M518.6 164.7h0M552.8 184.1h0M530.6 152.9h0M539.9 207.8h0M531 173.5h0M529 173.4h0M527 147.4h0M543.1 185.1h0M535.3 206.1h0M523.7 183.4h0M555.2 192.5h0M547.7 176.1h0M530.7 184.5h0M525.9 170h0M531.2 146.9h0M529.7 170.6h0M534.1 143.1h0M526.5 182.9h0M549.1 191.7h0M548.7 185.1h0M523.8 201.1h0M554.6 190.8h0M527.7 193.8h0M537 130.8h0M512.4 148.6h0M550.1 206h0M538.4 136.9h0M547.2 209.8h0M535.2 141.4h0M546.3 207.5h0M521.6 150.4h0M520.2 165.5h0M516.7 167.7h0M534.2 176h0M552.3 194.8h0M541.7 193.8h0M531.9 188.6h0M546.4 179.9h0M544.4 182.6h0M551.9 206.7h0M534.6 129.9h0M532.6 166.7h0M547.8 183.1h0M524.1 142.5h0M527.8 146.8h0M524.7 176.3h0M525.8 202.8h0M526.2 166.5h0M522.2 170h0M558.3 188.7h0M544.1 158.7h0M537.1 206h0M537.8 195.4h0M546.6 175.4h0M529.1 206.6h0M526.2 174h0M552.3 190.7h0M541.7 133.4h0M526.1 200.8h0M545.5 190.2h0M523 164.9h0M535 215.3h0M523.7 165h0M558.4 190.8h0M543.2 172.6h0M527.1 172.5h0M537.3 199.3h0M528.7 170.2h0M549.9 193.8h0M525.9 173.2h0M526.7 117.7h0M537.1 139h0M540.4 215.9h0M551.3 195.9h0M540.8 136.8h0M539 208.8h0M525.1 169.5h0M535.3 177h0" stroke="#DB8E2C" stroke-width="2.2" stroke-linecap="round" fill="none"/>
<path d="M452.9 133.4h0M458.6 142.9h0M464.7 133.7h0M457.2 177.6h0M468.5 121h0M468.2 129.7h0M510.6 152.2h0M488.1 122.4h0M496.2 143.6h0M486.1 106.4h0M471.3 143.6h0M477.6 129.8h0M454.7 178.7h0M450.6 141.9h0M476.8 151.7h0M492 145h0M478.2 127.3h0M450.7 139.9h0M478.6 144.6h0M481.9 135.6h0M467.6 162.6h0M473.4 111.5h0M467.5 174.3h0M503.7 86.8h0M456.4 171.6h0M452.6 146.8h0M484.5 147.8h0M472.4 109.6h0M493.3 109.2h0M496.2 135.5h0M482.8 146h0M489.4 148.6h0M452.4 144.5h0M489.6 142.4h0M490.3 110.4h0M505.3 124.2h0M452.1 137.4h0M453.8 167.4h0M483.1 109.8h0M468.2 158.7h0M485.8 126.9h0M479.5 139.5h0M484.3 125.2h0M465.3 144h0M485.6 123.6h0M468.6 189.7h0M494.5 115.6h0M466.2 174.1h0M468 162.7h0M451.8 155.9h0M470.8 183h0M480.7 125.5h0M494.7 124.9h0M473.4 169.7h0M501.9 150.8h0M472.8 172.1h0M454.2 151.5h0M471.5 180.3h0M503.8 67.7h0M485.6 141.8h0M468.8 114.6h0M466.5 162.1h0M454.6 157.3h0M474.1 181.2h0M471.4 152.2h0M457 160.4h0M478.5 111.8h0M490.7 111.9h0M456.5 150.6h0M495.5 120.3h0M450.8 174.8h0M464.1 124.2h0M466.2 117.3h0M465.6 136h0M484 124.1h0M493.5 109.1h0M461.3 139h0M464.1 164.7h0M472 170.2h0M471.5 135h0M483.8 149.4h0M485.4 132.3h0M462.9 180.3h0M457.9 176.6h0M485.2 111.9h0M492.7 110.5h0M514.2 75.9h0M469.6 119.8h0M463.8 148.9h0M485 128.2h0M460.5 147h0M450.2 143.7h0M488.6 136.2h0M455.9 143.8h0M503.5 117.8h0M451.8 155.7h0M470.4 148.5h0M497.5 87.3h0M453 161.9h0M499.3 134.9h0M491 120.3h0M475.1 121.8h0M490.3 132h0M480.4 150.2h0M471.6 119.9h0M464.7 117.8h0M455.7 144.4h0M464 142.5h0M477.5 137.7h0M464.9 175h0M480.6 127.1h0M449.5 175.7h0M495.1 107h0M493.8 68.5h0M489.5 138.3h0M460.6 184.6h0M461.4 189.1h0M467.7 174.6h0M470 141.8h0M452.3 151h0M491.3 126.1h0M473.4 181.5h0M455.7 142.9h0M482.8 114.2h0M500.8 150.4h0M467 135.6h0M491.5 125.6h0M474.6 134.3h0M470.7 117.1h0M488.7 131.7h0M461.4 155.3h0M496.2 125.5h0M480.9 126.7h0M495.4 122.4h0M491.2 143h0M490.6 122.2h0M469.6 181.2h0M465.9 167.3h0M448.5 158.2h0M496.5 125.3h0M485.4 144.3h0M454.3 156.2h0M474.8 186.3h0M460.9 130.5h0M492.9 121.9h0M463.8 123.1h0M469.6 121h0M490.5 121.5h0M469 148.2h0M464 153.8h0M488.7 144.3h0M463.3 137.8h0M475.8 149.5h0M488.5 145.8h0M457.5 133.3h0M483.2 116.9h0M469.8 118.2h0M468 169.2h0M465.6 116.2h0M451.8 157.8h0M450.2 146.6h0" stroke="#EE726C" stroke-width="2.2" stroke-linecap="round" fill="none"/>
<path d="M506.1 100.2h0M502.5 80.4h0M500 98.9h0M493.2 79.8h0M484.8 56h0M484 57.6h0M500.8 80.1h0M485.4 86.1h0M487 61.9h0M493.8 78.6h0M492.8 80.9h0M505.3 91.6h0M487.6 60h0M501.7 58.3h0M495.4 80.2h0M480.4 60.5h0M480.4 61.6h0M482.2 63.5h0M484.4 75.7h0M507.4 93.2h0M479.7 61.4h0M486.8 61.9h0M506.4 95.9h0M489.2 53.2h0M493.2 77.6h0M478 64.7h0M484.2 76.5h0M479.5 63.1h0M506.4 100.7h0M498.3 101.3h0M496.7 78.4h0M497.7 110.1h0M497.7 91.8h0M505.2 56.6h0M489.7 61.2h0M484.6 56.1h0M502.5 87.5h0M490.3 106h0M478.5 55.7h0M500.1 97.8h0M498.9 75.7h0M497.3 88.2h0M494.9 78.6h0M503.1 81.5h0M498.4 74.2h0M496.9 99.2h0M491.4 77.8h0M503.6 97.9h0M506 61.8h0M484.3 59h0M506.5 102.6h0M484.2 75.2h0M500.6 92.5h0M498.2 78.1h0M495.8 84.1h0M475.9 60.5h0M503.1 59.5h0M497.1 108.1h0M492.2 76h0M490.3 103.1h0M499.2 57.6h0M498.9 91.8h0M490.5 51.5h0" stroke="#5CD3CC" stroke-width="2.2" stroke-linecap="round" fill="none"/>
<path d="M552.1 123.4h0M556.5 120.7h0M559.1 118.9h0M555.7 122h0M558 122.9h0M557.8 120.6h0M560.8 123h0M557.3 125.4h0" stroke="#C47CFA" stroke-width="2.2" stroke-linecap="round" fill="none"/>
<path d="M522.3 48.5h0M522.6 55.5h0M527 43.8h0M523.5 52.5h0M521.5 43.6h0M539.3 48h0M540.6 44.3h0M541.3 50.3h0M542.9 49.1h0M523.1 47h0M528 45.1h0M530.7 43.6h0M517.4 50.8h0M526.2 57.6h0M529.2 49.5h0M533.3 46.5h0M519.7 49.2h0M531.4 42.3h0M546.6 49.3h0M539.6 42.9h0M524.3 42.5h0M527.3 45.4h0M522 51.6h0M538.4 44.6h0M521.2 46.6h0M544.8 52.3h0M518.3 58.1h0M528.8 46.2h0M517.5 49.7h0M529.2 43.3h0" stroke="#6CA0FA" stroke-width="2.2" stroke-linecap="round" fill="none"/>
<path d="M441 94.8h0M437 97.4h0M440.8 93.3h0" stroke="#F76CF5" stroke-width="2.2" stroke-linecap="round" fill="none"/>
<path d="M480 62.5h0M494.1 56.1h0M498 73.4h0M489.8 81.6h0M487.2 77.5h0M499.1 75.5h0M484.3 83.6h0M500.5 73.8h0M505.2 62.5h0M484.1 75.6h0M501.2 90.3h0M489 61.6h0M487.7 85.7h0M489.5 85.1h0M499.8 81.5h0M500.4 87.1h0M486 58.5h0M501.5 79.8h0M485.3 59.6h0M487 78.3h0M486.9 55.3h0M504 103.2h0M499.4 88.4h0M493.1 107.8h0M492.2 111.1h0M490.2 56.9h0M488.8 54.9h0M489.5 51.1h0M487.1 59.4h0M485.1 60.7h0M502.1 90.9h0M501.2 81.6h0M498.7 99.5h0M508 57.7h0M493.2 79.6h0M500.5 82.4h0M497.7 62.1h0M486.1 74.7h0M486 80.5h0M485.9 67h0M492 92.6h0M488.3 77.1h0M497.7 73.9h0M505.2 59.9h0M487.3 52.3h0M493.9 88.9h0M501.3 101.3h0M508.1 96.3h0M489.8 74.6h0M482 75.4h0M481.2 59.4h0M486.8 106.5h0M493.5 71.7h0M486.3 56.6h0M482.9 77.9h0M486.5 74.1h0M478 63.8h0M499.1 73.3h0M478.1 60.2h0M496.2 79h0M482.4 54.4h0M496.3 82.8h0M496 91.4h0M491.6 90.8h0M481.2 64.6h0M500.8 107.4h0M492.4 81.6h0M501.5 94.4h0M492.6 59.1h0" stroke="#5CD3CC" stroke-width="2.2" stroke-linecap="round" fill="none"/>
<path d="M475.2 182.8h0M486.7 119.3h0M460.6 146.9h0M486.9 129.8h0M493.8 117.4h0M480.7 117.3h0M479.8 124.7h0M461.5 126.7h0M471.5 173.4h0M449.6 159.4h0M455.9 175.5h0M485.1 132.9h0M468 174.4h0M459.6 153h0M458.2 174.6h0M459.4 146h0M471 188.4h0M464.5 178.6h0M481.3 152.8h0M472.7 190.7h0M455.6 147h0M458.7 137.5h0M498.1 70.4h0M488.5 145.4h0M496.3 116h0M477.2 129.3h0M469.9 135.1h0M488.2 118.9h0M458.7 151.4h0M456.9 177h0M490.3 109.5h0M500.7 108.2h0M471.9 180.8h0M470 188.8h0M481.6 127.7h0M484.3 143.5h0M466.4 196.2h0M499.6 134.6h0M494.2 123.5h0M453 155h0M452.2 156.5h0M482.2 133.1h0M470.7 136.2h0M508.4 140.7h0M461.2 186h0M494.7 117.8h0M462.9 142.2h0M467.8 167.8h0M492.7 108.7h0M484.4 85h0M455.3 168.9h0M479.1 148.5h0M475.2 175.9h0M459.8 153.3h0M477.1 107.1h0M456.5 160.1h0M474.6 181.6h0M500.6 112.8h0M452.8 169.5h0M477.8 128.5h0M464.3 187.2h0M496.7 128.1h0M507.2 125.1h0M491 147h0M518.2 138.4h0M485.9 140.8h0M463 172.6h0M500.7 73.6h0M465.6 181.2h0M478 120.4h0M452.8 158.7h0M497.1 123.4h0M485.8 118.5h0M472 140.5h0M453.3 147.1h0M489.3 119.3h0M474.2 126h0M480 111.9h0M509.3 124.3h0M469.8 148.1h0M468.8 140.6h0M460.2 158.1h0M467.3 131h0M507.4 124.8h0M485 147.1h0M469.8 146h0M463.7 176.4h0M490.9 111.2h0M459 133.4h0M486.4 139.7h0M460.4 173.3h0M487.4 81.2h0M454.4 149.6h0M480.9 129.9h0M460.6 143.1h0M482.4 143.5h0M495.7 131.3h0M452.6 138.3h0M449.7 169.3h0M484.9 111h0M457.6 142.3h0M452.3 147.1h0M482.2 141.9h0M471.5 153.9h0M490 143h0M457.3 172.3h0M467 164.9h0M470.3 123.5h0M454.3 153.2h0M486.5 126.3h0M483.7 128.4h0M479.1 121.4h0M462.1 160.5h0M472.8 138h0M463.4 191h0M464.7 122.6h0M468.8 114.3h0M481.2 151.1h0M454.3 141.4h0M472.4 178h0M482.9 133.6h0M460.9 170.9h0M468.8 180.4h0M460.2 177.2h0M462.2 165.8h0M494.8 106.7h0M467.3 157.5h0M447.4 149.7h0M462.1 183.5h0M492.2 104h0M473.2 187h0M471.7 124.1h0M479.7 127.6h0M459 164h0M474.8 123.4h0M489.9 108.8h0M472.4 132h0M457.1 144h0M448.3 166.3h0M473.2 141h0M456.4 137h0M454.2 171.2h0M460.7 189h0M499.8 108.5h0M493.1 105.9h0M467.7 136.3h0M456.1 175h0M510.2 85.3h0M462.4 137.2h0M474 142.2h0M489.9 126.3h0M450.1 139.7h0" stroke="#EE726C" stroke-width="2.2" stroke-linecap="round" fill="none"/>
<path d="M514.7 52.7h0M520.6 50.7h0M541.7 44.3h0M530.1 49.7h0M538 44.9h0M528.8 53.3h0M530.6 51.1h0M518.5 56.2h0M529.8 44.4h0M530.1 52.7h0M523 50h0M540.5 48.1h0M528.2 53.6h0M536.2 45h0M524.7 53h0M527.7 49.8h0M519 56.6h0M523.3 46.4h0M529.5 43h0M526.9 46h0M537.3 48.4h0M522.8 54.4h0M526.7 46.4h0M526.7 50.2h0" stroke="#6CA0FA" stroke-width="2.2" stroke-linecap="round" fill="none"/>
<path d="M511.9 219.4h0M482 213.4h0M471.9 250.1h0M479 224h0M475.4 227.3h0M462.6 236.1h0M473.3 223.8h0M477.7 248h0M483 209.4h0M499.6 235.9h0M475.6 200.9h0M461 236.9h0M476.2 237.2h0M476.2 202.8h0M495.2 235.6h0M506.6 221.4h0M457.3 252.3h0M470.8 219.9h0M463.2 243.6h0M468 253.3h0M478.6 237.2h0M478 232.8h0M475.8 216.4h0M476.8 227.7h0M487.1 212.1h0M487.6 222.9h0M469.6 258.5h0M454.4 246.2h0M459.2 249h0M470 227.7h0M462.7 236.1h0M501.4 223.8h0M462.6 236.5h0M490.9 232.9h0M481.2 201.1h0M453.1 247.5h0M469.3 244.3h0M467.6 210.4h0M467.1 219.4h0M467.6 240.8h0M462.9 212.9h0M460.6 219.4h0M471 247.3h0M454.2 247.3h0M509.9 220.1h0M492 216.2h0M502.4 234.6h0M472.9 247.3h0M479.6 238.4h0M481.3 225h0M470.9 233.2h0M472.5 219.8h0M470.6 259h0M475.7 226.2h0M461.4 258.2h0M482.6 220.1h0M464.4 204.2h0M470.2 204.5h0M468.7 235h0M492.3 213.6h0M470.8 206.9h0M480.8 233.4h0M483.3 237.3h0M473.3 249.8h0M474.8 216.5h0M458.4 252.3h0M462.7 221.5h0M474.3 230.4h0M474 233.2h0M460 258.5h0M468 219.6h0M498.2 222.7h0M487.6 223.6h0M469.1 247.8h0M465 236.2h0M453.1 245.2h0M492.8 220.7h0M469.4 209.5h0M461.8 232.9h0M475 216.4h0M471.1 242.6h0M474.1 239.5h0M465 227.8h0M467.2 234.9h0M499.6 227.5h0M480.5 208h0M477.6 208.5h0M479.5 200.5h0M473 240.7h0M468.8 255.5h0M464 241.9h0M475.1 248h0M484.4 238.1h0M476.5 207.8h0M462.9 260.2h0M483.5 235.3h0M499.2 218.7h0M477 230.6h0M482.9 210.2h0M466.6 244.9h0M480.5 215h0M476 204.2h0M460.8 236.1h0M465.5 223.8h0M465.7 256.7h0M488.8 216.2h0M493.5 219.2h0M471.1 236.6h0M484.3 238.8h0M476.1 251.5h0M481.6 226.3h0M483.3 210.5h0M505.8 221.2h0M463.4 225.7h0M467.3 223.8h0M464.8 237.8h0M494.2 218.9h0M470.6 237.9h0" stroke="#B5A230" stroke-width="2.2" stroke-linecap="round" fill="none"/>
<path d="M443.4 190.2h0M441.7 195.9h0M445.4 184.3h0M450.5 186.4h0M444.6 179.3h0M461.4 204.5h0M445 182.6h0M458 225.1h0M448.1 199.9h0M447.1 186.8h0M455.5 226.2h0M437.7 205.1h0M446.8 194.7h0M450.1 215.3h0M446.9 188.8h0M452.8 206h0M454 238.5h0M440.2 203.2h0M441.6 206.2h0M458.9 210h0M443.6 239.7h0M444.7 224.5h0M454.3 191.2h0M441.7 223.2h0M446.2 227.3h0M451.1 220.3h0M459.7 218h0M444.9 226.3h0M453.3 220.6h0M452.5 194.2h0M454.7 191.5h0M444.6 175.7h0M446.1 197.9h0M437.8 202h0M438.5 198.2h0M441.9 180.6h0M443.7 184.4h0M451.8 232.7h0M447.2 190.4h0M446.3 192.4h0M452.9 202.4h0M460.9 192.9h0M460.3 215.7h0M446.3 244.9h0M462.6 218.3h0M437.7 199.5h0M437.4 202.7h0M439.3 208.3h0M442.2 247.5h0M451.7 194.4h0M445 184.5h0M448.4 190.6h0M451 189.6h0M450.4 188.2h0M457.3 193.9h0M452 234h0M454.4 232.7h0M452.7 216.9h0M456.3 194.9h0M450.8 217.2h0M449.6 187.5h0M450.5 203.6h0M456.6 197.1h0M463.5 199.4h0M451.4 202.3h0M445.7 191.6h0M441.6 188h0M456.6 180.2h0M452.7 218.2h0" stroke="#4CD04C" stroke-width="2.2" stroke-linecap="round" fill="none"/>
<path d="M540.6 154.3h0M531.7 195.7h0M528.3 192.4h0M546 178.5h0M511.5 133.3h0M529.7 146.4h0M542.1 183h0M549.8 170h0M524.5 178.3h0M537.5 171h0M525.3 146.1h0M536.2 198.9h0M538.8 162.9h0M525.9 201.4h0M528.4 213h0M512.2 141.3h0M526.2 193.3h0M553.5 201.9h0M539.6 133.1h0M528.6 195.9h0M548 182.7h0M519.6 143.3h0M542.3 131h0M554.1 185.2h0M533.3 140.7h0M547.3 157.9h0M549.5 182.2h0M535 172.2h0M537.1 188.2h0M533.3 138.4h0M524.7 194h0M549.4 198.5h0M549 205.1h0M531 171.7h0M546.6 177.6h0M530.7 208.5h0M524.6 148.6h0M546.6 170.3h0M540.3 174.5h0M542.2 197.5h0M532.3 138.2h0M549.8 186.5h0M550 190.9h0M541.9 166.3h0M527.2 167.8h0M541.8 191.2h0M528.6 169.1h0M527.8 170.6h0M537.2 145.2h0M532.5 141.4h0M514.9 137.3h0M525.3 153.7h0M550 183h0M529.9 169.1h0M520.4 151.5h0M513.5 135.3h0M531.2 207.9h0M543.1 131.4h0M536.6 175.4h0M526 153.3h0M550 196.3h0M528.5 153h0M541.4 156.3h0M542.2 173.1h0M526.6 166.1h0M516.2 133.3h0M548.7 173.2h0M525.4 200.3h0M550.5 170.3h0M531.9 192.8h0M537.7 195.2h0M538.5 177.9h0M537.9 195.6h0M552 171.2h0M535 185.4h0M539.7 196.5h0M553.3 197h0M519.9 141.4h0M549.1 189.9h0M530.6 177.7h0M531.2 178.3h0M549.2 192.2h0M511.2 145.1h0M533.2 168.5h0M553.2 204.8h0M542.8 174.8h0M525.3 176.2h0M537.5 170.4h0M546.5 199.8h0M536.4 135.8h0M555.8 196.1h0M528.7 145.5h0M530.5 180.8h0M548.7 186.3h0M554.8 200.9h0M551.7 200.2h0M551.6 174.1h0M533.9 139.6h0M544 154.5h0M549.3 182.4h0M536.1 170.8h0M532 132.4h0M520.8 167.6h0M538 139.5h0M543.6 197.5h0M517 162.9h0M542.1 190.3h0M540.6 183.9h0M518.7 148.1h0M529.6 199.2h0M513.4 147.4h0M525.8 197.2h0M532.8 181.3h0M541.3 146.6h0M540.4 132.6h0M543 176.4h0M540.6 166.5h0M527.1 161.8h0M523.7 180.2h0M553.6 178.9h0M547.8 172.1h0M555.1 183.4h0M534.1 176h0M541.7 160.8h0M525.2 178.9h0M521.9 175.7h0M517.7 178.1h0M535 130.2h0M559.4 193.9h0M526.7 210.3h0M534 138.7h0" stroke="#DB8E2C" stroke-width="2.2" stroke-linecap="round" fill="none"/>
<path d="M537.2 92.6h0M538.2 93h0M533.4 93.9h0M511.1 106.2h0M528.9 90.8h0M508.3 82.2h0M527.1 83h0M510.8 99.9h0M518.6 70.9h0M521.7 74.7h0M539.9 90.4h0M521.5 83.3h0M525.4 101.4h0M520.3 75.3h0M529.1 89.3h0M518.8 81.2h0M511.1 81.8h0M512.6 105.6h0M518.1 108.2h0M540.7 64.8h0M536.1 79.8h0M510.3 102.8h0M519.2 73.4h0M524.7 73.7h0M523.1 86.9h0M531.6 91.9h0M511.3 83.5h0M511.4 82.3h0M530.7 63.7h0M517.1 74h0M542.4 69h0M513.4 83.9h0M520.7 85.8h0M515.1 81.7h0M536.6 59.7h0M525.3 106.3h0M509.3 102.4h0M535.1 88.6h0M519.5 80.7h0M526.1 81.5h0M510.8 102.9h0M543.3 68.7h0M518.6 89.6h0M506.5 86.6h0M523.1 69h0M521.9 73.9h0M504.3 74.1h0M543.3 68h0M510.4 107.2h0M520.2 72.5h0M513.6 78.4h0M523.8 85.4h0M536.8 95.3h0M544.1 66.4h0M527 69.5h0M537.6 87.8h0M511.5 80.4h0M546.5 74h0M542.7 74.9h0M503.9 80.4h0M537.1 92.4h0M547.9 73.8h0M520.8 107.4h0M510.8 86.6h0" stroke="#58D8A0" stroke-width="2.2" stroke-linecap="round" fill="none"/>
<path d="M509.1 185h0M506.1 208.5h0M510.9 180.3h0M479.9 173.2h0M500.1 192.7h0M482.9 196.7h0M507.8 212.4h0M508.5 204.8h0M494.8 204.9h0M497.5 191.3h0M507.2 194.3h0M496.5 199.1h0M494.8 200.2h0M488 194.7h0M490.2 195.3h0M488 187.7h0M514.3 210.3h0M516.6 209.3h0M478.6 153.7h0M515.2 203.9h0M500 194.1h0M521.5 180h0M492.2 191.5h0M504.4 153.4h0M519.7 198.1h0M498.6 195.9h0M509.4 181.4h0M515.9 211h0M479 185.7h0M508.3 190.1h0M509.8 209.3h0M514.2 190.1h0M491.9 201.7h0M493.8 197.4h0M496.9 207.2h0M501 188.6h0M497.3 206.5h0M518.7 194.3h0M516.8 208.9h0M517.1 211.7h0M491.8 194h0M500.1 205.9h0M508.6 204.2h0M503.9 192.2h0M520.9 207.5h0M515.3 181.8h0M483.6 170.7h0M499 204.4h0M478.5 178.7h0M478.8 191h0M491.3 191.7h0M510.5 213.1h0M511.7 197.1h0M502 206.6h0M498.9 193.9h0M516 206.9h0M487.9 200h0M493.6 198.6h0M514.7 194.2h0M495 203.2h0M489.4 200.1h0M508.7 197h0M497.5 203.9h0M512.6 194.4h0M512.9 182.3h0M512.2 196h0M516.6 190.7h0M518.6 178.4h0M520 176.1h0M480.7 163.1h0M501.3 187.1h0M473.4 183.3h0M511.6 194.3h0M506 141.5h0M519 208h0M508.8 211.6h0M488.8 181.4h0M487.8 183.8h0M507.7 192.8h0M523.1 194.3h0M492.7 206.7h0M520.9 195.6h0M498.8 185h0M495.7 200.4h0M502.8 207.5h0M521.1 205.4h0M486.9 193.1h0M503.1 210.7h0M520.1 202.9h0M498.1 190.9h0M500.1 197h0M524.2 200.6h0M513.3 191.1h0M509.9 189.4h0M506.1 204.5h0M495 203.5h0M509.7 186.4h0M508.8 208.2h0M493.3 200.7h0M500.4 192.7h0M505.7 194.5h0M488.4 180h0M507.8 210.5h0M506.7 211.9h0M496.8 190.9h0M499.4 142.3h0M508.7 207.4h0M508.3 188.4h0M480.7 156.2h0M518.8 199.9h0M497.8 200.3h0M495.5 195.2h0M499.2 185.2h0" stroke="#86B72E" stroke-width="2.2" stroke-linecap="round" fill="none"/>
<path d="M554.7 120.7h0M556.1 124.5h0M555.2 123.3h0M560.6 125h0M558.3 119.6h0M556.6 120.1h0M556.6 121.7h0" stroke="#C47CFA" stroke-width="2.2" stroke-linecap="round" fill="none"/>
<path d="M514.1 160.4h0M497.3 168.8h0M505.8 170.5h0M504.9 167.6h0M514.2 160.1h0M504.2 181.6h0M500.9 147.2h0M516.5 166h0M508.1 162.9h0M498.3 179.8h0M513.8 174.4h0M504.3 156.5h0M503.7 172.6h0M501 175h0M501 165.9h0M504.5 173.9h0M499 174.1h0M503.6 161.8h0M507.4 171.1h0M500 149h0M502.4 145.8h0M504.5 163.3h0M495.3 179.7h0M499.8 164.5h0M504.2 152.6h0M514.4 165.8h0M496.7 174h0M500.6 159.2h0M504.2 182.2h0M514.4 171.1h0M498.7 178.3h0M503.4 165.2h0M515.7 171.7h0M511.6 167.4h0M505.2 175.3h0" stroke="#52BEEC" stroke-width="2.2" stroke-linecap="round" fill="none"/>
<path d="M372.1 157.7h0M371.8 158.3h0M372.9 160.7h0M370.6 157.9h0" stroke="#F866B8" stroke-width="2.2" stroke-linecap="round" fill="none"/>
<path d="M440.1 94.5h0M439.4 95.8h0M439.3 94.4h0M441 93.5h0M440.1 94.9h0M438.4 96.7h0" stroke="#F76CF5" stroke-width="2.2" stroke-linecap="round" fill="none"/>
<path d="M515.3 192.2h0M509.6 193.9h0M501.6 150.1h0M515.1 190h0M493.9 204.9h0M486.4 161.1h0M503.7 191.6h0M484 189.3h0M515.2 213.4h0M500.6 197.1h0M522.1 185.8h0M513.7 199.1h0M483.5 173.6h0M496.6 206.5h0M496.9 183.1h0M481.4 184.4h0M517.6 197.8h0M473.6 188.1h0M508.5 203.3h0M495.3 196.7h0M519.1 197.2h0M521.5 194.1h0M475.7 183.7h0M518.7 194.7h0M499 205.4h0M494 199.5h0M499 191.2h0M483.5 185h0M508.1 145.9h0M512.4 196.6h0M478.3 183.7h0M492.4 195.1h0M476 168.4h0M495.9 188.7h0M516.7 204.3h0M506.1 197.6h0M511.6 195.6h0M506.5 209.6h0M489.9 200.2h0M513.3 209h0M487.1 193h0M509.4 186.7h0M515.6 203h0M495.7 199.3h0M489.7 192.6h0M500.9 199.6h0M522.8 195.9h0M482.2 192.2h0M484.3 191.9h0M495.3 155.2h0M495.6 199.5h0M512.5 188.5h0M508.8 203.8h0M504.2 211.8h0M489.8 194.4h0M501.3 203.2h0M505.9 189.3h0M510.7 207.2h0M519.8 197.2h0M518.5 195.2h0M507.2 178.6h0M520.3 193.3h0M491.9 190.4h0M515.6 195.9h0M508.6 200.3h0M483 192h0M522.1 192.5h0M509.7 193.6h0M478.3 191.5h0M505 148h0M502.8 207.3h0M503.5 181.4h0M521.9 205.2h0M482.4 187h0M505.1 191.6h0M499.4 188.8h0M498.1 201.2h0M496.2 197.4h0M510.8 202.7h0M491.9 196h0M502.5 191.3h0M503.6 209.6h0M520.5 199.6h0M516.6 192.4h0M510.8 131.5h0M501 197h0M512.7 212.4h0M486.8 181.7h0M488.3 185.2h0M495 194.8h0M489.5 205.1h0M507 197.5h0M514 181h0M497 191.6h0M522 207h0M507.8 178.3h0M509.5 200.2h0M520.3 209.7h0M511.3 179.3h0M495.8 202.9h0M509.7 187.2h0M490.5 195.9h0" stroke="#86B72E" stroke-width="2.2" stroke-linecap="round" fill="none"/>
<path d="M538.2 208.5h0M533.8 147.4h0M536.5 143.4h0M537.1 164.5h0M546.5 194.6h0M535.2 214.5h0M551.9 174.7h0M549.5 176.4h0M536.5 134.9h0M538.6 198h0M544.8 155.1h0M553 193.9h0M528.3 145.2h0M535 199.4h0M539.8 140.1h0M523 142.8h0M526.9 164.2h0M545.6 208.4h0M534.3 207.7h0M538.4 189.9h0M529.1 190.5h0M541 174h0M536.5 149.6h0M535.6 194.8h0M543.2 160.4h0M523.9 179.9h0M550.5 194.5h0M526.9 169.7h0M534.7 158.2h0M532.7 174.4h0M514.1 145.1h0M510.7 146.6h0M553.2 207.3h0M545.7 214.3h0M533.2 175h0M530.6 163h0M540 142.3h0M531.5 157.3h0M533.5 180.1h0M550.9 203.8h0M534 195.9h0M536.2 207.8h0M524.3 165.9h0M531.5 144h0M535.8 128.7h0M538.8 142.3h0M531.1 152.2h0M539.5 144.9h0M536.7 134.5h0M546.1 170.5h0M533.2 215.4h0M548.2 179.2h0M534 129.1h0M547.9 207.6h0M532.9 214.1h0M525.1 180.1h0M534.5 161.9h0M524.2 209.2h0M539.9 151.5h0M535 136.1h0M532.5 175.6h0M509.5 141.5h0M534.1 160.8h0M529.9 208.2h0M537.3 209.1h0M522.6 170.6h0M528.3 170.3h0M535.3 127.2h0M532.8 132.6h0M537.1 172.9h0M547.3 170.1h0M554.9 193.8h0M547.9 162h0M530.4 191.8h0M518.6 163.6h0M537.1 192.5h0M530 117.9h0M527.5 149.6h0M536.8 211.6h0M542.4 156.4h0M538.6 135.5h0M533.4 137.6h0M532.4 169.3h0M524.7 208.3h0M513.5 136.5h0M535.7 128.3h0M532.7 141.7h0M538.3 164.1h0M523.8 174.3h0M542.4 134.4h0M530.7 146.9h0M508.4 139.7h0M554.3 202.5h0M541.7 132.7h0M532.9 174.1h0M534.9 184.3h0M509.9 148.5h0M524 207.3h0M547.1 179.8h0M528.8 212.5h0M545 177.9h0M525.3 206.2h0M523.7 164.6h0M542 189.7h0M522.8 180.2h0M516 163.4h0M524.6 137.7h0M532.7 179.8h0M556.7 193.4h0M524.4 179.6h0M545.1 188.9h0M541 186.2h0M551.4 176.9h0M538.9 131h0M529.5 202.3h0M531.1 120.1h0M535.5 167.9h0M553.9 178.8h0M532.4 202.9h0M559 192.4h0M524.6 174.7h0M538 153.8h0M511.3 142.6h0M530.6 190.4h0M512.1 141.3h0M515.9 134.2h0M546 179.9h0M539.4 178.8h0M536.6 126.1h0M537.8 195h0M535.5 186.9h0M526.2 200.2h0M540.3 139.8h0M533 130.3h0M519.4 134.6h0M534.3 162.9h0M535.5 135.7h0" stroke="#DB8E2C" stroke-width="2.2" stroke-linecap="round" fill="none"/>
<path d="M483.9 143.2h0M469.9 185.4h0M463.7 130.3h0M502.6 122h0M453.9 163h0M472.6 143.9h0M476.8 154.5h0M463.2 152.2h0M489.3 146.9h0M464.9 171.6h0M479.2 121.6h0M492 140.3h0M469.6 119.9h0M464.8 159.3h0M465 146.1h0M455.2 168.7h0M475.8 156.3h0M472.2 125.3h0M462.6 144h0M470.2 171.5h0M468.7 193.3h0M484 149.6h0M453 163.7h0M481.3 121.8h0M467.1 159.2h0M472.8 142.7h0M458.3 151.9h0M506 120.9h0M509.4 127.8h0M451.6 156.7h0M489 116.3h0M462.9 138.3h0M458.6 144.2h0M459.9 142h0M466.3 172.1h0M465.5 127.7h0M491.7 136.7h0M469.2 144.4h0M467 174h0M481 145h0M482.1 113h0M454.5 177h0M475.1 146.3h0M456.4 137.7h0M486.8 128.6h0M456.6 186.9h0M492.6 131.1h0M452.7 142.3h0M458.1 151h0M475.6 141.7h0M468.1 122.5h0M489 116h0M492.6 126h0M458.8 177.2h0M464.6 181h0M491.4 109.5h0M476.2 118.9h0M493.2 111.1h0M464.9 139.4h0M487.2 112.4h0M488.1 113.5h0M455.6 168.2h0M448.3 161.1h0M488.6 134.8h0M460.2 145.5h0M476 127.6h0M457.3 176.3h0M464.8 159h0M465.9 174.6h0M452.9 173.2h0M486.6 126.5h0M495.5 105.1h0M452.6 157.8h0M469.7 125.8h0M452.9 159.1h0M494.1 142.2h0M453 140.6h0M489.8 118.9h0M455.9 139.4h0M495.7 71.2h0M493 121.5h0M465.5 132.2h0M500.9 134.4h0M477.2 118.3h0M500.5 108.3h0M522.1 132.6h0M456.1 141.6h0M473.9 138.7h0M451.7 141.3h0M496.7 137.3h0M480 106.2h0M517.2 123.5h0M457.4 136.7h0M477.5 134.7h0M472.9 140.8h0M463.6 135.3h0M476.1 123.6h0M469.8 188.5h0M488.3 123.7h0M451.3 142.3h0M469.8 160.5h0M449.1 165.7h0M487.7 83.6h0M523.7 121.9h0M471.7 137.4h0M490.6 121.1h0M493.3 79.9h0M473.2 114h0M492.7 132.2h0M466.1 158.2h0M452.8 160.4h0M482.6 113.8h0M451.7 147.8h0M476.3 152h0M489.5 105.5h0M459.8 184.9h0M492.6 143.1h0M455.5 140.7h0M497.9 123.3h0M465 167.4h0M451.2 167.5h0M460.8 135.9h0M456.5 142.2h0M508.2 83.1h0M453.1 152.7h0M451.9 168.9h0M471.8 146.6h0M451.4 167.3h0M460.5 176.2h0M460.2 176.7h0M526.8 140h0M458 157h0M469.5 156.2h0M468.1 142.9h0M476.3 152.5h0M499.6 81h0M476.2 145.2h0M493.5 120.9h0M469.9 145h0M495.2 129.1h0M456.7 174.9h0M465 171h0M458.2 166.9h0M455 167.5h0M463.5 173.4h0M468.2 136.7h0M459.3 189.9h0M462.7 194.1h0M454.9 164.7h0M465.4 122.6h0" stroke="#EE726C" stroke-width="2.2" stroke-linecap="round" fill="none"/>
<path d="M440.1 194.5h0M446.6 187.5h0M459.4 212.5h0M459.5 214.5h0M447.1 207.2h0M458.7 182.5h0M452.5 202.9h0M441.8 227.2h0M440.2 217.6h0M456.6 188.2h0M453.8 235.5h0M440 196.2h0M451.4 187.7h0M450.9 233.8h0M446.7 227.6h0M457 191.1h0M451.1 241.1h0M449.5 235h0M458.7 216.6h0M445.5 188.3h0M453.5 236.3h0M454.8 224.8h0M458.7 194h0M460.5 202.2h0M447.1 182.7h0M444.9 194.9h0M448 225.6h0M461.9 213.9h0M447.8 177.5h0M443.5 181.6h0M439.9 189.3h0M450.2 203.8h0M440.5 183.8h0M451 188.9h0M443.1 212.6h0M442.7 217.2h0M452.3 220.9h0M455.1 190.6h0M455.7 181.2h0M445.1 238.6h0M444.3 211.4h0M442.2 207.4h0M455.8 216.7h0M453.2 178.2h0M450.6 216h0M451 173.9h0M459.4 208.8h0M439.2 194.5h0M454.3 191.5h0M455.8 206.3h0M458.6 198.8h0M448 180.3h0M441.2 182h0M443.1 194.5h0M448.2 184.1h0M445 196.9h0M449.3 214.4h0M442.3 196.8h0M444 231.5h0M440.3 209.2h0M440.4 181.6h0M461.4 196.8h0M450.5 179.9h0M453.5 185.2h0M444.6 202.6h0M446.3 238.6h0M443.7 186h0M448.4 197.2h0M445.6 214.4h0M463 193.6h0M448 229.6h0M449.2 201.1h0M447.1 178.5h0M443.9 221.5h0M450.5 181.3h0M440.9 189.4h0M448.9 209.2h0M454.9 191.3h0M446.3 186.4h0M438.5 191.2h0M441.3 216.6h0M444.7 242.5h0M452.6 181.2h0M453.3 202.1h0M454.8 196.5h0" stroke="#4CD04C" stroke-width="2.2" stroke-linecap="round" fill="none"/>
<path d="M504.2 96h0M492.2 61.1h0M486.3 78.8h0M492.4 60.7h0M499.6 92.6h0M499.7 99h0M504.6 90.1h0M487.9 80.9h0M496.4 94.3h0M502.3 80.5h0M509.1 101.4h0M497.9 82.5h0M488.9 77.7h0M503 87.2h0M502.4 79.1h0M478.2 60.3h0M483.5 56.4h0M481.1 60.8h0M488.4 70.2h0M501.6 90h0M493.7 91.3h0M505 55.6h0M499.1 71.1h0M495.7 83.3h0M485.1 100.9h0M489.2 54.3h0M487.7 66.4h0M486.5 56.6h0M485.1 55.5h0M494.2 76.3h0M496.3 73.4h0M501 75.6h0M498.2 101.1h0M485.3 64.4h0M490.5 71.6h0M493.8 74.2h0M500.8 60.9h0M483.7 62.8h0M495.9 88.7h0M480.4 63.9h0M481.2 75h0M483.3 65h0M500.2 75.5h0M497.6 85.9h0M506.5 97.6h0M488.5 57.1h0M484.4 63.1h0M495.2 72.3h0M500.1 72.5h0M497.5 82.7h0M498.2 73.1h0M497.1 74.8h0M484.2 81.1h0M492.8 70.1h0M488 78.7h0M479.9 62.4h0M485.4 77.3h0M491.4 59.7h0M502.5 95.3h0" stroke="#5CD3CC" stroke-width="2.2" stroke-linecap="round" fill="none"/>
<path d="M477.6 213.2h0M461.4 250.2h0M464.6 254.2h0M477.7 250.6h0M478.6 228h0M472.2 205.4h0M468.4 236.8h0M476.3 210.1h0M480.9 217.4h0M471 245.7h0M470.2 244.4h0M469.5 211.1h0M461.4 244.5h0M463.7 245.6h0M485.1 229.9h0M466.7 224.1h0M464.7 233.5h0M473.2 206.8h0M469.9 230.7h0M489.8 229.7h0M463.8 230h0M469.9 217.5h0M455 251.7h0M465.7 206.4h0M476.6 240.8h0M501.7 216.2h0M486.4 223h0M484.1 237.7h0M473.3 242.1h0M469.9 235.4h0M468.3 224.4h0M468.2 256.5h0M471.2 224.4h0M472 216.8h0M505.5 228.3h0M488 213.7h0M489.2 219.1h0M458.3 242.9h0M474.8 246.8h0M466.4 245.5h0M474.1 243.6h0M486.7 216.9h0M467 243.4h0M465.9 226.4h0M481.3 249.3h0M485.6 216.4h0M464.5 207.8h0M477.4 246.4h0M471.7 241.9h0M501.1 214.9h0M469.4 228.1h0M492.7 218.9h0M469.6 259.9h0M459.7 243.2h0M481.4 252.4h0M473.1 230.8h0M468.4 244.8h0M476.9 207.3h0M454.3 251.3h0M478.7 230.6h0M471.7 243.5h0M462.2 243.5h0M485.4 212.2h0M474.5 246.4h0M488.9 223.2h0M479.4 251.7h0M467.3 205.2h0M469.2 200.3h0M473.1 229.7h0M491.4 231.7h0M513.1 219.8h0M478.1 249.8h0M464 241.4h0M460.2 230.6h0M464.7 233.1h0M469.1 203.9h0M490 225.2h0M470.2 209.9h0M463.5 242.6h0M459.2 252.6h0M478.6 247.8h0M502.1 224.9h0M489.8 210.1h0M467.2 218.7h0M498.1 215.6h0M469.5 200.3h0M483.4 240.3h0M505.1 215.4h0M498 233.7h0M465.4 233.6h0M488 219.4h0M467.5 226.2h0M483.4 226.8h0M480.7 226h0M472 229h0M477.7 217.5h0M472.3 217h0M460.5 245.5h0M476.6 203.5h0M472.6 255.2h0M485.8 214.6h0M472.1 210h0M488.7 214.8h0M464.7 206.8h0M474.4 214.1h0M509 218.4h0M472.6 216.7h0M463.9 226.4h0M469.5 225.6h0M467.3 246.9h0M469.3 215h0M478 241.6h0M463.9 223.2h0M472.4 203.5h0M482.8 225h0M481.5 203.8h0M495.6 220.7h0M470.2 251h0M466 257h0M464.2 211.3h0M504 213.9h0M476.8 201.5h0M460 256.2h0M486.7 223.1h0M470.5 242.4h0M461 214.5h0M462.2 220.6h0M472.1 213.1h0M482.6 243.1h0M496.4 234.3h0" stroke="#B5A230" stroke-width="2.2" stroke-linecap="round" fill="none"/>
<path d="M509.7 164.8h0M500.9 175.8h0M510.6 157.9h0M505.4 183.5h0M496.4 152.7h0M514.1 160.1h0M513.5 165.6h0M500.4 169h0M510.6 176.5h0M508.3 173.7h0M508.4 154h0M507.2 170.9h0M506.7 168.8h0M507.7 160.5h0M502.5 182.4h0M510 173.5h0M508.2 180h0M507.6 162.8h0M501.6 168.7h0M498.1 174.5h0M501.9 167.2h0M500.7 175.3h0M505.1 170.5h0M498 170.9h0" stroke="#52BEEC" stroke-width="2.2" stroke-linecap="round" fill="none"/>
<path d="M556.9 120.9h0M557.4 121h0M559.7 121.1h0M559.1 121.1h0" stroke="#C47CFA" stroke-width="2.2" stroke-linecap="round" fill="none"/>
<path d="M520.7 85.5h0M522.7 69.1h0M522.7 79.3h0M531.2 91.4h0M517 79.3h0M540.5 56h0M508.8 84.5h0M510.1 104.5h0M523 81.5h0M515.7 85h0M522.6 69.5h0M503.8 83.6h0M519.1 72.7h0M545.1 74.5h0M520.2 78.3h0M517.5 81.8h0M520.2 81.1h0M526.9 91h0M518.5 85.9h0M520.9 73.4h0M529.7 84.5h0M517 68.4h0M512.5 82.3h0M514.2 81h0M507.2 87.6h0M511.2 82.5h0M545.8 76.7h0M519.4 87.2h0M545.1 67.4h0M513.1 85.9h0M518.9 108.1h0M517.4 88.4h0M533.9 90.2h0M546.7 76.1h0M526.2 102.5h0M513.9 85.5h0M525.2 85.3h0M507.3 86.9h0M514.8 81.3h0M531.6 85h0M510.8 108.6h0M548.6 71.7h0M514 82h0M521.6 106.1h0M509.6 82h0M539.8 57.8h0M528.6 93.2h0M522.9 103.6h0M510.3 85.1h0M548.5 70.8h0M505.1 77.5h0M514.5 90.3h0M524.8 86.2h0M520.4 80.1h0M508.7 87.7h0M531 92h0M505.6 82.7h0M515.5 89.9h0M512.8 102h0M518.6 71.1h0M506.5 82.4h0M520.9 69.7h0M521.6 70.5h0M506 84.4h0M511.8 89.2h0M514.7 81h0M540.4 86.7h0" stroke="#58D8A0" stroke-width="2.2" stroke-linecap="round" fill="none"/>
<path d="M525.9 48.8h0M520.5 53.7h0M530.8 52.7h0M535.3 39.7h0M528.9 47.2h0M544.2 48.1h0M530.1 43.9h0M521.1 45.6h0M543 49h0M537.3 44.1h0M532.6 44.9h0M544.4 46.4h0M529.3 45.7h0M519.1 47.3h0M532 41.2h0M522 50.8h0M518.4 46.9h0M529.2 49.1h0M525.8 44.4h0M522.9 45h0M519 56.4h0M524.4 47.9h0M544.3 50h0M544.5 47.2h0M543.3 47.3h0M515.3 54.8h0" stroke="#6CA0FA" stroke-width="2.2" stroke-linecap="round" fill="none"/>
<path d="M370.9 158.5h0M372.9 159.7h0M371.6 158.4h0M370.9 158.4h0M370.8 159h0" stroke="#F866B8" stroke-width="2.2" stroke-linecap="round" fill="none"/>
<path d="M441.3 92h0M440.6 94.5h0M438.9 97.1h0" stroke="#F76CF5" stroke-width="2.2" stroke-linecap="round" fill="none"/>
<path d="M517.4 198.7h0M496.4 191h0M520.5 192.3h0M497.7 208.2h0M479.1 171.9h0M481.6 160.1h0M494.1 173.4h0M489.3 206.7h0M506.4 185.5h0M501.2 196.8h0M509.9 189.8h0M485.8 190.6h0M491.9 184.5h0M512.3 202h0M505 196.1h0M497.6 131.1h0M505 194.2h0M501.3 211.6h0M507.1 204.1h0M515.9 200.9h0M492.2 199.9h0M520 209.8h0M482 181.2h0M513.5 204.6h0M487.2 193.1h0M519.3 204.7h0M483.7 156.8h0M515 185.9h0M482.6 189.5h0M492.2 198.3h0M511.4 179.4h0M489.4 182.2h0M502.3 188.8h0M493.6 196h0M509.2 197.1h0M478.3 153h0M490.8 191.9h0M495.8 185.9h0M509.5 205.6h0M492.9 200.2h0M511.1 203.3h0M491.6 201.2h0M483.1 185h0M515.2 206.1h0M505.8 198.8h0M494.6 201.6h0M516.2 186.7h0M487.4 195.2h0M502 184.5h0M498.6 199.6h0M501.7 210.8h0M507.2 196.2h0M483.2 158.4h0M486.9 185.8h0M503.8 196.8h0M522.9 196.7h0M511 181.6h0M481.6 179.4h0M519.2 196.2h0M499.6 181.5h0M521.2 193.7h0M494.2 184h0M474 186.5h0M491.5 170.4h0M510.3 153.2h0M489 154.1h0M501.4 207.4h0M498.6 193.8h0M520.6 200.2h0M489.2 194.5h0M504.7 188.9h0M496 183.5h0M478.1 180.5h0M507.3 197.6h0M502.5 203.9h0M509.5 208h0M489.8 190.9h0M492.2 196h0M507.3 212.8h0M496.7 156.9h0M500.8 207.4h0M479.9 181.4h0M507.7 184.8h0M521.6 188.9h0M503 205.1h0M490.1 206.2h0M490.7 185.5h0M504.1 203.4h0M495.5 206.5h0M522.5 197.4h0M494.3 206.7h0M502.4 211.9h0M481.6 196.2h0M518.9 193.7h0M505 195h0M497 191.9h0M504.4 193.5h0M490.3 192h0M499.1 209.3h0M490.9 193h0M477.7 180.2h0M524 192.8h0M491.5 174.4h0M509.4 190.3h0M478.9 153.6h0M492.2 203.2h0M483.7 190.3h0M473.2 188.5h0M490.1 195.3h0M489.8 187.6h0M480.1 184h0M479.6 154.7h0M520.3 185.4h0M507.9 137h0" stroke="#86B72E" stroke-width="2.2" stroke-linecap="round" fill="none"/>
<path d="M468.7 215.8h0M462.8 247.2h0M473.4 216.1h0M490.1 213.6h0M478.9 249.2h0M467.7 252.8h0M471.8 204.4h0M463.4 253.7h0M492.4 234.6h0M457.5 252h0M482.6 210.3h0M502.4 223.6h0M462.1 257.3h0M465.7 244.6h0M462.4 206.8h0M488.9 233h0M461 249h0M472.4 224.8h0M474.7 231.3h0M473.7 210.4h0M480.6 246.3h0M478.8 244.4h0M502.7 230.2h0M475.1 228.9h0M505.4 225.5h0M484 206.7h0M492.9 235.2h0M464.8 241.1h0M465.3 206.5h0M473.5 215.7h0M467.7 216.3h0M465 221.9h0M484 204.9h0M458.7 252.2h0M472.6 219.6h0M482 212.9h0M478.4 248.9h0M460.2 222h0M461.9 246.9h0M463.5 219.1h0M465 215.7h0M491.9 236h0M475.5 216.6h0M465.7 249.8h0M472.6 244.3h0M477.8 251.7h0M483.8 238.8h0M492.4 230.5h0M473.8 256.9h0M478.9 216.8h0M486.7 210.7h0M500.3 216.9h0M469.9 250.3h0M465.1 207.6h0M471.2 241.2h0M497.2 231.2h0M488.6 212.6h0M457 252.8h0M465.3 225h0M472.2 244.9h0M478 236.2h0M469.3 260.1h0M471.5 245.1h0M461.5 226.2h0M466 219.1h0M480.6 211h0M453.6 246.2h0M474.1 230.9h0M482.5 235.9h0M499.8 233.2h0M466.6 235.8h0M494.3 228.4h0M476 247.1h0M464.4 257.6h0M457 248.1h0M488.5 232.2h0M475.5 230h0M496.5 222.5h0M469.4 243.8h0M462.4 226h0M476.3 213.3h0M462.4 220.5h0M476.1 210.5h0M478.3 218.2h0M484.7 241.6h0M464.7 247.5h0M461 215h0M476.6 246.4h0M459.6 230h0M473 225.3h0M464.7 207.6h0M456.7 242.3h0M487.6 214.4h0M477.5 226.2h0M464.9 245.6h0M464.9 246h0M486.7 211.6h0M468.4 258h0M464.1 236.1h0M475.8 236.1h0M462.9 205.1h0M501.9 227.6h0M481.6 240.1h0M472.3 234h0M482 216.6h0M460.2 243.5h0M485.4 218h0M470.9 228.1h0M482 233.1h0M481.4 217.3h0M463.6 207.6h0M476.3 222.3h0" stroke="#B5A230" stroke-width="2.2" stroke-linecap="round" fill="none"/>
<path d="M520.8 50.5h0M517.1 50.8h0M532.9 49.3h0M520.2 46.6h0M530 54.2h0M528.8 45.9h0M541.4 49h0M530.1 43.3h0M521.2 56.8h0M531.3 47.1h0M539.8 50.2h0M536.9 49.1h0M523 42.3h0M527.9 48.9h0M525.4 50.2h0M526 47.4h0M522.9 52.7h0M531.5 41h0M517 47.4h0M527.3 46.5h0M529.8 50.9h0M529.5 42.7h0M518 47.7h0M543.3 51.6h0M521.7 58.5h0M529.7 53.3h0M528 55.7h0M526.7 47.2h0M517.6 56.1h0M524 43.5h0M527 50.1h0" stroke="#6CA0FA" stroke-width="2.2" stroke-linecap="round" fill="none"/>
<path d="M488.4 88.2h0M493.4 75.7h0M503.3 98.6h0M483.1 52h0M489.7 81.1h0M486.9 76.5h0M494.6 111.9h0M485.4 102.8h0M485.5 51h0M483.6 74.8h0M509.6 58.7h0M482.2 53.1h0M498.1 72.4h0M495.4 80.8h0M502.6 85.7h0M492.6 58.8h0M489.2 85h0M503.2 82.8h0M489.8 49.7h0M494.7 110.4h0M502.7 56.9h0M500.2 95.7h0M491.7 87.1h0M496.5 92.9h0M500.3 101.6h0M491.4 61.3h0M495.8 83.3h0M494.5 74.5h0M488.2 61.8h0M485 71.7h0M495 78h0M479 59.2h0M496.7 58.6h0M484.2 67.3h0M497.3 111.3h0M489.7 56.9h0M501.7 75.7h0M478.7 57h0M500.9 87.8h0M488.8 72.3h0M496.2 72.5h0M496.7 85.1h0M511.6 59.4h0M478.1 63.7h0M494.4 86.3h0M487.5 64.1h0M481.6 61h0M479.9 57.1h0M503.3 59h0M485.8 73.9h0M498.4 87.9h0M484.1 63.7h0M488.6 109.6h0M495.8 91h0M482.4 78.1h0M506.4 102.9h0M482.9 59.3h0M492.8 73.9h0M508.7 97h0M495.2 83.9h0M489.9 75.4h0M491.8 59.9h0M486 54.5h0M476.9 60.8h0M491.8 79.1h0M499.9 94.8h0M505.6 99.3h0M498.3 77.4h0M479.5 61.4h0M497.5 87.2h0M498.4 84.5h0M483.3 78.9h0" stroke="#5CD3CC" stroke-width="2.2" stroke-linecap="round" fill="none"/>
<path d="M458.7 128.3h0M465.7 154.7h0M494 105.6h0M478 124.4h0M467 180.9h0M478.7 149.1h0M457.9 178h0M468.6 166.4h0M481 106.8h0M471.2 179.1h0M480.2 108.3h0M459 143.8h0M496.6 122.3h0M453.7 182.9h0M518.4 140.5h0M469.4 161.4h0M452.1 140.5h0M463.4 177.9h0M465.3 164.4h0M470.8 145.8h0M462.2 133.9h0M448.5 143.5h0M491 103.3h0M481.3 142h0M467.2 148.9h0M488.4 119.6h0M483.7 109.8h0M456.4 158.2h0M451.9 173.4h0M505.2 119.3h0M475.2 134.8h0M453.4 147.4h0M452.5 141h0M453.6 154.1h0M475.4 112.6h0M460.6 163.3h0M461.3 182.9h0M449.8 144.9h0M479.5 139.6h0M506.5 121.4h0M483.7 145.6h0M451.5 167.7h0M496.1 115.4h0M452.1 139.4h0M473.3 131.2h0M480.3 110.2h0M451.5 139.3h0M463.1 177h0M477.6 116.4h0M465.9 179.9h0M486.9 120.6h0M521.1 140.1h0M478.9 129.5h0M468.5 151.9h0M476.4 122.4h0M467.6 140.3h0M485 135.7h0M455.1 174.2h0M477.2 149h0M464.2 185.7h0M462.4 168.1h0M473.8 122.8h0M447.4 161.4h0M471 127.1h0M468.6 118.3h0M460.5 165.8h0M468.8 140.7h0M498.4 106.6h0M454.2 162.5h0M497.4 111.8h0M461.8 177.6h0M494.6 104.7h0M483.5 116.6h0M509.1 145.6h0M467.2 161.5h0M452.3 177.8h0M474.9 180h0M462.2 142.8h0M496.1 141h0M497.5 140.7h0M451.8 152.4h0M492.6 122.3h0M465.7 126.9h0M465.4 194.8h0M479.2 125h0M472 173.7h0M461.1 154.7h0M469.6 129.6h0M451.7 164.8h0M452.6 140h0M459.4 139h0M453.5 154.5h0M508.2 90h0M461.9 165.4h0M482.2 146.8h0M448.4 138.3h0M484.8 126.5h0M460.3 161.4h0M460.5 171.2h0M459 161.1h0M454.2 141h0M499.7 89.4h0M491.3 111.2h0M463.7 167.4h0M471.7 194.4h0M464.4 190.9h0M450.2 163.4h0M459.7 171.5h0M462.1 121.7h0M470.9 145.4h0M474.2 144.1h0M487.2 122.8h0M449.3 166.5h0M465.2 135.9h0M460.5 142.4h0M463.8 184.5h0M450.3 168.6h0M483.7 135.5h0M466.6 196.7h0M508.1 122.3h0M495 133.1h0M461.4 141h0M494.7 143.3h0M462.5 169.4h0M470.2 137h0M472.6 150.9h0M475 136.6h0M476.5 179.7h0M472.2 143.4h0M507 146.6h0M458.5 160.2h0M516.4 90.3h0M466.2 189.8h0M456.6 148.5h0M463.3 123.8h0M453.9 160.2h0M505.6 121.1h0M463.5 172.3h0M464 129.7h0M508.4 148.5h0M459.5 186.5h0M486.2 119.7h0M462.8 173.2h0M453.2 154.4h0M481.6 115.9h0" stroke="#EE726C" stroke-width="2.2" stroke-linecap="round" fill="none"/>
<path d="M509.4 170.5h0M503.3 164.1h0M516.2 159.9h0M509 162.6h0M508.1 161.6h0M500.4 185.4h0M504.9 167.1h0M496 143.8h0M500.9 172.9h0M506.3 175.1h0M504.6 178.5h0M513.8 172.4h0M506 167.1h0M501 148.4h0M505.4 155.1h0M509.8 165.8h0M507.2 176.3h0M500.3 175h0M513.2 169.3h0M504.2 176.8h0M505.1 172.1h0M516.6 167.9h0M501.7 170.5h0M512.8 164.8h0M502.7 184.2h0M510.9 164.4h0M510 179h0M516.6 166.8h0M509.4 165.9h0M514.6 169.4h0M514.1 170.2h0M506.8 165.3h0M499.8 177.2h0M509.7 171.4h0" stroke="#52BEEC" stroke-width="2.2" stroke-linecap="round" fill="none"/>
<path d="M528.8 171.6h0M511.4 134.8h0M526.2 188.5h0M534.4 191.8h0M544.5 155.7h0M555.5 190.6h0M549.2 213.3h0M539.4 177.6h0M542.2 159.3h0M525.6 183.3h0M542.2 175h0M526.5 192.8h0M524.9 177.9h0M520.2 170.3h0M537.8 174.7h0M541.8 174.7h0M525.2 116.9h0M535.8 132.1h0M555.2 181.4h0M543.5 174.7h0M509.2 131.6h0M540.4 159.8h0M526.4 137.3h0M541.1 211.4h0M528 138.8h0M527.7 203.5h0M543.7 185.7h0M528.5 150.9h0M527 198.9h0M534.6 171.8h0M529 200.8h0M528.4 174.4h0M556.4 198.7h0M556.2 195.7h0M534.5 145.8h0M536.2 203.8h0M540.6 138.8h0M542.5 211.8h0M518.1 175h0M530.7 192.8h0M540.7 134.7h0M538.2 145.1h0M541.8 212.2h0M529 198.1h0M540.6 195.9h0M530.7 165.4h0M533.9 203.1h0M531.9 208.4h0M539.2 133.7h0M537.1 183.1h0M550.4 183.7h0M539.3 129.4h0M534.7 161.7h0M552.8 180.6h0M524.6 178.8h0M539.8 142.8h0M542.9 174.5h0M525.1 154.4h0M522 199.4h0M520.2 161.1h0M540.2 135.3h0M533.9 149h0M530.1 161.1h0M538.1 155.6h0M529 178.3h0M534.9 198.6h0M515.9 143h0M548.8 203.7h0M535.4 155.3h0M549.4 209.4h0M556.2 200h0M510.5 145.3h0M524.4 196.4h0M516.3 153.5h0M539.9 138.8h0M534.8 127.3h0M538.4 166.7h0M535.2 165.3h0M524.4 205.6h0M528.8 164.1h0M530.7 173h0M539.4 175.1h0M526 176.5h0M541.8 154.8h0M523.2 177.8h0M542.2 151.8h0M538.2 138.7h0M533.1 210.5h0M550.4 185.1h0M531.7 198.6h0M528.3 156.5h0M536.6 202.8h0M550.4 193.7h0M550.5 210.8h0M520.4 132.7h0M523.4 180.4h0M523.6 181.9h0M546.8 172.9h0M548.8 201h0M541.1 168.2h0M537.1 130.9h0M533.9 194h0M528.3 183.2h0M551.4 204.3h0M548.4 159.7h0M541.2 191.9h0M525.2 208h0M550.7 193.9h0M533.5 186.2h0M540.9 178.7h0M550 194.7h0M551.1 178.2h0M550.2 193.4h0M550.3 172h0M529.3 173.8h0M536.6 175.2h0M524.9 195.7h0M533.1 189.5h0M532.2 119.1h0M532.6 183.6h0M522.1 156.2h0M526.4 153.7h0M525.3 160.7h0M532.4 191.9h0M522.1 159h0M535.1 150.8h0M551.1 186.3h0M520.5 159.3h0M533.9 128.6h0M554.9 187.7h0M546.3 187.2h0M534.1 140.4h0M533 161.3h0M534.7 186.2h0M547.3 198.9h0M548.9 167.9h0M521.6 147.6h0M527.1 179.3h0" stroke="#DB8E2C" stroke-width="2.2" stroke-linecap="round" fill="none"/>
<path d="M447.5 182h0M460.6 210.8h0M451.8 186.4h0M445.3 203.1h0M449 198.1h0M460.4 188h0M459.2 218.3h0M449.2 236.6h0M441.6 186.3h0M443.8 191.1h0M439.8 205.2h0M441 190h0M446.6 245.5h0M450.1 197.5h0M447.8 238.2h0M446 239.2h0M458 189h0M460.2 198.1h0M450.3 215.4h0M452.6 183.1h0M441.1 216.6h0M456.8 198.4h0M461.4 214.3h0M444.8 176.1h0M445.6 190.5h0M446.9 210.8h0M454.8 230.2h0M441.1 225.1h0M440.8 189.4h0M463.1 193.6h0M444.2 185.9h0M449.7 200.6h0M453.2 228h0M443.1 202h0M459.6 190h0M439.3 234.5h0M453.1 232.4h0M458.1 194.7h0M443.3 211.7h0M459.7 196.8h0M449.7 220.4h0M452.9 210.6h0M444.6 181.5h0M449.4 232.6h0M450.4 236.3h0M443.3 202.4h0M445.3 192.8h0M443.3 191.7h0M450.1 221.8h0M451.3 177.5h0M437.8 199.2h0M441.3 215.9h0M445.4 184.4h0M451.4 189.3h0M440.3 183.5h0M439.5 202.9h0M449.7 188.4h0M446.3 192.2h0M439.3 189.6h0M453.1 182.4h0M443.7 182.9h0" stroke="#4CD04C" stroke-width="2.2" stroke-linecap="round" fill="none"/>
<path d="M521.2 77.4h0M523.3 74.4h0M537.8 89.2h0M511.5 74h0M527.7 83.9h0M523.5 77.1h0M521.2 73.2h0M520 70.5h0M531.2 91.1h0M512 87.7h0M529.1 94.5h0M538.1 87.5h0M545.7 76h0M518.3 90h0M527.7 90.9h0M516.2 71.6h0M509.7 83.8h0M522 74.6h0M516.5 88.5h0M530.7 94.3h0M511 75.3h0M520.6 82.3h0M527.6 107.2h0M525.7 84.2h0M526.3 77h0M520.7 106.2h0M515.3 78.2h0M518 77.1h0M518.5 102.2h0M527.9 107.3h0M543 72.6h0M525 101.9h0M516.9 98.5h0M538.2 89.3h0M548.5 75.9h0M545 70h0M546.5 68.9h0M503.8 79.6h0M512 85.1h0M525.1 80.4h0M504.2 85.9h0M515 86.2h0M541.6 84.5h0M535.5 86.7h0M525.6 106.5h0M515.7 105.7h0M526.9 69.5h0M510.7 79h0M543.7 66.7h0M523.4 69.8h0M507.6 74.8h0M516.2 105.9h0M523.3 80.1h0M510.5 84.1h0M505.1 83.6h0M502.9 83h0M536 86.5h0M522.5 83.3h0M540.2 54.6h0M527.7 91.8h0M517.6 70.3h0M533.1 67.1h0M517.7 91.4h0M521.2 76.1h0M521.1 72.6h0M528.5 89h0M513.6 72.1h0M520.7 77.9h0M527.6 70.9h0M523.1 84.2h0M527.8 92.1h0" stroke="#58D8A0" stroke-width="2.2" stroke-linecap="round" fill="none"/>
<path d="M561.2 122.8h0M553.8 121.9h0M557.5 121.5h0M559 124.3h0M558 119.8h0M553.5 123.4h0M559.8 121.9h0M555 122.2h0" stroke="#C47CFA" stroke-width="2.2" stroke-linecap="round" fill="none"/>
<path d="M440.2 96.8h0M439.7 96.2h0M438.7 96.8h0M443.6 91.5h0M440.5 92.9h0" stroke="#F76CF5" stroke-width="2.2" stroke-linecap="round" fill="none"/>
<path d="M372.7 161.1h0" stroke="#F866B8" stroke-width="2.2" stroke-linecap="round" fill="none"/>
<path d="M460.6 155.9h0M487 105.2h0M467.6 179.8h0M489.5 75.8h0M462.5 173.1h0M478.2 114h0M461.7 161.8h0M475.2 148h0M482.8 106.2h0M482.2 148.6h0M495.1 122h0M469.7 131.9h0M492.2 129.2h0M468.3 153.9h0M452.5 147.8h0M515.3 69.4h0M495.2 111.9h0M460.4 162.1h0M491.5 103.1h0M460.9 180.8h0M457.3 156.1h0M455.4 141.5h0M479.2 144.3h0M490.1 124.8h0M464.5 160.1h0M462.4 140.1h0M462.3 130.3h0M492.6 145.4h0M471.8 192.3h0M463.3 191.2h0M474.1 131.9h0M497 138.6h0M484.6 148.5h0M448.7 166.5h0M488.6 123.5h0M471.2 143.1h0M473.9 118.2h0M461.8 177.9h0M478 113.3h0M455 182.6h0M450.6 137.8h0M450.7 142.5h0M496.5 141.7h0M485.1 147.7h0M495.9 127.6h0M484.8 114.8h0M464.7 134.6h0M464.5 175.1h0M470.5 191.6h0M517.7 139.3h0M527.6 135.2h0M485.4 117.9h0M458.5 170h0M469.5 185.7h0M490 146.5h0M462.2 171.3h0M476 141.1h0M485 122.1h0M464.4 149.1h0M469 179.3h0M453.6 131.8h0M482.8 141.4h0M496.2 120.1h0M462.6 137h0M448.4 173.8h0M511.2 119.8h0M466.5 197.4h0M491.1 142h0M476 138.3h0M479.1 107.2h0M479.3 137h0M519.1 124.7h0M473 138.2h0M479.3 153h0M452 137.2h0M456.1 141h0M473.1 133.2h0M455.3 179.8h0M453.9 172.2h0M498.1 116.4h0M489.3 124.2h0M463.7 156h0M477.3 131.9h0M495.2 130.4h0M468.4 196.5h0M509.5 77.2h0M467.1 158.5h0M463.8 174.6h0M447.8 158.1h0M476.9 134.7h0M468.3 187.9h0M474.1 171.4h0M472.1 145.6h0M476.1 123.9h0M475 140.6h0M467 169.4h0M498.6 71.1h0M464 159h0M465 173.9h0M449 166.9h0M466.8 193.5h0M479.3 110.9h0M490.9 134.8h0M497.3 114.2h0M457.4 178h0M469.2 112.9h0M451.8 178.2h0M468.5 147.7h0M476.5 147.9h0M491.3 129.1h0M461.6 150.2h0M449 174.6h0M450.2 178.2h0M486.2 113.7h0M485.7 127.8h0M465.1 163.7h0M503 145.7h0M478.2 119h0M466.8 132.5h0M448.7 175.6h0M504.9 140.1h0M461.4 146.1h0M474.5 139h0M451.7 173h0M457.9 137.7h0M475.3 129.4h0M495.1 125.9h0M481.6 125.3h0M454.8 147.2h0M495.4 129.5h0M467.4 119.3h0M466.1 184.7h0M472.3 130h0M487.2 140.2h0M493.7 109.5h0M496.7 129.8h0M509.7 147.8h0M481.9 106.6h0M462.9 128.1h0M455.2 184.4h0M483.5 127.2h0M498.4 113h0M497 121.2h0M461.4 181.9h0M451.1 171.7h0M451.6 150.5h0M474 150.1h0M489 116.1h0M450 136.6h0M479.8 143.1h0M448.8 164.4h0M479.5 135.1h0M447.2 140h0M476.7 128.4h0" stroke="#EE726C" stroke-width="2.2" stroke-linecap="round" fill="none"/>
<path d="M498.9 218.5h0M504.1 220.1h0M474.8 234.3h0M475.9 256.5h0M496.8 214.2h0M465.1 205.9h0M469.6 253.3h0M492.8 217.7h0M460.5 210.1h0M470.4 232.5h0M462.7 219.1h0M469.2 234.9h0M484.8 219.9h0M456.7 243.5h0M465.8 249.2h0M466.6 233.7h0M461.8 234.2h0M476.4 258h0M491.4 224h0M459.9 257.1h0M461.4 259h0M463.8 245.9h0M468.3 243.6h0M462 244.2h0M482.9 222.4h0M470 199.4h0M481.3 249.7h0M458.1 254.7h0M481.1 229h0M470.5 227.6h0M474.1 217.8h0M475.3 255.7h0M461 222.8h0M459.5 233.6h0M477.3 237.3h0M473.4 200.8h0M480.3 206.2h0M476.8 239.2h0M478.7 213.2h0M465.7 204.4h0M475 248.6h0M484.3 223.3h0M475.9 253.4h0M483.4 218h0M459.4 246.1h0M484.5 238.2h0M471.3 248.9h0M471.3 229.2h0M478.6 202.2h0M471.7 251.3h0M467.6 225.7h0M456.6 243.9h0M468.5 233.7h0M473.4 258.2h0M486.7 218h0M473.8 254.1h0M459.4 222.2h0M470.2 246.9h0M508.9 216.9h0M494.1 230.1h0M488.7 220.1h0M469.7 238h0M469.7 242.5h0M479.7 220.3h0M491.5 225.9h0M489.6 215.5h0M478.7 222h0M476.5 237.5h0M486.5 227.2h0M473 229h0M469 235.4h0M460.6 245.2h0M478.3 230.1h0M474.6 244.1h0M484.5 242.7h0M460.3 221h0M479 241.3h0M462.1 204.8h0M462.6 240.6h0M482.5 246.4h0M457.9 248.6h0M461.1 224.5h0M471.3 255.7h0M478.3 201.8h0M466.7 228.2h0M471 258.4h0M494.6 231.7h0M460 245.1h0M463.3 254.1h0M468.5 247.2h0M465 232.2h0M493.2 237.4h0M469.6 244.8h0M464.4 226.6h0M493.9 216.7h0M480.4 212h0M468.5 245.2h0M481.7 203.8h0M467.1 208.8h0M457 246.2h0M487.6 223.9h0M480.7 222.8h0M479.6 218.9h0M472.3 249.9h0M480.7 234.9h0M482.8 234.7h0M486.1 237.4h0M473.4 216h0M462.6 222.3h0M465.4 255.6h0M464.3 247.5h0M491.4 222.4h0M474.3 249.2h0M492.1 234.3h0M466.8 238.3h0M492.7 228.9h0M499.2 216.5h0M499 236h0M453.4 244.2h0" stroke="#B5A230" stroke-width="2.2" stroke-linecap="round" fill="none"/>
<path d="M443.9 193.3h0M442.6 213h0M442.3 195h0M443.9 196.8h0M458.1 209.8h0M455 190.5h0M443.1 196.4h0M440.3 194.7h0M441.3 188.3h0M454.8 230.5h0M460.7 189.5h0M447.2 187.3h0M444.7 218.6h0M443 207.8h0M447.6 189.4h0M445.1 200.7h0M450 208.2h0M453.8 186.8h0M445.6 203.2h0M447.1 183.3h0M452 207.8h0M442.4 236.6h0M438.3 222.1h0M447.5 187.7h0M449.6 199.1h0M446.8 194h0M446.3 206h0M449 246.9h0M445.2 232.5h0M450.1 190.3h0M456.6 210.1h0M441.2 236.9h0M452.6 186.6h0M445.5 215.7h0M439 199.6h0M457.8 205.7h0M454.6 180.5h0M446.1 233.5h0M445.5 188.1h0M440.2 230.3h0M461.5 202h0M455.6 212.5h0M443.8 205.5h0M460.2 212.8h0M445.1 192.7h0M461 206.6h0M451.6 241.8h0M438.2 211.4h0M457.6 185.8h0M442.1 189.1h0M456 219.4h0M441.7 181.2h0M456.9 221.5h0M440.9 221.1h0M442.2 216.3h0M457.2 192.5h0M449.1 180.3h0M460.9 221.2h0M449.8 188.6h0M445.4 223.8h0M449.9 244.4h0M457.1 191.1h0M450 185.1h0M440.3 185.9h0M452.9 206.4h0M451.2 245.1h0" stroke="#4CD04C" stroke-width="2.2" stroke-linecap="round" fill="none"/>
<path d="M514.9 160.8h0M500.7 164.1h0M497.1 170.1h0M513.3 176.5h0M510.8 164.6h0M500.7 163h0M503.1 184.2h0M512.8 170.2h0M511.1 172.4h0M509.7 174.9h0M509 169.6h0M496.1 181.7h0M503.7 147.6h0M498.6 171.8h0M503.1 175.2h0M511.2 172.3h0M500.3 167.8h0M512.7 168.8h0M516.7 160.3h0M508.2 163.3h0M500.1 165.4h0M513.3 160.2h0M504.1 160.8h0M500.8 158h0M518.2 164.7h0M513.9 162.3h0M504.4 163.1h0M507 164.3h0M517.2 155.1h0M500.6 183.8h0M512.4 169.9h0" stroke="#52BEEC" stroke-width="2.2" stroke-linecap="round" fill="none"/>
<path d="M527.5 107.4h0M525.4 75h0M516.4 80.3h0M525.3 74.2h0M537.6 61h0M517.1 69.7h0M522.8 81.9h0M521.9 87.8h0M524.7 72.8h0M545.4 76.9h0M512.5 101.8h0M519.8 90.7h0M530.3 91.1h0M526 70.9h0M534.7 92.8h0M536 91h0M527.4 88.6h0M516.5 90h0M516.7 90.5h0M535.8 92.2h0M507.7 78.2h0M522.4 74.4h0M520.7 75.2h0M521.1 92.1h0M514.7 104.3h0M509.9 86.7h0M515.9 89.4h0M527.1 69.2h0M538.5 86.4h0M525.7 90.6h0M540.8 84.1h0M529 77.2h0M519.5 89.9h0M542.3 79.2h0M540.7 71.5h0M545.5 75.6h0M547.8 68.7h0M520.4 80.8h0M534.7 92.7h0M524.2 74.9h0M521.4 76.3h0M528.8 70.2h0M510.6 87.8h0M523.2 70.8h0M533.9 60.6h0M519.8 109.6h0M526.6 72.6h0M546.4 73.3h0M523.6 92.9h0M549.3 74.6h0M525 70.1h0M542.9 69.9h0M525.2 108.7h0M536.3 78.1h0M546.4 73.5h0M506.9 81.8h0M534.9 92.4h0M528.1 73.4h0M543.3 73.1h0" stroke="#58D8A0" stroke-width="2.2" stroke-linecap="round" fill="none"/>
<path d="M538.6 164.5h0M532.2 204.5h0M536.6 173.5h0M538.9 192.5h0M522.2 155.4h0M557.8 207.4h0M540.3 210.5h0M528 208.2h0M519.4 174.5h0M511.9 141.6h0M540.8 175h0M523.4 152h0M535.8 139.6h0M537.8 136.8h0M541.9 209.7h0M540.8 128.7h0M556.1 203.2h0M535.4 205.4h0M540.9 196h0M553.5 174.7h0M515.3 144.3h0M542.3 161.3h0M545.7 173.8h0M549 171.2h0M551.6 205h0M537.2 162.1h0M545.5 210.9h0M533.5 144.5h0M545.1 171.5h0M525.1 183.7h0M530.2 186.6h0M532.3 141.1h0M510.7 137.9h0M539.3 157.9h0M550.2 184.2h0M527.4 168.4h0M534.6 145.4h0M549.1 167.7h0M535.7 155.3h0M529.6 188.8h0M550.3 167.4h0M534.7 133.8h0M542.8 134.5h0M530.3 148.8h0M526.4 160.8h0M542.6 163.7h0M527.8 195.7h0M537.6 189.6h0M548.6 176.4h0M524.5 175.4h0M532.6 195.5h0M554.2 181.4h0M527.4 169.3h0M533.1 190.3h0M532 137.7h0M520.8 153.9h0M526.1 156.9h0M519.5 156.3h0M533.5 163.3h0M555.3 201.4h0M548 175.9h0M551.9 204.6h0M556.6 192.7h0M534.9 143.9h0M542.1 174h0M532.7 184.6h0M534 213.2h0M522.7 197.6h0M523.4 149.4h0M554.2 211.4h0M555.5 187.9h0M541.5 145.6h0M547.4 199.2h0M517.3 162.6h0M525.7 173.5h0M520.6 154h0M527.3 165.6h0M546.2 212.8h0M550.1 196.8h0M549.2 173.7h0M533.3 170h0M544 210.5h0M541.6 179.6h0M535 177.9h0M533 143h0M560.8 196.6h0M537.6 187.2h0M526.3 118.3h0M546.5 162.9h0M552.5 205.7h0M536.8 171.6h0M552.9 177.3h0M541.4 184.7h0M532.8 151.5h0M534.2 158.9h0M528.5 158.2h0M544 159.3h0M530.7 182.7h0M530.1 188.6h0M537.9 172.5h0M533.4 142.7h0M544.5 178.3h0M518.8 174.5h0M547.7 158.7h0M507.9 144.9h0M526.3 134.3h0M523.6 154h0M529.7 163h0M524.7 177.4h0M539.7 163.3h0M521.9 151.5h0M539.3 178.1h0M531.7 147.8h0M546 193.7h0M535.3 140.5h0M529.6 137.4h0M534 162.4h0M525.3 140.3h0M529 151.9h0M510.9 137.8h0M551.1 213.3h0M516.4 146.1h0M546 160.3h0M537 128.3h0M538.5 132.4h0M541.2 173.6h0M536.1 208.2h0M528.4 199.1h0M536.2 135.7h0M537.7 169h0M536.1 149.2h0M522.2 154.5h0" stroke="#DB8E2C" stroke-width="2.2" stroke-linecap="round" fill="none"/>
<path d="M518.2 192.4h0M497.4 209.2h0M500.6 137.8h0M487.1 187.8h0M486.3 186.9h0M484.9 161.6h0M477.2 183.6h0M521 201h0M521.8 178.5h0M523.8 186.7h0M491.7 193.3h0M489.3 195.4h0M519.4 210.3h0M518.1 183.2h0M479.8 168.8h0M497.6 185.3h0M508.9 208.8h0M493 199.2h0M505.3 137.4h0M483.1 176.1h0M493.4 156.9h0M514.9 182.7h0M502.5 203.6h0M516.8 183.1h0M510.4 181.3h0M508.1 145h0M476.7 190.7h0M474.7 181.7h0M490.8 168.2h0M502.3 135.2h0M506.6 206.2h0M488.6 180.9h0M493.1 202.7h0M477.2 156h0M481.1 177.3h0M507.9 205.2h0M510.5 210.5h0M500.3 198.4h0M480.4 190.2h0M522.6 195h0M509.4 201.1h0M519.7 184.7h0M505.8 187.3h0M492.3 166.4h0M522.7 190.4h0M517.2 205h0M490.9 196.5h0M485.3 188.2h0M484.6 196h0M481.6 166.8h0M515.3 197.2h0M523.4 196.8h0M506.2 188h0M504.1 193.1h0M515.8 212.7h0M501.9 184.3h0M517.1 212.8h0M486.9 185.7h0M508.6 213h0M496.5 196.3h0M490.7 189.8h0M491.7 195h0M491.6 165.7h0M486.4 180.8h0M504 204.6h0M500.8 209.7h0M514.8 193h0M516.4 187.6h0M475.1 192.7h0M519.8 177.5h0M485.4 179.1h0M504.8 211.4h0M481.4 183.4h0M516.4 198.2h0M511.9 178.9h0M507.9 193.1h0M508.5 178.6h0M496.7 196.4h0M478.6 193.1h0M509.8 209.1h0M490.8 198.8h0M515.5 199.5h0M495.1 207.2h0M523.2 194h0M504.1 178.2h0M509.2 196.3h0M518.4 201.9h0M495 195h0M516.7 209.9h0M504.8 202.7h0M479.8 192.2h0M508.8 187.3h0M505.9 182.3h0M519.4 207.2h0M517.3 192.6h0M512 196.5h0M508.6 189.2h0M479.2 179.5h0M508.9 212.8h0M492.1 200.7h0M522.6 198.3h0M506.5 194.6h0M507.2 193h0M514.4 198h0M474.1 183.5h0M523.7 199.2h0M489.4 195.5h0M480.6 178.1h0M485.7 184.5h0M515.7 195.5h0M492.3 167.4h0M497.9 205.4h0M523.2 198.1h0M514.1 191.7h0M513.7 203.8h0M519.6 204.6h0M501.5 178.3h0M496.5 196h0M499.5 191.9h0" stroke="#86B72E" stroke-width="2.2" stroke-linecap="round" fill="none"/>
<path d="M532 52h0M529.1 47.2h0M525.7 43.2h0M541.5 42.8h0M531.7 52.4h0M530.9 42.6h0M529.7 52.7h0M522 54.5h0M526.2 54.1h0M535.2 45.3h0M535.7 41.7h0M520.3 56.9h0M530.2 40.6h0M523.7 58.7h0M532.3 48.2h0M533.7 46.8h0M516.2 54.6h0M523.2 57.9h0M544.7 47.7h0M527.9 53.6h0M523.4 58.5h0M541.8 45.5h0M520.8 44.3h0M541.1 48.9h0M514.2 53.5h0M535.5 49.5h0M532 48.5h0M538.5 48.4h0M525.7 57.2h0M539.5 47.4h0M522.2 52.8h0M530.4 49.2h0M522.2 42.2h0M531 54.8h0M522.7 53.6h0" stroke="#6CA0FA" stroke-width="2.2" stroke-linecap="round" fill="none"/>
<path d="M499.2 77h0M493.4 94.5h0M498.5 89h0M491.8 55.6h0M488.8 52.3h0M508 99.2h0M501 88.9h0M487.2 72.9h0M498.5 90.7h0M503.4 61.7h0M489.4 71.8h0M489.1 101.4h0M493.2 82.6h0M495.1 74.3h0M485.3 73.6h0M502.3 88.3h0M496 57.1h0M485.7 65.8h0M486.2 64.7h0M501 95h0M502.7 84.9h0M486.2 57.8h0M490.7 89h0M483.8 81.6h0M507.1 94.3h0M502 99.6h0M486.6 70.5h0M483 62.3h0M502.3 94h0M486.7 67h0M501.8 97.4h0M491.7 80.8h0M485.1 64.6h0M489.2 83h0M485.1 82.6h0M487.4 58.4h0M486.9 64h0M496.8 96.2h0M502.1 90.5h0M486.1 60.5h0M488.2 60.8h0M491.8 88.7h0M484 81.8h0M500.7 104.3h0M483.4 61.2h0M487.3 51.5h0M494.7 103.5h0M487.6 55.4h0M503 78.8h0M496.5 91.3h0M495 85.1h0M494.8 84.6h0M481.6 56.8h0M494.8 92.9h0M505.6 58.2h0M481.2 66.1h0M508 99.9h0M478.5 61.7h0M481.1 60.5h0M490.3 72.7h0M493 78.1h0M501 97.9h0M488.7 105.6h0M488.1 75.5h0M502.1 62.2h0M486.5 72.7h0" stroke="#5CD3CC" stroke-width="2.2" stroke-linecap="round" fill="none"/>
<path d="M440.2 92.9h0M438.7 93.7h0M442.8 91.9h0" stroke="#F76CF5" stroke-width="2.2" stroke-linecap="round" fill="none"/>
<path d="M371.7 159.1h0M374.2 161h0M371 158.9h0" stroke="#F866B8" stroke-width="2.2" stroke-linecap="round" fill="none"/>
<path d="M555.3 120.7h0M562 125h0M559.9 122.8h0M556.7 124.5h0M555.5 122.2h0" stroke="#C47CFA" stroke-width="2.2" stroke-linecap="round" fill="none"/>
</g>
</g>
<text x="147.3" y="18.2" font-size="14" text-anchor="middle" font-weight="bold" fill="#000">condition</text>
<circle cx="271.7" cy="145.8" r="3.45" fill="#EE726C"/>
<text x="284.4" y="149.9" font-size="10.5" fill="#000">control</text>
<circle cx="271.7" cy="159.7" r="3.45" fill="#60D4CA"/>
<text x="284.4" y="163.8" font-size="10.5" fill="#000">cteph</text>
<circle cx="590.2" cy="78" r="3.45" fill="#EE726C"/>
<text x="603.7" y="82" font-size="10.2" fill="#000">E.1</text>
<circle cx="590.2" cy="91.6" r="3.45" fill="#DB8E2C"/>
<text x="603.7" y="95.6" font-size="10.2" fill="#000">E.2</text>
<circle cx="590.2" cy="105.2" r="3.45" fill="#B5A230"/>
<text x="603.7" y="109.2" font-size="10.2" fill="#000">E.3</text>
<circle cx="590.2" cy="118.7" r="3.45" fill="#86B72E"/>
<text x="603.7" y="122.7" font-size="10.2" fill="#000">E.4</text>
<circle cx="590.2" cy="132.3" r="3.45" fill="#4CD04C"/>
<text x="603.7" y="136.3" font-size="10.2" fill="#000">E.5</text>
<circle cx="590.2" cy="145.9" r="3.45" fill="#58D8A0"/>
<text x="603.7" y="149.9" font-size="10.2" fill="#000">E.6</text>
<circle cx="590.2" cy="159.5" r="3.45" fill="#5CD3CC"/>
<text x="603.7" y="163.5" font-size="10.2" fill="#000">E.7</text>
<circle cx="590.2" cy="173.1" r="3.45" fill="#52BEEC"/>
<text x="603.7" y="177.1" font-size="10.2" fill="#000">E.8</text>
<circle cx="590.2" cy="186.6" r="3.45" fill="#6CA0FA"/>
<text x="603.7" y="190.6" font-size="10.2" fill="#000">E.9</text>
<circle cx="590.2" cy="200.2" r="3.45" fill="#C47CFA"/>
<text x="603.7" y="204.2" font-size="10.2" fill="#000">E.10</text>
<circle cx="590.2" cy="213.8" r="3.45" fill="#F76CF5"/>
<text x="603.7" y="217.8" font-size="10.2" fill="#000">E.11</text>
<circle cx="590.2" cy="227.4" r="3.45" fill="#F866B8"/>
<text x="603.7" y="231.4" font-size="10.2" fill="#000">E.12</text>
<text x="478" y="136.9" font-size="9.5" text-anchor="middle" fill="#000" stroke="#000" stroke-width="0.18">E.1</text>
<text x="530.5" y="187.4" font-size="9.5" text-anchor="middle" fill="#000" stroke="#000" stroke-width="0.18">E.2</text>
<text x="471" y="241.4" font-size="9.5" text-anchor="middle" fill="#000" stroke="#000" stroke-width="0.18">E.3</text>
<text x="509.5" y="190.9" font-size="9.5" text-anchor="middle" fill="#000" stroke="#000" stroke-width="0.18">E.4</text>
<text x="440" y="216.9" font-size="9.5" text-anchor="middle" fill="#000" stroke="#000" stroke-width="0.18">E.5</text>
<text x="517" y="97.9" font-size="9.5" text-anchor="middle" fill="#000" stroke="#000" stroke-width="0.18">E.6</text>
<text x="498.5" y="72.4" font-size="9.5" text-anchor="middle" fill="#000" stroke="#000" stroke-width="0.18">E.7</text>
<text x="509.5" y="168.4" font-size="9.5" text-anchor="middle" fill="#000" stroke="#000" stroke-width="0.18">E.8</text>
<text x="536.5" y="43.2" font-size="9.5" text-anchor="middle" fill="#000" stroke="#000" stroke-width="0.18">E.9</text>
<text x="553" y="134.4" font-size="9.5" text-anchor="middle" fill="#000" stroke="#000" stroke-width="0.18">E.10</text>
<text x="433" y="106.4" font-size="9.5" text-anchor="middle" fill="#000" stroke="#000" stroke-width="0.18">E.11</text>
<text x="378" y="155.4" font-size="9.5" text-anchor="middle" fill="#000" stroke="#000" stroke-width="0.18">E.12</text>
<g id="bars-proportion">
<rect x="38.80" y="496.00" width="9.20" height="39.00" fill="#EE726C"/>
<rect x="47.50" y="376.78" width="8.70" height="158.22" fill="#60D4CA"/>
<rect x="58.20" y="437.01" width="8.70" height="97.99" fill="#EE726C"/>
<rect x="65.90" y="474.29" width="2.00" height="60.71" fill="#EE726C"/>
<rect x="66.90" y="474.29" width="8.70" height="60.71" fill="#60D4CA"/>
<rect x="77.60" y="426.02" width="8.70" height="108.98" fill="#EE726C"/>
<rect x="85.30" y="511.10" width="2.00" height="23.90" fill="#EE726C"/>
<rect x="86.30" y="511.10" width="8.70" height="23.90" fill="#60D4CA"/>
<rect x="97.00" y="514.92" width="9.20" height="20.08" fill="#EE726C"/>
<rect x="105.70" y="413.11" width="8.70" height="121.89" fill="#60D4CA"/>
<rect x="116.40" y="459.95" width="8.70" height="75.05" fill="#EE726C"/>
<rect x="124.10" y="534.52" width="2.00" height="0.48" fill="#EE726C"/>
<rect x="125.10" y="534.52" width="8.70" height="0.48" fill="#60D4CA"/>
<rect x="135.80" y="484.81" width="8.70" height="50.19" fill="#EE726C"/>
<rect x="143.50" y="505.36" width="2.00" height="29.64" fill="#EE726C"/>
<rect x="144.50" y="505.36" width="8.70" height="29.64" fill="#60D4CA"/>
<rect x="155.20" y="483.85" width="8.70" height="51.15" fill="#EE726C"/>
<rect x="162.90" y="508.71" width="2.00" height="26.29" fill="#EE726C"/>
<rect x="163.90" y="508.71" width="8.70" height="26.29" fill="#60D4CA"/>
<rect x="174.60" y="533.09" width="9.20" height="1.91" fill="#EE726C"/>
<rect x="183.30" y="493.89" width="8.70" height="41.11" fill="#60D4CA"/>
<rect x="194.00" y="502.50" width="8.70" height="32.50" fill="#EE726C"/>
<rect x="213.40" y="534.04" width="9.20" height="0.96" fill="#EE726C"/>
<rect x="222.10" y="527.35" width="8.70" height="7.65" fill="#60D4CA"/>
<rect x="232.80" y="534.76" width="9.20" height="0.24" fill="#EE726C"/>
<rect x="241.50" y="530.22" width="8.70" height="4.78" fill="#60D4CA"/>
<rect x="252.20" y="534.04" width="9.20" height="0.96" fill="#EE726C"/>
<rect x="260.90" y="532.61" width="8.70" height="2.39" fill="#60D4CA"/>
<path d="M36 369V542.3H272.5" fill="none" stroke="#727272" stroke-width="0.9"/>
<line x1="34.6" y1="535" x2="36" y2="535" stroke="#727272" stroke-width="0.7"/>
<text x="34.1" y="538.1" font-size="8.7" text-anchor="end" fill="#4D4D4D">0.0</text>
<line x1="34.6" y1="487.2" x2="36" y2="487.2" stroke="#727272" stroke-width="0.7"/>
<text x="34.1" y="490.3" font-size="8.7" text-anchor="end" fill="#4D4D4D">0.1</text>
<line x1="34.6" y1="439.4" x2="36" y2="439.4" stroke="#727272" stroke-width="0.7"/>
<text x="34.1" y="442.5" font-size="8.7" text-anchor="end" fill="#4D4D4D">0.2</text>
<line x1="34.6" y1="391.6" x2="36" y2="391.6" stroke="#727272" stroke-width="0.7"/>
<text x="34.1" y="394.7" font-size="8.7" text-anchor="end" fill="#4D4D4D">0.3</text>
<line x1="47.5" y1="542.3" x2="47.5" y2="543.8" stroke="#727272" stroke-width="0.7"/>
<text x="51.1" y="548.3" font-size="8.8" text-anchor="end" fill="#4D4D4D" transform="rotate(-45 51.1 548.3)">E.1</text>
<line x1="66.9" y1="542.3" x2="66.9" y2="543.8" stroke="#727272" stroke-width="0.7"/>
<text x="70.5" y="548.3" font-size="8.8" text-anchor="end" fill="#4D4D4D" transform="rotate(-45 70.5 548.3)">E.2</text>
<line x1="86.3" y1="542.3" x2="86.3" y2="543.8" stroke="#727272" stroke-width="0.7"/>
<text x="89.9" y="548.3" font-size="8.8" text-anchor="end" fill="#4D4D4D" transform="rotate(-45 89.9 548.3)">E.3</text>
<line x1="105.7" y1="542.3" x2="105.7" y2="543.8" stroke="#727272" stroke-width="0.7"/>
<text x="109.3" y="548.3" font-size="8.8" text-anchor="end" fill="#4D4D4D" transform="rotate(-45 109.3 548.3)">E.4</text>
<line x1="125.1" y1="542.3" x2="125.1" y2="543.8" stroke="#727272" stroke-width="0.7"/>
<text x="128.7" y="548.3" font-size="8.8" text-anchor="end" fill="#4D4D4D" transform="rotate(-45 128.7 548.3)">E.5</text>
<line x1="144.5" y1="542.3" x2="144.5" y2="543.8" stroke="#727272" stroke-width="0.7"/>
<text x="148.1" y="548.3" font-size="8.8" text-anchor="end" fill="#4D4D4D" transform="rotate(-45 148.1 548.3)">E.6</text>
<line x1="163.9" y1="542.3" x2="163.9" y2="543.8" stroke="#727272" stroke-width="0.7"/>
<text x="167.5" y="548.3" font-size="8.8" text-anchor="end" fill="#4D4D4D" transform="rotate(-45 167.5 548.3)">E.7</text>
<line x1="183.3" y1="542.3" x2="183.3" y2="543.8" stroke="#727272" stroke-width="0.7"/>
<text x="186.9" y="548.3" font-size="8.8" text-anchor="end" fill="#4D4D4D" transform="rotate(-45 186.9 548.3)">E.8</text>
<line x1="202.7" y1="542.3" x2="202.7" y2="543.8" stroke="#727272" stroke-width="0.7"/>
<text x="206.3" y="548.3" font-size="8.8" text-anchor="end" fill="#4D4D4D" transform="rotate(-45 206.3 548.3)">E.9</text>
<line x1="222.1" y1="542.3" x2="222.1" y2="543.8" stroke="#727272" stroke-width="0.7"/>
<text x="225.7" y="548.3" font-size="8.8" text-anchor="end" fill="#4D4D4D" transform="rotate(-45 225.7 548.3)">E.10</text>
<line x1="241.5" y1="542.3" x2="241.5" y2="543.8" stroke="#727272" stroke-width="0.7"/>
<text x="245.1" y="548.3" font-size="8.8" text-anchor="end" fill="#4D4D4D" transform="rotate(-45 245.1 548.3)">E.11</text>
<line x1="260.9" y1="542.3" x2="260.9" y2="543.8" stroke="#727272" stroke-width="0.7"/>
<text x="264.5" y="548.3" font-size="8.8" text-anchor="end" fill="#4D4D4D" transform="rotate(-45 264.5 548.3)">E.12</text>
<text x="154.3" y="569.6" font-size="8.2" text-anchor="middle" fill="#000">cluster</text>
<text x="19.8" y="456" font-size="8.6" text-anchor="middle" fill="#000" transform="rotate(-90 19.8 456)">Freq</text>
<text x="154.5" y="365" font-size="10.6" text-anchor="middle" font-weight="bold" fill="#000">Proportion of Cells</text>
<text x="278.8" y="450" font-size="6.6" fill="#000">condition</text>
<rect x="279.30" y="454.20" width="6.30" height="6.30" fill="#EE726C"/>
<rect x="279.30" y="460.70" width="6.30" height="6.30" fill="#60D4CA"/>
<text x="288.8" y="459.8" font-size="6.5" fill="#000">control</text>
<text x="288.8" y="466.2" font-size="6.5" fill="#000">cteph</text>
</g>
<g id="bars-count">
<rect x="97.00" y="635.13" width="50.50" height="131.77" fill="#EE726C"/>
<rect x="153.20" y="659.51" width="50.70" height="107.39" fill="#60D4CA"/>
<path d="M88.5 628.8V773.4H211.5" fill="none" stroke="#727272" stroke-width="0.9"/>
<line x1="87.2" y1="766.9" x2="88.5" y2="766.9" stroke="#727272" stroke-width="0.7"/>
<text x="86.5" y="769.7" font-size="8.7" text-anchor="end" fill="#4D4D4D">0</text>
<line x1="87.2" y1="736.6" x2="88.5" y2="736.6" stroke="#727272" stroke-width="0.7"/>
<text x="86.5" y="739.4" font-size="8.7" text-anchor="end" fill="#4D4D4D">500</text>
<line x1="87.2" y1="706.4" x2="88.5" y2="706.4" stroke="#727272" stroke-width="0.7"/>
<text x="86.5" y="709.2" font-size="8.7" text-anchor="end" fill="#4D4D4D">1000</text>
<line x1="87.2" y1="676.1" x2="88.5" y2="676.1" stroke="#727272" stroke-width="0.7"/>
<text x="86.5" y="678.9" font-size="8.7" text-anchor="end" fill="#4D4D4D">1500</text>
<line x1="87.2" y1="645.9" x2="88.5" y2="645.9" stroke="#727272" stroke-width="0.7"/>
<text x="86.5" y="648.7" font-size="8.7" text-anchor="end" fill="#4D4D4D">2000</text>
<line x1="122.3" y1="773.4" x2="122.3" y2="774.9" stroke="#727272" stroke-width="0.7"/>
<text x="125.9" y="779.6" font-size="8.7" text-anchor="end" fill="#4D4D4D" transform="rotate(-45 125.9 779.6)">control</text>
<line x1="178.5" y1="773.4" x2="178.5" y2="774.9" stroke="#727272" stroke-width="0.7"/>
<text x="182.1" y="779.6" font-size="8.7" text-anchor="end" fill="#4D4D4D" transform="rotate(-45 182.1 779.6)">cteph</text>
<text x="150.1" y="806.7" font-size="8.6" text-anchor="middle" fill="#000">condition</text>
<text x="65" y="700.9" font-size="8.6" text-anchor="middle" fill="#000" transform="rotate(-90 65 700.9)">count</text>
<text x="150.3" y="624.3" font-size="10.8" text-anchor="middle" font-weight="bold" fill="#000">Number of Cells</text>
<text x="218.5" y="694.7" font-size="6.6" fill="#000">condition</text>
<rect x="219.00" y="699.10" width="6.30" height="6.30" fill="#EE726C"/>
<rect x="219.00" y="705.60" width="6.30" height="6.30" fill="#60D4CA"/>
<text x="228.5" y="704.6" font-size="6.5" fill="#000">control</text>
<text x="228.5" y="711.1" font-size="6.5" fill="#000">cteph</text>
</g>
<g id="heatmap">
<rect x="367.10" y="380.20" width="24.68" height="9.30" fill="#EE726C"/>
<rect x="389.78" y="380.20" width="24.68" height="9.30" fill="#DB8E2C"/>
<rect x="412.47" y="380.20" width="24.68" height="9.30" fill="#B5A230"/>
<rect x="435.15" y="380.20" width="24.68" height="9.30" fill="#86B72E"/>
<rect x="457.83" y="380.20" width="24.68" height="9.30" fill="#4CD04C"/>
<rect x="480.52" y="380.20" width="24.68" height="9.30" fill="#58D8A0"/>
<rect x="503.20" y="380.20" width="24.68" height="9.30" fill="#5CD3CC"/>
<rect x="525.88" y="380.20" width="24.68" height="9.30" fill="#52BEEC"/>
<rect x="548.57" y="380.20" width="24.68" height="9.30" fill="#6CA0FA"/>
<rect x="571.25" y="380.20" width="24.68" height="9.30" fill="#C47CFA"/>
<rect x="593.93" y="380.20" width="24.68" height="9.30" fill="#F76CF5"/>
<rect x="616.62" y="380.20" width="22.68" height="9.30" fill="#F866B8"/>
<defs><linearGradient id="hg0" gradientUnits="userSpaceOnUse" x1="0" y1="397.60" x2="0" y2="872.70"><stop offset="0.0341" stop-color="#cdde31"/><stop offset="0.0360" stop-color="#a5b328"/><stop offset="0.0517" stop-color="#a5b328"/><stop offset="0.0536" stop-color="#717b1c"/><stop offset="0.0692" stop-color="#717b1c"/><stop offset="0.0711" stop-color="#99a625"/><stop offset="0.0868" stop-color="#99a625"/><stop offset="0.0887" stop-color="#60196d"/><stop offset="0.1043" stop-color="#60196d"/><stop offset="0.1062" stop-color="#110417"/><stop offset="0.1219" stop-color="#110417"/><stop offset="0.1238" stop-color="#2e0b38"/><stop offset="0.1394" stop-color="#2e0b38"/><stop offset="0.1413" stop-color="#000000"/><stop offset="0.1569" stop-color="#000000"/><stop offset="0.1588" stop-color="#232709"/><stop offset="0.1745" stop-color="#232709"/><stop offset="0.1764" stop-color="#3b410f"/><stop offset="0.1920" stop-color="#3b410f"/><stop offset="0.1939" stop-color="#181a06"/><stop offset="0.2096" stop-color="#181a06"/><stop offset="0.2115" stop-color="#000000"/><stop offset="0.2271" stop-color="#000000"/><stop offset="0.2290" stop-color="#1f2208"/><stop offset="0.2447" stop-color="#1f2208"/><stop offset="0.2466" stop-color="#0a020e"/><stop offset="0.2622" stop-color="#0a020e"/><stop offset="0.2641" stop-color="#1c1f07"/><stop offset="0.2798" stop-color="#1c1f07"/><stop offset="0.2816" stop-color="#16051c"/><stop offset="0.2973" stop-color="#16051c"/><stop offset="0.2992" stop-color="#3a0f45"/><stop offset="0.3148" stop-color="#3a0f45"/><stop offset="0.3167" stop-color="#070802"/><stop offset="0.3324" stop-color="#070802"/><stop offset="0.3343" stop-color="#1f2208"/><stop offset="0.3499" stop-color="#1f2208"/><stop offset="0.3518" stop-color="#2f340c"/><stop offset="0.3675" stop-color="#2f340c"/><stop offset="0.3694" stop-color="#474d12"/><stop offset="0.3850" stop-color="#474d12"/><stop offset="0.3869" stop-color="#050501"/><stop offset="0.4026" stop-color="#050501"/><stop offset="0.4045" stop-color="#08020b"/><stop offset="0.4201" stop-color="#08020b"/><stop offset="0.4220" stop-color="#0c0d03"/><stop offset="0.4376" stop-color="#0c0d03"/><stop offset="0.4395" stop-color="#3a0f45"/><stop offset="0.4552" stop-color="#3a0f45"/><stop offset="0.4571" stop-color="#000000"/><stop offset="0.4727" stop-color="#000000"/><stop offset="0.4746" stop-color="#21082a"/><stop offset="0.5078" stop-color="#21082a"/><stop offset="0.5097" stop-color="#474d12"/><stop offset="0.5254" stop-color="#474d12"/><stop offset="0.5273" stop-color="#3b410f"/><stop offset="0.5429" stop-color="#3b410f"/><stop offset="0.5448" stop-color="#363c0e"/><stop offset="0.5605" stop-color="#363c0e"/><stop offset="0.5624" stop-color="#1c1f07"/><stop offset="0.5780" stop-color="#1c1f07"/><stop offset="0.5799" stop-color="#000000"/><stop offset="0.6306" stop-color="#000000"/><stop offset="0.6325" stop-color="#181a06"/><stop offset="0.6482" stop-color="#181a06"/><stop offset="0.6501" stop-color="#111204"/><stop offset="0.6657" stop-color="#111204"/><stop offset="0.6676" stop-color="#0c0d03"/><stop offset="0.6833" stop-color="#0c0d03"/><stop offset="0.6852" stop-color="#2e0b38"/><stop offset="0.7008" stop-color="#2e0b38"/><stop offset="0.7027" stop-color="#461253"/><stop offset="0.7184" stop-color="#461253"/><stop offset="0.7202" stop-color="#232709"/><stop offset="0.7359" stop-color="#232709"/><stop offset="0.7378" stop-color="#16051c"/><stop offset="0.7710" stop-color="#16051c"/><stop offset="0.7729" stop-color="#0f0314"/><stop offset="0.7885" stop-color="#0f0314"/><stop offset="0.7904" stop-color="#21082a"/><stop offset="0.8061" stop-color="#21082a"/><stop offset="0.8080" stop-color="#110417"/><stop offset="0.8412" stop-color="#110417"/><stop offset="0.8431" stop-color="#531660"/><stop offset="0.8587" stop-color="#531660"/><stop offset="0.8606" stop-color="#16051c"/><stop offset="0.8762" stop-color="#16051c"/><stop offset="0.8781" stop-color="#21082a"/><stop offset="0.8938" stop-color="#21082a"/><stop offset="0.8957" stop-color="#1a0622"/><stop offset="0.9113" stop-color="#1a0622"/><stop offset="0.9132" stop-color="#21082a"/><stop offset="0.9289" stop-color="#21082a"/><stop offset="0.9308" stop-color="#1a0622"/><stop offset="0.9464" stop-color="#1a0622"/><stop offset="0.9483" stop-color="#2e0b38"/><stop offset="0.9640" stop-color="#2e0b38"/><stop offset="0.9659" stop-color="#461253"/><stop offset="0.9815" stop-color="#461253"/><stop offset="0.9834" stop-color="#000000"/></linearGradient>
<linearGradient id="hg1" gradientUnits="userSpaceOnUse" x1="0" y1="397.60" x2="0" y2="872.70"><stop offset="0.0166" stop-color="#2e0b38"/><stop offset="0.0185" stop-color="#531660"/><stop offset="0.0341" stop-color="#531660"/><stop offset="0.0360" stop-color="#7f228c"/><stop offset="0.0517" stop-color="#7f228c"/><stop offset="0.0536" stop-color="#741f82"/><stop offset="0.0868" stop-color="#741f82"/><stop offset="0.0887" stop-color="#ecff38"/><stop offset="0.1043" stop-color="#ecff38"/><stop offset="0.1062" stop-color="#828d20"/><stop offset="0.1219" stop-color="#828d20"/><stop offset="0.1238" stop-color="#e0f235"/><stop offset="0.1394" stop-color="#e0f235"/><stop offset="0.1413" stop-color="#76801d"/><stop offset="0.1569" stop-color="#76801d"/><stop offset="0.1588" stop-color="#b1c02b"/><stop offset="0.1745" stop-color="#b1c02b"/><stop offset="0.1764" stop-color="#0a020e"/><stop offset="0.1920" stop-color="#0a020e"/><stop offset="0.1939" stop-color="#21082a"/><stop offset="0.2096" stop-color="#21082a"/><stop offset="0.2115" stop-color="#60196d"/><stop offset="0.2447" stop-color="#60196d"/><stop offset="0.2466" stop-color="#474d12"/><stop offset="0.2798" stop-color="#474d12"/><stop offset="0.2816" stop-color="#828d20"/><stop offset="0.2973" stop-color="#828d20"/><stop offset="0.2992" stop-color="#6a741a"/><stop offset="0.3148" stop-color="#6a741a"/><stop offset="0.3167" stop-color="#717b1c"/><stop offset="0.3324" stop-color="#717b1c"/><stop offset="0.3343" stop-color="#474d12"/><stop offset="0.3499" stop-color="#474d12"/><stop offset="0.3518" stop-color="#60196d"/><stop offset="0.3675" stop-color="#60196d"/><stop offset="0.3694" stop-color="#21082a"/><stop offset="0.3850" stop-color="#21082a"/><stop offset="0.3869" stop-color="#2e0b38"/><stop offset="0.4026" stop-color="#2e0b38"/><stop offset="0.4045" stop-color="#3a0f45"/><stop offset="0.4376" stop-color="#3a0f45"/><stop offset="0.4395" stop-color="#16051c"/><stop offset="0.4552" stop-color="#16051c"/><stop offset="0.4571" stop-color="#461253"/><stop offset="0.4727" stop-color="#461253"/><stop offset="0.4746" stop-color="#110417"/><stop offset="0.4903" stop-color="#110417"/><stop offset="0.4922" stop-color="#461253"/><stop offset="0.5078" stop-color="#461253"/><stop offset="0.5097" stop-color="#872494"/><stop offset="0.5254" stop-color="#872494"/><stop offset="0.5273" stop-color="#531660"/><stop offset="0.5429" stop-color="#531660"/><stop offset="0.5448" stop-color="#000000"/><stop offset="0.5605" stop-color="#000000"/><stop offset="0.5624" stop-color="#2e0b38"/><stop offset="0.5780" stop-color="#2e0b38"/><stop offset="0.5799" stop-color="#3a0f45"/><stop offset="0.5955" stop-color="#3a0f45"/><stop offset="0.5974" stop-color="#1c1f07"/><stop offset="0.6131" stop-color="#1c1f07"/><stop offset="0.6150" stop-color="#21082a"/><stop offset="0.6306" stop-color="#21082a"/><stop offset="0.6325" stop-color="#5a6216"/><stop offset="0.6482" stop-color="#5a6216"/><stop offset="0.6501" stop-color="#000000"/><stop offset="0.6657" stop-color="#000000"/><stop offset="0.6676" stop-color="#6d1d7a"/><stop offset="0.6833" stop-color="#6d1d7a"/><stop offset="0.6852" stop-color="#531660"/><stop offset="0.7008" stop-color="#531660"/><stop offset="0.7027" stop-color="#3a0f45"/><stop offset="0.7184" stop-color="#3a0f45"/><stop offset="0.7202" stop-color="#60196d"/><stop offset="0.7359" stop-color="#60196d"/><stop offset="0.7378" stop-color="#0a020e"/><stop offset="0.7534" stop-color="#0a020e"/><stop offset="0.7553" stop-color="#16051c"/><stop offset="0.7710" stop-color="#16051c"/><stop offset="0.7729" stop-color="#000000"/><stop offset="0.8061" stop-color="#000000"/><stop offset="0.8080" stop-color="#131505"/><stop offset="0.8236" stop-color="#131505"/><stop offset="0.8255" stop-color="#16051c"/><stop offset="0.8412" stop-color="#16051c"/><stop offset="0.8431" stop-color="#060109"/><stop offset="0.8587" stop-color="#060109"/><stop offset="0.8606" stop-color="#16051c"/><stop offset="0.8762" stop-color="#16051c"/><stop offset="0.8781" stop-color="#111204"/><stop offset="0.8938" stop-color="#111204"/><stop offset="0.8957" stop-color="#110417"/><stop offset="0.9113" stop-color="#110417"/><stop offset="0.9132" stop-color="#16051c"/><stop offset="0.9289" stop-color="#16051c"/><stop offset="0.9308" stop-color="#0a020e"/><stop offset="0.9464" stop-color="#0a020e"/><stop offset="0.9483" stop-color="#461253"/><stop offset="0.9640" stop-color="#461253"/><stop offset="0.9659" stop-color="#0a020e"/><stop offset="0.9815" stop-color="#0a020e"/><stop offset="0.9834" stop-color="#21082a"/></linearGradient>
<linearGradient id="hg2" gradientUnits="userSpaceOnUse" x1="0" y1="397.60" x2="0" y2="872.70"><stop offset="0.0341" stop-color="#2e0b38"/><stop offset="0.0360" stop-color="#21082a"/><stop offset="0.0692" stop-color="#21082a"/><stop offset="0.0711" stop-color="#5b1868"/><stop offset="0.0868" stop-color="#5b1868"/><stop offset="0.0887" stop-color="#232709"/><stop offset="0.1043" stop-color="#232709"/><stop offset="0.1062" stop-color="#828d20"/><stop offset="0.1219" stop-color="#828d20"/><stop offset="0.1238" stop-color="#1c1f07"/><stop offset="0.1394" stop-color="#1c1f07"/><stop offset="0.1413" stop-color="#232709"/><stop offset="0.1569" stop-color="#232709"/><stop offset="0.1588" stop-color="#2e0b38"/><stop offset="0.1745" stop-color="#2e0b38"/><stop offset="0.1764" stop-color="#828d20"/><stop offset="0.1920" stop-color="#828d20"/><stop offset="0.1939" stop-color="#a5b328"/><stop offset="0.2271" stop-color="#a5b328"/><stop offset="0.2290" stop-color="#acbb2a"/><stop offset="0.2447" stop-color="#acbb2a"/><stop offset="0.2466" stop-color="#b1c02b"/><stop offset="0.2622" stop-color="#b1c02b"/><stop offset="0.2641" stop-color="#3b410f"/><stop offset="0.2798" stop-color="#3b410f"/><stop offset="0.2816" stop-color="#5e6717"/><stop offset="0.2973" stop-color="#5e6717"/><stop offset="0.2992" stop-color="#0c0d03"/><stop offset="0.3148" stop-color="#0c0d03"/><stop offset="0.3167" stop-color="#535a15"/><stop offset="0.3499" stop-color="#535a15"/><stop offset="0.3518" stop-color="#000000"/><stop offset="0.3675" stop-color="#000000"/><stop offset="0.3694" stop-color="#1c1f07"/><stop offset="0.3850" stop-color="#1c1f07"/><stop offset="0.3869" stop-color="#3b410f"/><stop offset="0.4026" stop-color="#3b410f"/><stop offset="0.4045" stop-color="#131505"/><stop offset="0.4201" stop-color="#131505"/><stop offset="0.4220" stop-color="#000000"/><stop offset="0.4376" stop-color="#000000"/><stop offset="0.4395" stop-color="#2e0b38"/><stop offset="0.4552" stop-color="#2e0b38"/><stop offset="0.4571" stop-color="#792087"/><stop offset="0.4727" stop-color="#792087"/><stop offset="0.4746" stop-color="#3a0f45"/><stop offset="0.4903" stop-color="#3a0f45"/><stop offset="0.4922" stop-color="#531660"/><stop offset="0.5078" stop-color="#531660"/><stop offset="0.5097" stop-color="#9428a0"/><stop offset="0.5254" stop-color="#9428a0"/><stop offset="0.5273" stop-color="#461253"/><stop offset="0.5429" stop-color="#461253"/><stop offset="0.5448" stop-color="#21082a"/><stop offset="0.5605" stop-color="#21082a"/><stop offset="0.5624" stop-color="#531660"/><stop offset="0.5780" stop-color="#531660"/><stop offset="0.5799" stop-color="#3a0f45"/><stop offset="0.5955" stop-color="#3a0f45"/><stop offset="0.5974" stop-color="#7d881f"/><stop offset="0.6131" stop-color="#7d881f"/><stop offset="0.6150" stop-color="#000000"/><stop offset="0.6306" stop-color="#000000"/><stop offset="0.6325" stop-color="#636c19"/><stop offset="0.6482" stop-color="#636c19"/><stop offset="0.6501" stop-color="#2e0b38"/><stop offset="0.6657" stop-color="#2e0b38"/><stop offset="0.6676" stop-color="#290a32"/><stop offset="0.6833" stop-color="#290a32"/><stop offset="0.6852" stop-color="#461253"/><stop offset="0.7008" stop-color="#461253"/><stop offset="0.7027" stop-color="#0a020e"/><stop offset="0.7184" stop-color="#0a020e"/><stop offset="0.7202" stop-color="#2e0b38"/><stop offset="0.7359" stop-color="#2e0b38"/><stop offset="0.7378" stop-color="#0f0314"/><stop offset="0.7534" stop-color="#0f0314"/><stop offset="0.7553" stop-color="#2e0b38"/><stop offset="0.7710" stop-color="#2e0b38"/><stop offset="0.7729" stop-color="#0f0314"/><stop offset="0.7885" stop-color="#0f0314"/><stop offset="0.7904" stop-color="#531660"/><stop offset="0.8061" stop-color="#531660"/><stop offset="0.8080" stop-color="#0a020e"/><stop offset="0.8236" stop-color="#0a020e"/><stop offset="0.8255" stop-color="#16051c"/><stop offset="0.8412" stop-color="#16051c"/><stop offset="0.8431" stop-color="#531660"/><stop offset="0.8587" stop-color="#531660"/><stop offset="0.8606" stop-color="#16051c"/><stop offset="0.8762" stop-color="#16051c"/><stop offset="0.8781" stop-color="#320d3d"/><stop offset="0.8938" stop-color="#320d3d"/><stop offset="0.8957" stop-color="#16051c"/><stop offset="0.9113" stop-color="#16051c"/><stop offset="0.9132" stop-color="#1a0622"/><stop offset="0.9289" stop-color="#1a0622"/><stop offset="0.9308" stop-color="#0a020e"/><stop offset="0.9464" stop-color="#0a020e"/><stop offset="0.9483" stop-color="#461253"/><stop offset="0.9640" stop-color="#461253"/><stop offset="0.9659" stop-color="#4b1358"/></linearGradient>
<linearGradient id="hg3" gradientUnits="userSpaceOnUse" x1="0" y1="397.60" x2="0" y2="872.70"><stop offset="0.0166" stop-color="#232709"/><stop offset="0.0185" stop-color="#1a0622"/><stop offset="0.0341" stop-color="#1a0622"/><stop offset="0.0360" stop-color="#2e0b38"/><stop offset="0.0517" stop-color="#2e0b38"/><stop offset="0.0536" stop-color="#21082a"/><stop offset="0.0692" stop-color="#21082a"/><stop offset="0.0711" stop-color="#60196d"/><stop offset="0.0868" stop-color="#60196d"/><stop offset="0.0887" stop-color="#535a15"/><stop offset="0.1043" stop-color="#535a15"/><stop offset="0.1062" stop-color="#6a741a"/><stop offset="0.1394" stop-color="#6a741a"/><stop offset="0.1413" stop-color="#3b410f"/><stop offset="0.1569" stop-color="#3b410f"/><stop offset="0.1588" stop-color="#0a020e"/><stop offset="0.1745" stop-color="#0a020e"/><stop offset="0.1764" stop-color="#2a2f0b"/><stop offset="0.1920" stop-color="#2a2f0b"/><stop offset="0.1939" stop-color="#181a06"/><stop offset="0.2096" stop-color="#181a06"/><stop offset="0.2115" stop-color="#1a0622"/><stop offset="0.2271" stop-color="#1a0622"/><stop offset="0.2290" stop-color="#21082a"/><stop offset="0.2447" stop-color="#21082a"/><stop offset="0.2466" stop-color="#232709"/><stop offset="0.2622" stop-color="#232709"/><stop offset="0.2641" stop-color="#99a625"/><stop offset="0.2798" stop-color="#99a625"/><stop offset="0.2816" stop-color="#a5b328"/><stop offset="0.2973" stop-color="#a5b328"/><stop offset="0.2992" stop-color="#76801d"/><stop offset="0.3148" stop-color="#76801d"/><stop offset="0.3167" stop-color="#acbb2a"/><stop offset="0.3324" stop-color="#acbb2a"/><stop offset="0.3343" stop-color="#828d20"/><stop offset="0.3499" stop-color="#828d20"/><stop offset="0.3518" stop-color="#461253"/><stop offset="0.3675" stop-color="#461253"/><stop offset="0.3694" stop-color="#16051c"/><stop offset="0.3850" stop-color="#16051c"/><stop offset="0.3869" stop-color="#2e0b38"/><stop offset="0.4026" stop-color="#2e0b38"/><stop offset="0.4045" stop-color="#3a0f45"/><stop offset="0.4201" stop-color="#3a0f45"/><stop offset="0.4220" stop-color="#2e0b38"/><stop offset="0.4376" stop-color="#2e0b38"/><stop offset="0.4395" stop-color="#792087"/><stop offset="0.4552" stop-color="#792087"/><stop offset="0.4571" stop-color="#60196d"/><stop offset="0.4727" stop-color="#60196d"/><stop offset="0.4746" stop-color="#3a0f45"/><stop offset="0.4903" stop-color="#3a0f45"/><stop offset="0.4922" stop-color="#461253"/><stop offset="0.5078" stop-color="#461253"/><stop offset="0.5097" stop-color="#60196d"/><stop offset="0.5254" stop-color="#60196d"/><stop offset="0.5273" stop-color="#531660"/><stop offset="0.5429" stop-color="#531660"/><stop offset="0.5448" stop-color="#1c1f07"/><stop offset="0.5605" stop-color="#1c1f07"/><stop offset="0.5624" stop-color="#21082a"/><stop offset="0.5780" stop-color="#21082a"/><stop offset="0.5799" stop-color="#3a0f45"/><stop offset="0.5955" stop-color="#3a0f45"/><stop offset="0.5974" stop-color="#2f340c"/><stop offset="0.6131" stop-color="#2f340c"/><stop offset="0.6150" stop-color="#21082a"/><stop offset="0.6306" stop-color="#21082a"/><stop offset="0.6325" stop-color="#4c5313"/><stop offset="0.6482" stop-color="#4c5313"/><stop offset="0.6501" stop-color="#461253"/><stop offset="0.6657" stop-color="#461253"/><stop offset="0.6676" stop-color="#60196d"/><stop offset="0.6833" stop-color="#60196d"/><stop offset="0.6852" stop-color="#531660"/><stop offset="0.7008" stop-color="#531660"/><stop offset="0.7027" stop-color="#4b1358"/><stop offset="0.7184" stop-color="#4b1358"/><stop offset="0.7202" stop-color="#9428a0"/><stop offset="0.7359" stop-color="#9428a0"/><stop offset="0.7378" stop-color="#16051c"/><stop offset="0.7534" stop-color="#16051c"/><stop offset="0.7553" stop-color="#21082a"/><stop offset="0.7885" stop-color="#21082a"/><stop offset="0.7904" stop-color="#000000"/><stop offset="0.8061" stop-color="#000000"/><stop offset="0.8080" stop-color="#1a0622"/><stop offset="0.8236" stop-color="#1a0622"/><stop offset="0.8255" stop-color="#16051c"/><stop offset="0.8412" stop-color="#16051c"/><stop offset="0.8431" stop-color="#21082a"/><stop offset="0.8587" stop-color="#21082a"/><stop offset="0.8606" stop-color="#16051c"/><stop offset="0.9113" stop-color="#16051c"/><stop offset="0.9132" stop-color="#290a32"/><stop offset="0.9289" stop-color="#290a32"/><stop offset="0.9308" stop-color="#000000"/><stop offset="0.9464" stop-color="#000000"/><stop offset="0.9483" stop-color="#531660"/><stop offset="0.9640" stop-color="#531660"/><stop offset="0.9659" stop-color="#0a020e"/></linearGradient>
<linearGradient id="hg4" gradientUnits="userSpaceOnUse" x1="0" y1="397.60" x2="0" y2="872.70"><stop offset="0.0166" stop-color="#828d20"/><stop offset="0.0185" stop-color="#a5b328"/><stop offset="0.0341" stop-color="#a5b328"/><stop offset="0.0360" stop-color="#828d20"/><stop offset="0.0517" stop-color="#828d20"/><stop offset="0.0536" stop-color="#535a15"/><stop offset="0.0692" stop-color="#535a15"/><stop offset="0.0711" stop-color="#bdcc2d"/><stop offset="0.0868" stop-color="#bdcc2d"/><stop offset="0.0887" stop-color="#2e0b38"/><stop offset="0.1043" stop-color="#2e0b38"/><stop offset="0.1062" stop-color="#232709"/><stop offset="0.1219" stop-color="#232709"/><stop offset="0.1238" stop-color="#0a020e"/><stop offset="0.1394" stop-color="#0a020e"/><stop offset="0.1413" stop-color="#070802"/><stop offset="0.1569" stop-color="#070802"/><stop offset="0.1588" stop-color="#531660"/><stop offset="0.1745" stop-color="#531660"/><stop offset="0.1764" stop-color="#b1c02b"/><stop offset="0.2096" stop-color="#b1c02b"/><stop offset="0.2115" stop-color="#c9d930"/><stop offset="0.2447" stop-color="#c9d930"/><stop offset="0.2466" stop-color="#a5b328"/><stop offset="0.2622" stop-color="#a5b328"/><stop offset="0.2641" stop-color="#131505"/><stop offset="0.2798" stop-color="#131505"/><stop offset="0.2816" stop-color="#0c0d03"/><stop offset="0.2973" stop-color="#0c0d03"/><stop offset="0.2992" stop-color="#21082a"/><stop offset="0.3148" stop-color="#21082a"/><stop offset="0.3167" stop-color="#232709"/><stop offset="0.3324" stop-color="#232709"/><stop offset="0.3343" stop-color="#5e6717"/><stop offset="0.3499" stop-color="#5e6717"/><stop offset="0.3518" stop-color="#ecff38"/><stop offset="0.4376" stop-color="#ecff38"/><stop offset="0.4395" stop-color="#110417"/><stop offset="0.4552" stop-color="#110417"/><stop offset="0.4571" stop-color="#792087"/><stop offset="0.4727" stop-color="#792087"/><stop offset="0.4746" stop-color="#2e0b38"/><stop offset="0.4903" stop-color="#2e0b38"/><stop offset="0.4922" stop-color="#4b1358"/><stop offset="0.5078" stop-color="#4b1358"/><stop offset="0.5097" stop-color="#531660"/><stop offset="0.5254" stop-color="#531660"/><stop offset="0.5273" stop-color="#000000"/><stop offset="0.5429" stop-color="#000000"/><stop offset="0.5448" stop-color="#461253"/><stop offset="0.5605" stop-color="#461253"/><stop offset="0.5624" stop-color="#60196d"/><stop offset="0.5780" stop-color="#60196d"/><stop offset="0.5799" stop-color="#424811"/><stop offset="0.5955" stop-color="#424811"/><stop offset="0.5974" stop-color="#474d12"/><stop offset="0.6131" stop-color="#474d12"/><stop offset="0.6150" stop-color="#000000"/><stop offset="0.6306" stop-color="#000000"/><stop offset="0.6325" stop-color="#3b410f"/><stop offset="0.6482" stop-color="#3b410f"/><stop offset="0.6501" stop-color="#461253"/><stop offset="0.6657" stop-color="#461253"/><stop offset="0.6676" stop-color="#2f340c"/><stop offset="0.6833" stop-color="#2f340c"/><stop offset="0.6852" stop-color="#290a32"/><stop offset="0.7008" stop-color="#290a32"/><stop offset="0.7027" stop-color="#535a15"/><stop offset="0.7184" stop-color="#535a15"/><stop offset="0.7202" stop-color="#b1c02b"/><stop offset="0.7359" stop-color="#b1c02b"/><stop offset="0.7378" stop-color="#16051c"/><stop offset="0.7534" stop-color="#16051c"/><stop offset="0.7553" stop-color="#2e0b38"/><stop offset="0.7710" stop-color="#2e0b38"/><stop offset="0.7729" stop-color="#0a020e"/><stop offset="0.7885" stop-color="#0a020e"/><stop offset="0.7904" stop-color="#461253"/><stop offset="0.8061" stop-color="#461253"/><stop offset="0.8080" stop-color="#110417"/><stop offset="0.8236" stop-color="#110417"/><stop offset="0.8255" stop-color="#16051c"/><stop offset="0.8412" stop-color="#16051c"/><stop offset="0.8431" stop-color="#531660"/><stop offset="0.8587" stop-color="#531660"/><stop offset="0.8606" stop-color="#16051c"/><stop offset="0.8762" stop-color="#16051c"/><stop offset="0.8781" stop-color="#290a32"/><stop offset="0.8938" stop-color="#290a32"/><stop offset="0.8957" stop-color="#16051c"/><stop offset="0.9113" stop-color="#16051c"/><stop offset="0.9132" stop-color="#21082a"/><stop offset="0.9289" stop-color="#21082a"/><stop offset="0.9308" stop-color="#1a0622"/><stop offset="0.9464" stop-color="#1a0622"/><stop offset="0.9483" stop-color="#0f0314"/><stop offset="0.9640" stop-color="#0f0314"/><stop offset="0.9659" stop-color="#6d1d7a"/><stop offset="0.9815" stop-color="#6d1d7a"/><stop offset="0.9834" stop-color="#531660"/></linearGradient>
<linearGradient id="hg5" gradientUnits="userSpaceOnUse" x1="0" y1="397.60" x2="0" y2="872.70"><stop offset="0.0166" stop-color="#461253"/><stop offset="0.0185" stop-color="#060109"/><stop offset="0.0341" stop-color="#060109"/><stop offset="0.0360" stop-color="#232709"/><stop offset="0.0517" stop-color="#232709"/><stop offset="0.0536" stop-color="#21082a"/><stop offset="0.0692" stop-color="#21082a"/><stop offset="0.0711" stop-color="#3a0f45"/><stop offset="0.0868" stop-color="#3a0f45"/><stop offset="0.0887" stop-color="#000000"/><stop offset="0.1043" stop-color="#000000"/><stop offset="0.1062" stop-color="#3a0f45"/><stop offset="0.1219" stop-color="#3a0f45"/><stop offset="0.1238" stop-color="#9428a0"/><stop offset="0.1394" stop-color="#9428a0"/><stop offset="0.1413" stop-color="#000000"/><stop offset="0.1569" stop-color="#000000"/><stop offset="0.1588" stop-color="#16051c"/><stop offset="0.1920" stop-color="#16051c"/><stop offset="0.1939" stop-color="#461253"/><stop offset="0.2096" stop-color="#461253"/><stop offset="0.2115" stop-color="#531660"/><stop offset="0.2271" stop-color="#531660"/><stop offset="0.2290" stop-color="#2e0b38"/><stop offset="0.2447" stop-color="#2e0b38"/><stop offset="0.2466" stop-color="#60196d"/><stop offset="0.2622" stop-color="#60196d"/><stop offset="0.2641" stop-color="#ae30b9"/><stop offset="0.2798" stop-color="#ae30b9"/><stop offset="0.2816" stop-color="#531660"/><stop offset="0.2973" stop-color="#531660"/><stop offset="0.2992" stop-color="#6d1d7a"/><stop offset="0.3148" stop-color="#6d1d7a"/><stop offset="0.3167" stop-color="#872494"/><stop offset="0.3324" stop-color="#872494"/><stop offset="0.3343" stop-color="#ae30b9"/><stop offset="0.3499" stop-color="#ae30b9"/><stop offset="0.3518" stop-color="#3a0f45"/><stop offset="0.3675" stop-color="#3a0f45"/><stop offset="0.3694" stop-color="#461253"/><stop offset="0.3850" stop-color="#461253"/><stop offset="0.3869" stop-color="#2e0b38"/><stop offset="0.4026" stop-color="#2e0b38"/><stop offset="0.4045" stop-color="#21082a"/><stop offset="0.4201" stop-color="#21082a"/><stop offset="0.4220" stop-color="#2e0b38"/><stop offset="0.4376" stop-color="#2e0b38"/><stop offset="0.4395" stop-color="#bdcc2d"/><stop offset="0.4552" stop-color="#bdcc2d"/><stop offset="0.4571" stop-color="#828d20"/><stop offset="0.4727" stop-color="#828d20"/><stop offset="0.4746" stop-color="#ecff38"/><stop offset="0.4903" stop-color="#ecff38"/><stop offset="0.4922" stop-color="#c9d930"/><stop offset="0.5078" stop-color="#c9d930"/><stop offset="0.5097" stop-color="#a5b328"/><stop offset="0.5254" stop-color="#a5b328"/><stop offset="0.5273" stop-color="#2a2f0b"/><stop offset="0.5429" stop-color="#2a2f0b"/><stop offset="0.5448" stop-color="#a12cad"/><stop offset="0.5605" stop-color="#a12cad"/><stop offset="0.5624" stop-color="#181a06"/><stop offset="0.5780" stop-color="#181a06"/><stop offset="0.5799" stop-color="#110417"/><stop offset="0.5955" stop-color="#110417"/><stop offset="0.5974" stop-color="#000000"/><stop offset="0.6131" stop-color="#000000"/><stop offset="0.6150" stop-color="#60196d"/><stop offset="0.6306" stop-color="#60196d"/><stop offset="0.6325" stop-color="#21082a"/><stop offset="0.6482" stop-color="#21082a"/><stop offset="0.6501" stop-color="#320d3d"/><stop offset="0.6657" stop-color="#320d3d"/><stop offset="0.6676" stop-color="#131505"/><stop offset="0.6833" stop-color="#131505"/><stop offset="0.6852" stop-color="#76801d"/><stop offset="0.7008" stop-color="#76801d"/><stop offset="0.7027" stop-color="#828d20"/><stop offset="0.7184" stop-color="#828d20"/><stop offset="0.7202" stop-color="#21082a"/><stop offset="0.7359" stop-color="#21082a"/><stop offset="0.7378" stop-color="#050501"/><stop offset="0.7534" stop-color="#050501"/><stop offset="0.7553" stop-color="#060109"/><stop offset="0.7710" stop-color="#060109"/><stop offset="0.7729" stop-color="#232709"/><stop offset="0.7885" stop-color="#232709"/><stop offset="0.7904" stop-color="#131505"/><stop offset="0.8061" stop-color="#131505"/><stop offset="0.8080" stop-color="#3b410f"/><stop offset="0.8236" stop-color="#3b410f"/><stop offset="0.8255" stop-color="#110417"/><stop offset="0.8412" stop-color="#110417"/><stop offset="0.8431" stop-color="#461253"/><stop offset="0.8587" stop-color="#461253"/><stop offset="0.8606" stop-color="#110417"/><stop offset="0.8762" stop-color="#110417"/><stop offset="0.8781" stop-color="#000000"/><stop offset="0.8938" stop-color="#000000"/><stop offset="0.8957" stop-color="#060109"/><stop offset="0.9113" stop-color="#060109"/><stop offset="0.9132" stop-color="#290a32"/><stop offset="0.9289" stop-color="#290a32"/><stop offset="0.9308" stop-color="#461253"/><stop offset="0.9464" stop-color="#461253"/><stop offset="0.9483" stop-color="#34390d"/><stop offset="0.9640" stop-color="#34390d"/><stop offset="0.9659" stop-color="#3b410f"/><stop offset="0.9815" stop-color="#3b410f"/><stop offset="0.9834" stop-color="#000000"/></linearGradient>
<linearGradient id="hg6" gradientUnits="userSpaceOnUse" x1="0" y1="397.60" x2="0" y2="872.70"><stop offset="0.0166" stop-color="#461253"/><stop offset="0.0185" stop-color="#3b410f"/><stop offset="0.0341" stop-color="#3b410f"/><stop offset="0.0360" stop-color="#474d12"/><stop offset="0.0517" stop-color="#474d12"/><stop offset="0.0536" stop-color="#99a625"/><stop offset="0.0692" stop-color="#99a625"/><stop offset="0.0711" stop-color="#000000"/><stop offset="0.0868" stop-color="#000000"/><stop offset="0.0887" stop-color="#3a0f45"/><stop offset="0.1043" stop-color="#3a0f45"/><stop offset="0.1062" stop-color="#a12cad"/><stop offset="0.1219" stop-color="#a12cad"/><stop offset="0.1238" stop-color="#60196d"/><stop offset="0.1569" stop-color="#60196d"/><stop offset="0.1588" stop-color="#21082a"/><stop offset="0.1745" stop-color="#21082a"/><stop offset="0.1764" stop-color="#d63cdd"/><stop offset="0.1920" stop-color="#d63cdd"/><stop offset="0.1939" stop-color="#872494"/><stop offset="0.2271" stop-color="#872494"/><stop offset="0.2290" stop-color="#531660"/><stop offset="0.2447" stop-color="#531660"/><stop offset="0.2466" stop-color="#792087"/><stop offset="0.2622" stop-color="#792087"/><stop offset="0.2641" stop-color="#a12cad"/><stop offset="0.2798" stop-color="#a12cad"/><stop offset="0.2816" stop-color="#d63cdd"/><stop offset="0.2973" stop-color="#d63cdd"/><stop offset="0.2992" stop-color="#872494"/><stop offset="0.3148" stop-color="#872494"/><stop offset="0.3167" stop-color="#60196d"/><stop offset="0.3324" stop-color="#60196d"/><stop offset="0.3343" stop-color="#ae30b9"/><stop offset="0.3499" stop-color="#ae30b9"/><stop offset="0.3518" stop-color="#5a6216"/><stop offset="0.3675" stop-color="#5a6216"/><stop offset="0.3694" stop-color="#110417"/><stop offset="0.3850" stop-color="#110417"/><stop offset="0.3869" stop-color="#000000"/><stop offset="0.4026" stop-color="#000000"/><stop offset="0.4045" stop-color="#2e0b38"/><stop offset="0.4201" stop-color="#2e0b38"/><stop offset="0.4220" stop-color="#0f0314"/><stop offset="0.4376" stop-color="#0f0314"/><stop offset="0.4395" stop-color="#060109"/><stop offset="0.4552" stop-color="#060109"/><stop offset="0.4571" stop-color="#a5b328"/><stop offset="0.4727" stop-color="#a5b328"/><stop offset="0.4746" stop-color="#320d3d"/><stop offset="0.4903" stop-color="#320d3d"/><stop offset="0.4922" stop-color="#6f791b"/><stop offset="0.5078" stop-color="#6f791b"/><stop offset="0.5097" stop-color="#474d12"/><stop offset="0.5254" stop-color="#474d12"/><stop offset="0.5273" stop-color="#d4e633"/><stop offset="0.5429" stop-color="#d4e633"/><stop offset="0.5448" stop-color="#e7fa37"/><stop offset="0.5605" stop-color="#e7fa37"/><stop offset="0.5624" stop-color="#c4d42f"/><stop offset="0.5780" stop-color="#c4d42f"/><stop offset="0.5799" stop-color="#ecff38"/><stop offset="0.5955" stop-color="#ecff38"/><stop offset="0.5974" stop-color="#d63cdd"/><stop offset="0.6131" stop-color="#d63cdd"/><stop offset="0.6150" stop-color="#461253"/><stop offset="0.6306" stop-color="#461253"/><stop offset="0.6325" stop-color="#60196d"/><stop offset="0.6482" stop-color="#60196d"/><stop offset="0.6501" stop-color="#320d3d"/><stop offset="0.6657" stop-color="#320d3d"/><stop offset="0.6676" stop-color="#535a15"/><stop offset="0.6833" stop-color="#535a15"/><stop offset="0.6852" stop-color="#2a2f0b"/><stop offset="0.7008" stop-color="#2a2f0b"/><stop offset="0.7027" stop-color="#3a0f45"/><stop offset="0.7184" stop-color="#3a0f45"/><stop offset="0.7202" stop-color="#7d881f"/><stop offset="0.7359" stop-color="#7d881f"/><stop offset="0.7378" stop-color="#0f0314"/><stop offset="0.7534" stop-color="#0f0314"/><stop offset="0.7553" stop-color="#000000"/><stop offset="0.7710" stop-color="#000000"/><stop offset="0.7729" stop-color="#1a0622"/><stop offset="0.8061" stop-color="#1a0622"/><stop offset="0.8080" stop-color="#21082a"/><stop offset="0.8236" stop-color="#21082a"/><stop offset="0.8255" stop-color="#110417"/><stop offset="0.8412" stop-color="#110417"/><stop offset="0.8431" stop-color="#111204"/><stop offset="0.8587" stop-color="#111204"/><stop offset="0.8606" stop-color="#110417"/><stop offset="0.8762" stop-color="#110417"/><stop offset="0.8781" stop-color="#0f0314"/><stop offset="0.8938" stop-color="#0f0314"/><stop offset="0.8957" stop-color="#110417"/><stop offset="0.9113" stop-color="#110417"/><stop offset="0.9132" stop-color="#21082a"/><stop offset="0.9289" stop-color="#21082a"/><stop offset="0.9308" stop-color="#461253"/><stop offset="0.9464" stop-color="#461253"/><stop offset="0.9483" stop-color="#070802"/><stop offset="0.9640" stop-color="#070802"/><stop offset="0.9659" stop-color="#000000"/><stop offset="0.9815" stop-color="#000000"/><stop offset="0.9834" stop-color="#1a0622"/></linearGradient>
<linearGradient id="hg7" gradientUnits="userSpaceOnUse" x1="0" y1="397.60" x2="0" y2="872.70"><stop offset="0.0166" stop-color="#232709"/><stop offset="0.0185" stop-color="#16051c"/><stop offset="0.0341" stop-color="#16051c"/><stop offset="0.0360" stop-color="#a12cad"/><stop offset="0.0517" stop-color="#a12cad"/><stop offset="0.0536" stop-color="#60196d"/><stop offset="0.0692" stop-color="#60196d"/><stop offset="0.0711" stop-color="#2e0b38"/><stop offset="0.0868" stop-color="#2e0b38"/><stop offset="0.0887" stop-color="#000000"/><stop offset="0.1043" stop-color="#000000"/><stop offset="0.1062" stop-color="#3b410f"/><stop offset="0.1219" stop-color="#3b410f"/><stop offset="0.1238" stop-color="#424811"/><stop offset="0.1394" stop-color="#424811"/><stop offset="0.1413" stop-color="#76801d"/><stop offset="0.1569" stop-color="#76801d"/><stop offset="0.1588" stop-color="#060109"/><stop offset="0.1745" stop-color="#060109"/><stop offset="0.1764" stop-color="#232709"/><stop offset="0.1920" stop-color="#232709"/><stop offset="0.1939" stop-color="#363c0e"/><stop offset="0.2096" stop-color="#363c0e"/><stop offset="0.2115" stop-color="#111204"/><stop offset="0.2271" stop-color="#111204"/><stop offset="0.2290" stop-color="#000000"/><stop offset="0.2447" stop-color="#000000"/><stop offset="0.2466" stop-color="#131505"/><stop offset="0.2622" stop-color="#131505"/><stop offset="0.2641" stop-color="#828d20"/><stop offset="0.2798" stop-color="#828d20"/><stop offset="0.2816" stop-color="#0f0314"/><stop offset="0.2973" stop-color="#0f0314"/><stop offset="0.2992" stop-color="#21082a"/><stop offset="0.3148" stop-color="#21082a"/><stop offset="0.3167" stop-color="#717b1c"/><stop offset="0.3324" stop-color="#717b1c"/><stop offset="0.3343" stop-color="#2f340c"/><stop offset="0.3499" stop-color="#2f340c"/><stop offset="0.3518" stop-color="#531660"/><stop offset="0.3675" stop-color="#531660"/><stop offset="0.3694" stop-color="#461253"/><stop offset="0.3850" stop-color="#461253"/><stop offset="0.3869" stop-color="#21082a"/><stop offset="0.4026" stop-color="#21082a"/><stop offset="0.4045" stop-color="#08020b"/><stop offset="0.4201" stop-color="#08020b"/><stop offset="0.4220" stop-color="#0f0314"/><stop offset="0.4376" stop-color="#0f0314"/><stop offset="0.4395" stop-color="#792087"/><stop offset="0.4552" stop-color="#792087"/><stop offset="0.4571" stop-color="#531660"/><stop offset="0.4727" stop-color="#531660"/><stop offset="0.4746" stop-color="#2e0b38"/><stop offset="0.4903" stop-color="#2e0b38"/><stop offset="0.4922" stop-color="#3a0f45"/><stop offset="0.5078" stop-color="#3a0f45"/><stop offset="0.5097" stop-color="#16051c"/><stop offset="0.5254" stop-color="#16051c"/><stop offset="0.5273" stop-color="#531660"/><stop offset="0.5429" stop-color="#531660"/><stop offset="0.5448" stop-color="#535a15"/><stop offset="0.5605" stop-color="#535a15"/><stop offset="0.5624" stop-color="#0a020e"/><stop offset="0.5780" stop-color="#0a020e"/><stop offset="0.5799" stop-color="#3a0f45"/><stop offset="0.5955" stop-color="#3a0f45"/><stop offset="0.5974" stop-color="#b1c02b"/><stop offset="0.6131" stop-color="#b1c02b"/><stop offset="0.6150" stop-color="#76801d"/><stop offset="0.6306" stop-color="#76801d"/><stop offset="0.6325" stop-color="#b1c02b"/><stop offset="0.6482" stop-color="#b1c02b"/><stop offset="0.6501" stop-color="#ecff38"/><stop offset="0.6657" stop-color="#ecff38"/><stop offset="0.6676" stop-color="#6d1d7a"/><stop offset="0.6833" stop-color="#6d1d7a"/><stop offset="0.6852" stop-color="#461253"/><stop offset="0.7184" stop-color="#461253"/><stop offset="0.7202" stop-color="#60196d"/><stop offset="0.7359" stop-color="#60196d"/><stop offset="0.7378" stop-color="#1a0622"/><stop offset="0.7534" stop-color="#1a0622"/><stop offset="0.7553" stop-color="#2e0b38"/><stop offset="0.7710" stop-color="#2e0b38"/><stop offset="0.7729" stop-color="#16051c"/><stop offset="0.7885" stop-color="#16051c"/><stop offset="0.7904" stop-color="#2f340c"/><stop offset="0.8061" stop-color="#2f340c"/><stop offset="0.8080" stop-color="#2e0b38"/><stop offset="0.8236" stop-color="#2e0b38"/><stop offset="0.8255" stop-color="#16051c"/><stop offset="0.8412" stop-color="#16051c"/><stop offset="0.8431" stop-color="#21082a"/><stop offset="0.8587" stop-color="#21082a"/><stop offset="0.8606" stop-color="#16051c"/><stop offset="0.8762" stop-color="#16051c"/><stop offset="0.8781" stop-color="#6d1d7a"/><stop offset="0.8938" stop-color="#6d1d7a"/><stop offset="0.8957" stop-color="#1a0622"/><stop offset="0.9113" stop-color="#1a0622"/><stop offset="0.9132" stop-color="#21082a"/><stop offset="0.9289" stop-color="#21082a"/><stop offset="0.9308" stop-color="#16051c"/><stop offset="0.9464" stop-color="#16051c"/><stop offset="0.9483" stop-color="#461253"/><stop offset="0.9640" stop-color="#461253"/><stop offset="0.9659" stop-color="#16051c"/><stop offset="0.9815" stop-color="#16051c"/><stop offset="0.9834" stop-color="#181a06"/></linearGradient>
<linearGradient id="hg8" gradientUnits="userSpaceOnUse" x1="0" y1="397.60" x2="0" y2="872.70"><stop offset="0.0341" stop-color="#6d1d7a"/><stop offset="0.0360" stop-color="#363c0e"/><stop offset="0.0692" stop-color="#363c0e"/><stop offset="0.0711" stop-color="#111204"/><stop offset="0.0868" stop-color="#111204"/><stop offset="0.0887" stop-color="#181a06"/><stop offset="0.1043" stop-color="#181a06"/><stop offset="0.1062" stop-color="#60196d"/><stop offset="0.1219" stop-color="#60196d"/><stop offset="0.1238" stop-color="#16051c"/><stop offset="0.1394" stop-color="#16051c"/><stop offset="0.1413" stop-color="#000000"/><stop offset="0.1569" stop-color="#000000"/><stop offset="0.1588" stop-color="#6d1d7a"/><stop offset="0.1745" stop-color="#6d1d7a"/><stop offset="0.1764" stop-color="#531660"/><stop offset="0.1920" stop-color="#531660"/><stop offset="0.1939" stop-color="#9428a0"/><stop offset="0.2096" stop-color="#9428a0"/><stop offset="0.2115" stop-color="#3a0f45"/><stop offset="0.2271" stop-color="#3a0f45"/><stop offset="0.2290" stop-color="#21082a"/><stop offset="0.2447" stop-color="#21082a"/><stop offset="0.2466" stop-color="#531660"/><stop offset="0.2622" stop-color="#531660"/><stop offset="0.2641" stop-color="#16051c"/><stop offset="0.2973" stop-color="#16051c"/><stop offset="0.2992" stop-color="#0a020e"/><stop offset="0.3148" stop-color="#0a020e"/><stop offset="0.3167" stop-color="#60196d"/><stop offset="0.3499" stop-color="#60196d"/><stop offset="0.3518" stop-color="#0c0d03"/><stop offset="0.3675" stop-color="#0c0d03"/><stop offset="0.3694" stop-color="#3a0f45"/><stop offset="0.3850" stop-color="#3a0f45"/><stop offset="0.3869" stop-color="#6a741a"/><stop offset="0.4026" stop-color="#6a741a"/><stop offset="0.4045" stop-color="#535a15"/><stop offset="0.4201" stop-color="#535a15"/><stop offset="0.4220" stop-color="#34390d"/><stop offset="0.4376" stop-color="#34390d"/><stop offset="0.4395" stop-color="#bdcc2d"/><stop offset="0.4552" stop-color="#bdcc2d"/><stop offset="0.4571" stop-color="#5e6717"/><stop offset="0.4727" stop-color="#5e6717"/><stop offset="0.4746" stop-color="#6a741a"/><stop offset="0.4903" stop-color="#6a741a"/><stop offset="0.4922" stop-color="#282c0a"/><stop offset="0.5078" stop-color="#282c0a"/><stop offset="0.5097" stop-color="#404610"/><stop offset="0.5254" stop-color="#404610"/><stop offset="0.5273" stop-color="#3a0f45"/><stop offset="0.5429" stop-color="#3a0f45"/><stop offset="0.5448" stop-color="#461253"/><stop offset="0.5605" stop-color="#461253"/><stop offset="0.5624" stop-color="#6d1d7a"/><stop offset="0.5780" stop-color="#6d1d7a"/><stop offset="0.5799" stop-color="#1c1f07"/><stop offset="0.5955" stop-color="#1c1f07"/><stop offset="0.5974" stop-color="#60196d"/><stop offset="0.6131" stop-color="#60196d"/><stop offset="0.6150" stop-color="#531660"/><stop offset="0.6306" stop-color="#531660"/><stop offset="0.6325" stop-color="#872494"/><stop offset="0.6482" stop-color="#872494"/><stop offset="0.6501" stop-color="#21082a"/><stop offset="0.6657" stop-color="#21082a"/><stop offset="0.6676" stop-color="#ecff38"/><stop offset="0.7184" stop-color="#ecff38"/><stop offset="0.7202" stop-color="#a5b328"/><stop offset="0.7359" stop-color="#a5b328"/><stop offset="0.7378" stop-color="#000000"/><stop offset="0.7534" stop-color="#000000"/><stop offset="0.7553" stop-color="#2f340c"/><stop offset="0.7710" stop-color="#2f340c"/><stop offset="0.7729" stop-color="#16051c"/><stop offset="0.7885" stop-color="#16051c"/><stop offset="0.7904" stop-color="#60196d"/><stop offset="0.8061" stop-color="#60196d"/><stop offset="0.8080" stop-color="#16051c"/><stop offset="0.8412" stop-color="#16051c"/><stop offset="0.8431" stop-color="#000000"/><stop offset="0.8587" stop-color="#000000"/><stop offset="0.8606" stop-color="#16051c"/><stop offset="0.8762" stop-color="#16051c"/><stop offset="0.8781" stop-color="#060109"/><stop offset="0.8938" stop-color="#060109"/><stop offset="0.8957" stop-color="#1a0622"/><stop offset="0.9113" stop-color="#1a0622"/><stop offset="0.9132" stop-color="#16051c"/><stop offset="0.9289" stop-color="#16051c"/><stop offset="0.9308" stop-color="#3a0f45"/><stop offset="0.9464" stop-color="#3a0f45"/><stop offset="0.9483" stop-color="#535a15"/><stop offset="0.9640" stop-color="#535a15"/><stop offset="0.9659" stop-color="#1c1f07"/><stop offset="0.9815" stop-color="#1c1f07"/><stop offset="0.9834" stop-color="#531660"/></linearGradient>
<linearGradient id="hg9" gradientUnits="userSpaceOnUse" x1="0" y1="397.60" x2="0" y2="872.70"><stop offset="0.0166" stop-color="#2e0b38"/><stop offset="0.0185" stop-color="#16051c"/><stop offset="0.0341" stop-color="#16051c"/><stop offset="0.0360" stop-color="#461253"/><stop offset="0.0517" stop-color="#461253"/><stop offset="0.0536" stop-color="#8e269b"/><stop offset="0.0692" stop-color="#8e269b"/><stop offset="0.0711" stop-color="#1f2208"/><stop offset="0.0868" stop-color="#1f2208"/><stop offset="0.0887" stop-color="#0c0d03"/><stop offset="0.1219" stop-color="#0c0d03"/><stop offset="0.1238" stop-color="#0a020e"/><stop offset="0.1394" stop-color="#0a020e"/><stop offset="0.1413" stop-color="#2f340c"/><stop offset="0.1569" stop-color="#2f340c"/><stop offset="0.1588" stop-color="#1f2208"/><stop offset="0.1745" stop-color="#1f2208"/><stop offset="0.1764" stop-color="#461253"/><stop offset="0.1920" stop-color="#461253"/><stop offset="0.1939" stop-color="#000000"/><stop offset="0.2096" stop-color="#000000"/><stop offset="0.2115" stop-color="#1c1f07"/><stop offset="0.2271" stop-color="#1c1f07"/><stop offset="0.2290" stop-color="#6d1d7a"/><stop offset="0.2447" stop-color="#6d1d7a"/><stop offset="0.2466" stop-color="#2e0b38"/><stop offset="0.2622" stop-color="#2e0b38"/><stop offset="0.2641" stop-color="#131505"/><stop offset="0.2973" stop-color="#131505"/><stop offset="0.2992" stop-color="#181a06"/><stop offset="0.3148" stop-color="#181a06"/><stop offset="0.3167" stop-color="#531660"/><stop offset="0.3324" stop-color="#531660"/><stop offset="0.3343" stop-color="#000000"/><stop offset="0.3499" stop-color="#000000"/><stop offset="0.3518" stop-color="#531660"/><stop offset="0.3675" stop-color="#531660"/><stop offset="0.3694" stop-color="#2e0b38"/><stop offset="0.3850" stop-color="#2e0b38"/><stop offset="0.3869" stop-color="#531660"/><stop offset="0.4026" stop-color="#531660"/><stop offset="0.4045" stop-color="#461253"/><stop offset="0.4201" stop-color="#461253"/><stop offset="0.4220" stop-color="#1a0622"/><stop offset="0.4376" stop-color="#1a0622"/><stop offset="0.4395" stop-color="#000000"/><stop offset="0.4727" stop-color="#000000"/><stop offset="0.4746" stop-color="#3a0f45"/><stop offset="0.4903" stop-color="#3a0f45"/><stop offset="0.4922" stop-color="#8e9a22"/><stop offset="0.5078" stop-color="#8e9a22"/><stop offset="0.5097" stop-color="#531660"/><stop offset="0.5254" stop-color="#531660"/><stop offset="0.5273" stop-color="#000000"/><stop offset="0.5429" stop-color="#000000"/><stop offset="0.5448" stop-color="#2e0b38"/><stop offset="0.5605" stop-color="#2e0b38"/><stop offset="0.5624" stop-color="#41114e"/><stop offset="0.5780" stop-color="#41114e"/><stop offset="0.5799" stop-color="#2e0b38"/><stop offset="0.5955" stop-color="#2e0b38"/><stop offset="0.5974" stop-color="#000000"/><stop offset="0.6131" stop-color="#000000"/><stop offset="0.6150" stop-color="#792087"/><stop offset="0.6306" stop-color="#792087"/><stop offset="0.6325" stop-color="#320d3d"/><stop offset="0.6482" stop-color="#320d3d"/><stop offset="0.6501" stop-color="#461253"/><stop offset="0.6657" stop-color="#461253"/><stop offset="0.6676" stop-color="#60196d"/><stop offset="0.6833" stop-color="#60196d"/><stop offset="0.6852" stop-color="#1a0622"/><stop offset="0.7008" stop-color="#1a0622"/><stop offset="0.7027" stop-color="#21082a"/><stop offset="0.7359" stop-color="#21082a"/><stop offset="0.7378" stop-color="#ecff38"/><stop offset="0.8236" stop-color="#ecff38"/><stop offset="0.8255" stop-color="#16051c"/><stop offset="0.8412" stop-color="#16051c"/><stop offset="0.8431" stop-color="#000000"/><stop offset="0.8587" stop-color="#000000"/><stop offset="0.8606" stop-color="#16051c"/><stop offset="0.8762" stop-color="#16051c"/><stop offset="0.8781" stop-color="#111204"/><stop offset="0.8938" stop-color="#111204"/><stop offset="0.8957" stop-color="#1a0622"/><stop offset="0.9113" stop-color="#1a0622"/><stop offset="0.9132" stop-color="#16051c"/><stop offset="0.9289" stop-color="#16051c"/><stop offset="0.9308" stop-color="#461253"/><stop offset="0.9464" stop-color="#461253"/><stop offset="0.9483" stop-color="#4b1358"/><stop offset="0.9640" stop-color="#4b1358"/><stop offset="0.9659" stop-color="#6d1d7a"/><stop offset="0.9815" stop-color="#6d1d7a"/><stop offset="0.9834" stop-color="#320d3d"/></linearGradient>
<linearGradient id="hg10" gradientUnits="userSpaceOnUse" x1="0" y1="397.60" x2="0" y2="872.70"><stop offset="0.0166" stop-color="#6a741a"/><stop offset="0.0185" stop-color="#0f0314"/><stop offset="0.0341" stop-color="#0f0314"/><stop offset="0.0360" stop-color="#16051c"/><stop offset="0.0692" stop-color="#16051c"/><stop offset="0.0711" stop-color="#535a15"/><stop offset="0.0868" stop-color="#535a15"/><stop offset="0.0887" stop-color="#21082a"/><stop offset="0.1043" stop-color="#21082a"/><stop offset="0.1062" stop-color="#060109"/><stop offset="0.1219" stop-color="#060109"/><stop offset="0.1238" stop-color="#110417"/><stop offset="0.1394" stop-color="#110417"/><stop offset="0.1413" stop-color="#2e0b38"/><stop offset="0.1569" stop-color="#2e0b38"/><stop offset="0.1588" stop-color="#792087"/><stop offset="0.1745" stop-color="#792087"/><stop offset="0.1764" stop-color="#0c0d03"/><stop offset="0.1920" stop-color="#0c0d03"/><stop offset="0.1939" stop-color="#110417"/><stop offset="0.2096" stop-color="#110417"/><stop offset="0.2115" stop-color="#181a06"/><stop offset="0.2447" stop-color="#181a06"/><stop offset="0.2466" stop-color="#000000"/><stop offset="0.2622" stop-color="#000000"/><stop offset="0.2641" stop-color="#1a0622"/><stop offset="0.2798" stop-color="#1a0622"/><stop offset="0.2816" stop-color="#000000"/><stop offset="0.2973" stop-color="#000000"/><stop offset="0.2992" stop-color="#d0e132"/><stop offset="0.3148" stop-color="#d0e132"/><stop offset="0.3167" stop-color="#0a020e"/><stop offset="0.3324" stop-color="#0a020e"/><stop offset="0.3343" stop-color="#4c5313"/><stop offset="0.3499" stop-color="#4c5313"/><stop offset="0.3518" stop-color="#3a0f45"/><stop offset="0.3675" stop-color="#3a0f45"/><stop offset="0.3694" stop-color="#060109"/><stop offset="0.3850" stop-color="#060109"/><stop offset="0.3869" stop-color="#3a0f45"/><stop offset="0.4026" stop-color="#3a0f45"/><stop offset="0.4045" stop-color="#320d3d"/><stop offset="0.4201" stop-color="#320d3d"/><stop offset="0.4220" stop-color="#2e0b38"/><stop offset="0.4376" stop-color="#2e0b38"/><stop offset="0.4395" stop-color="#131505"/><stop offset="0.4552" stop-color="#131505"/><stop offset="0.4571" stop-color="#0c0d03"/><stop offset="0.4727" stop-color="#0c0d03"/><stop offset="0.4746" stop-color="#4e5514"/><stop offset="0.4903" stop-color="#4e5514"/><stop offset="0.4922" stop-color="#1a0622"/><stop offset="0.5078" stop-color="#1a0622"/><stop offset="0.5097" stop-color="#6a741a"/><stop offset="0.5254" stop-color="#6a741a"/><stop offset="0.5273" stop-color="#531660"/><stop offset="0.5429" stop-color="#531660"/><stop offset="0.5448" stop-color="#110417"/><stop offset="0.5605" stop-color="#110417"/><stop offset="0.5624" stop-color="#000000"/><stop offset="0.5780" stop-color="#000000"/><stop offset="0.5799" stop-color="#2e0b38"/><stop offset="0.5955" stop-color="#2e0b38"/><stop offset="0.5974" stop-color="#000000"/><stop offset="0.6131" stop-color="#000000"/><stop offset="0.6150" stop-color="#5a6216"/><stop offset="0.6306" stop-color="#5a6216"/><stop offset="0.6325" stop-color="#461253"/><stop offset="0.6482" stop-color="#461253"/><stop offset="0.6501" stop-color="#000000"/><stop offset="0.6657" stop-color="#000000"/><stop offset="0.6676" stop-color="#1a0622"/><stop offset="0.6833" stop-color="#1a0622"/><stop offset="0.6852" stop-color="#110417"/><stop offset="0.7008" stop-color="#110417"/><stop offset="0.7027" stop-color="#21082a"/><stop offset="0.7184" stop-color="#21082a"/><stop offset="0.7202" stop-color="#531660"/><stop offset="0.7534" stop-color="#531660"/><stop offset="0.7553" stop-color="#21082a"/><stop offset="0.7710" stop-color="#21082a"/><stop offset="0.7729" stop-color="#60196d"/><stop offset="0.7885" stop-color="#60196d"/><stop offset="0.7904" stop-color="#41114e"/><stop offset="0.8061" stop-color="#41114e"/><stop offset="0.8080" stop-color="#3a0f45"/><stop offset="0.8236" stop-color="#3a0f45"/><stop offset="0.8255" stop-color="#ecff38"/><stop offset="0.9113" stop-color="#ecff38"/><stop offset="0.9132" stop-color="#34390d"/><stop offset="0.9289" stop-color="#34390d"/><stop offset="0.9308" stop-color="#4e5514"/><stop offset="0.9464" stop-color="#4e5514"/><stop offset="0.9483" stop-color="#0c0d03"/><stop offset="0.9640" stop-color="#0c0d03"/><stop offset="0.9659" stop-color="#34390d"/><stop offset="0.9815" stop-color="#34390d"/><stop offset="0.9834" stop-color="#3b410f"/></linearGradient>
<linearGradient id="hg11" gradientUnits="userSpaceOnUse" x1="0" y1="397.60" x2="0" y2="872.70"><stop offset="0.0166" stop-color="#461253"/><stop offset="0.0185" stop-color="#3a0f45"/><stop offset="0.0341" stop-color="#3a0f45"/><stop offset="0.0360" stop-color="#1f2208"/><stop offset="0.0517" stop-color="#1f2208"/><stop offset="0.0536" stop-color="#76801d"/><stop offset="0.0692" stop-color="#76801d"/><stop offset="0.0711" stop-color="#3a0f45"/><stop offset="0.0868" stop-color="#3a0f45"/><stop offset="0.0887" stop-color="#9428a0"/><stop offset="0.1219" stop-color="#9428a0"/><stop offset="0.1238" stop-color="#461253"/><stop offset="0.1394" stop-color="#461253"/><stop offset="0.1413" stop-color="#ff48ff"/><stop offset="0.1569" stop-color="#ff48ff"/><stop offset="0.1588" stop-color="#c9d930"/><stop offset="0.1745" stop-color="#c9d930"/><stop offset="0.1764" stop-color="#21082a"/><stop offset="0.1920" stop-color="#21082a"/><stop offset="0.1939" stop-color="#16051c"/><stop offset="0.2096" stop-color="#16051c"/><stop offset="0.2115" stop-color="#21082a"/><stop offset="0.2271" stop-color="#21082a"/><stop offset="0.2290" stop-color="#2e0b38"/><stop offset="0.2447" stop-color="#2e0b38"/><stop offset="0.2466" stop-color="#6d1d7a"/><stop offset="0.2798" stop-color="#6d1d7a"/><stop offset="0.2816" stop-color="#531660"/><stop offset="0.2973" stop-color="#531660"/><stop offset="0.2992" stop-color="#60196d"/><stop offset="0.3148" stop-color="#60196d"/><stop offset="0.3167" stop-color="#531660"/><stop offset="0.3324" stop-color="#531660"/><stop offset="0.3343" stop-color="#461253"/><stop offset="0.3499" stop-color="#461253"/><stop offset="0.3518" stop-color="#2f340c"/><stop offset="0.3675" stop-color="#2f340c"/><stop offset="0.3694" stop-color="#3a0f45"/><stop offset="0.3850" stop-color="#3a0f45"/><stop offset="0.3869" stop-color="#6d1d7a"/><stop offset="0.4026" stop-color="#6d1d7a"/><stop offset="0.4045" stop-color="#000000"/><stop offset="0.4201" stop-color="#000000"/><stop offset="0.4220" stop-color="#461253"/><stop offset="0.4376" stop-color="#461253"/><stop offset="0.4395" stop-color="#070802"/><stop offset="0.4552" stop-color="#070802"/><stop offset="0.4571" stop-color="#4e5514"/><stop offset="0.4727" stop-color="#4e5514"/><stop offset="0.4746" stop-color="#41114e"/><stop offset="0.5078" stop-color="#41114e"/><stop offset="0.5097" stop-color="#4e5514"/><stop offset="0.5254" stop-color="#4e5514"/><stop offset="0.5273" stop-color="#95a124"/><stop offset="0.5429" stop-color="#95a124"/><stop offset="0.5448" stop-color="#111204"/><stop offset="0.5605" stop-color="#111204"/><stop offset="0.5624" stop-color="#c9d930"/><stop offset="0.5780" stop-color="#c9d930"/><stop offset="0.5799" stop-color="#16051c"/><stop offset="0.5955" stop-color="#16051c"/><stop offset="0.5974" stop-color="#6d1d7a"/><stop offset="0.6131" stop-color="#6d1d7a"/><stop offset="0.6150" stop-color="#e0f235"/><stop offset="0.6306" stop-color="#e0f235"/><stop offset="0.6325" stop-color="#9428a0"/><stop offset="0.6482" stop-color="#9428a0"/><stop offset="0.6501" stop-color="#99a625"/><stop offset="0.6657" stop-color="#99a625"/><stop offset="0.6676" stop-color="#181a06"/><stop offset="0.7008" stop-color="#181a06"/><stop offset="0.7027" stop-color="#21082a"/><stop offset="0.7184" stop-color="#21082a"/><stop offset="0.7202" stop-color="#060109"/><stop offset="0.7359" stop-color="#060109"/><stop offset="0.7378" stop-color="#2e0b38"/><stop offset="0.7534" stop-color="#2e0b38"/><stop offset="0.7553" stop-color="#3a0f45"/><stop offset="0.7885" stop-color="#3a0f45"/><stop offset="0.7904" stop-color="#000000"/><stop offset="0.8061" stop-color="#000000"/><stop offset="0.8080" stop-color="#6d1d7a"/><stop offset="0.8236" stop-color="#6d1d7a"/><stop offset="0.8255" stop-color="#1a0622"/><stop offset="0.8412" stop-color="#1a0622"/><stop offset="0.8431" stop-color="#6a741a"/><stop offset="0.8587" stop-color="#6a741a"/><stop offset="0.8606" stop-color="#21082a"/><stop offset="0.8762" stop-color="#21082a"/><stop offset="0.8781" stop-color="#3a0f45"/><stop offset="0.8938" stop-color="#3a0f45"/><stop offset="0.8957" stop-color="#16051c"/><stop offset="0.9113" stop-color="#16051c"/><stop offset="0.9132" stop-color="#ecff38"/></linearGradient></defs>
<rect x="367.10" y="397.60" width="24.68" height="475.10" fill="url(#hg0)"/>
<rect x="389.78" y="397.60" width="24.68" height="475.10" fill="url(#hg1)"/>
<rect x="412.47" y="397.60" width="24.68" height="475.10" fill="url(#hg2)"/>
<rect x="435.15" y="397.60" width="24.68" height="475.10" fill="url(#hg3)"/>
<rect x="457.83" y="397.60" width="24.68" height="475.10" fill="url(#hg4)"/>
<rect x="480.52" y="397.60" width="24.68" height="475.10" fill="url(#hg5)"/>
<rect x="503.20" y="397.60" width="24.68" height="475.10" fill="url(#hg6)"/>
<rect x="525.88" y="397.60" width="24.68" height="475.10" fill="url(#hg7)"/>
<rect x="548.57" y="397.60" width="24.68" height="475.10" fill="url(#hg8)"/>
<rect x="571.25" y="397.60" width="24.68" height="475.10" fill="url(#hg9)"/>
<rect x="593.93" y="397.60" width="24.68" height="475.10" fill="url(#hg10)"/>
<rect x="616.62" y="397.60" width="22.68" height="475.10" fill="url(#hg11)"/>
</g>
<g id="heatmap-labels">
<text x="361.4" y="404" font-size="5.3" text-anchor="end" fill="#555">PDLIM4</text>
<text x="361.4" y="412.3" font-size="5.3" text-anchor="end" fill="#555">TIMP1</text>
<text x="361.4" y="420.6" font-size="5.3" text-anchor="end" fill="#555">DDX21</text>
<text x="361.4" y="429" font-size="5.3" text-anchor="end" fill="#555">ADAMTS1</text>
<text x="361.4" y="437.3" font-size="5.3" text-anchor="end" fill="#555">SAT1</text>
<text x="361.4" y="445.6" font-size="5.3" text-anchor="end" fill="#555">TNFSF10</text>
<text x="361.4" y="454" font-size="5.3" text-anchor="end" fill="#555">TMEM100</text>
<text x="361.4" y="462.3" font-size="5.3" text-anchor="end" fill="#555">CTNNAL1</text>
<text x="361.4" y="470.6" font-size="5.3" text-anchor="end" fill="#555">EDN1</text>
<text x="361.4" y="479" font-size="5.3" text-anchor="end" fill="#555">RGS5</text>
<text x="361.4" y="487.3" font-size="5.3" text-anchor="end" fill="#555">MT1E</text>
<text x="361.4" y="495.7" font-size="5.3" text-anchor="end" fill="#555">FKBP5</text>
<text x="361.4" y="504" font-size="5.3" text-anchor="end" fill="#555">SCGB3A1</text>
<text x="361.4" y="512.3" font-size="5.3" text-anchor="end" fill="#555">SCGB1A1</text>
<text x="361.4" y="520.7" font-size="5.3" text-anchor="end" fill="#555">IDO1</text>
<text x="361.4" y="529" font-size="5.3" text-anchor="end" fill="#555">SERPINE2</text>
<text x="361.4" y="537.3" font-size="5.3" text-anchor="end" fill="#555">CXCL12</text>
<text x="361.4" y="545.7" font-size="5.3" text-anchor="end" fill="#555">STMN1</text>
<text x="361.4" y="554" font-size="5.3" text-anchor="end" fill="#555">PROCR</text>
<text x="361.4" y="562.3" font-size="5.3" text-anchor="end" fill="#555">DKK2</text>
<text x="361.4" y="570.7" font-size="5.3" text-anchor="end" fill="#555">CSF3</text>
<text x="361.4" y="579" font-size="5.3" text-anchor="end" fill="#555">MED24</text>
<text x="361.4" y="587.3" font-size="5.3" text-anchor="end" fill="#555">CXCL3</text>
<text x="361.4" y="595.7" font-size="5.3" text-anchor="end" fill="#555">CXCL1</text>
<text x="361.4" y="604" font-size="5.3" text-anchor="end" fill="#555">CXCL8</text>
<text x="361.4" y="612.3" font-size="5.3" text-anchor="end" fill="#555">RGCC</text>
<text x="361.4" y="620.7" font-size="5.3" text-anchor="end" fill="#555">SPRY1</text>
<text x="361.4" y="629" font-size="5.3" text-anchor="end" fill="#555">ESM1</text>
<text x="361.4" y="637.4" font-size="5.3" text-anchor="end" fill="#555">SPP1</text>
<text x="361.4" y="645.7" font-size="5.3" text-anchor="end" fill="#555">CYR61</text>
<text x="361.4" y="654" font-size="5.3" text-anchor="end" fill="#555">ACKR1</text>
<text x="361.4" y="662.4" font-size="5.3" text-anchor="end" fill="#555">CLU</text>
<text x="361.4" y="670.7" font-size="5.3" text-anchor="end" fill="#555">POSTN</text>
<text x="361.4" y="679" font-size="5.3" text-anchor="end" fill="#555">SELE</text>
<text x="361.4" y="687.4" font-size="5.3" text-anchor="end" fill="#555">IGFBP3</text>
<text x="361.4" y="695.7" font-size="5.3" text-anchor="end" fill="#555">BGN</text>
<text x="361.4" y="704" font-size="5.3" text-anchor="end" fill="#555">MGP</text>
<text x="361.4" y="712.4" font-size="5.3" text-anchor="end" fill="#555">DCN</text>
<text x="361.4" y="720.7" font-size="5.3" text-anchor="end" fill="#555">SLC2A3</text>
<text x="361.4" y="729" font-size="5.3" text-anchor="end" fill="#555">ADM</text>
<text x="361.4" y="737.4" font-size="5.3" text-anchor="end" fill="#555">CA4</text>
<text x="361.4" y="745.7" font-size="5.3" text-anchor="end" fill="#555">CCL2</text>
<text x="361.4" y="754" font-size="5.3" text-anchor="end" fill="#555">TYROBP</text>
<text x="361.4" y="762.4" font-size="5.3" text-anchor="end" fill="#555">JCHAIN</text>
<text x="361.4" y="770.7" font-size="5.3" text-anchor="end" fill="#555">C1QA</text>
<text x="361.4" y="779" font-size="5.3" text-anchor="end" fill="#555">FTL</text>
<text x="361.4" y="787.4" font-size="5.3" text-anchor="end" fill="#555">C1QB</text>
<text x="361.4" y="795.7" font-size="5.3" text-anchor="end" fill="#555">MKI67</text>
<text x="361.4" y="804.1" font-size="5.3" text-anchor="end" fill="#555">HMGB2</text>
<text x="361.4" y="812.4" font-size="5.3" text-anchor="end" fill="#555">ASPM</text>
<text x="361.4" y="820.7" font-size="5.3" text-anchor="end" fill="#555">PCNA</text>
<text x="361.4" y="829.1" font-size="5.3" text-anchor="end" fill="#555">CENPF</text>
<text x="361.4" y="837.4" font-size="5.3" text-anchor="end" fill="#555">ACTA2</text>
<text x="361.4" y="845.7" font-size="5.3" text-anchor="end" fill="#555">TPM2</text>
<text x="361.4" y="854.1" font-size="5.3" text-anchor="end" fill="#555">C11orf96</text>
<text x="361.4" y="862.4" font-size="5.3" text-anchor="end" fill="#555">MYL9</text>
<text x="361.4" y="870.7" font-size="5.3" text-anchor="end" fill="#555">TAGLN</text>
<text x="380" y="375.4" font-size="8.8" fill="#000" transform="rotate(-45 380 375.4)">E.1</text>
<text x="402.7" y="375.4" font-size="8.8" fill="#000" transform="rotate(-45 402.7 375.4)">E.2</text>
<text x="425.4" y="375.4" font-size="8.8" fill="#000" transform="rotate(-45 425.4 375.4)">E.3</text>
<text x="448.1" y="375.4" font-size="8.8" fill="#000" transform="rotate(-45 448.1 375.4)">E.4</text>
<text x="470.8" y="375.4" font-size="8.8" fill="#000" transform="rotate(-45 470.8 375.4)">E.5</text>
<text x="493.5" y="375.4" font-size="8.8" fill="#000" transform="rotate(-45 493.5 375.4)">E.6</text>
<text x="516.1" y="375.4" font-size="8.8" fill="#000" transform="rotate(-45 516.1 375.4)">E.7</text>
<text x="538.8" y="375.4" font-size="8.8" fill="#000" transform="rotate(-45 538.8 375.4)">E.8</text>
<text x="561.5" y="375.4" font-size="8.8" fill="#000" transform="rotate(-45 561.5 375.4)">E.9</text>
<text x="584.2" y="375.4" font-size="8.8" fill="#000" transform="rotate(-45 584.2 375.4)">E.10</text>
<text x="606.9" y="375.4" font-size="8.8" fill="#000" transform="rotate(-45 606.9 375.4)">E.11</text>
<text x="629.6" y="375.4" font-size="8.8" fill="#000" transform="rotate(-45 629.6 375.4)">E.12</text>
</g>
<g id="heatmap-legend">
<text x="651.5" y="518.2" font-size="6.6" fill="#000">Identity</text>
<circle cx="656.7" cy="527.5" r="1.35" fill="#EE726C"/>
<text x="665" y="529.4" font-size="5.3" fill="#222">E.1</text>
<circle cx="656.7" cy="537.9" r="1.35" fill="#DB8E2C"/>
<text x="665" y="539.8" font-size="5.3" fill="#222">E.2</text>
<circle cx="656.7" cy="548.4" r="1.35" fill="#B5A230"/>
<text x="665" y="550.3" font-size="5.3" fill="#222">E.3</text>
<circle cx="656.7" cy="558.8" r="1.35" fill="#86B72E"/>
<text x="665" y="560.7" font-size="5.3" fill="#222">E.4</text>
<circle cx="656.7" cy="569.2" r="1.35" fill="#4CD04C"/>
<text x="665" y="571.1" font-size="5.3" fill="#222">E.5</text>
<circle cx="656.7" cy="579.6" r="1.35" fill="#58D8A0"/>
<text x="665" y="581.5" font-size="5.3" fill="#222">E.6</text>
<circle cx="656.7" cy="590.1" r="1.35" fill="#5CD3CC"/>
<text x="665" y="592" font-size="5.3" fill="#222">E.7</text>
<circle cx="656.7" cy="600.5" r="1.35" fill="#52BEEC"/>
<text x="665" y="602.4" font-size="5.3" fill="#222">E.8</text>
<circle cx="656.7" cy="610.9" r="1.35" fill="#6CA0FA"/>
<text x="665" y="612.8" font-size="5.3" fill="#222">E.9</text>
<circle cx="656.7" cy="621.4" r="1.35" fill="#C47CFA"/>
<text x="665" y="623.3" font-size="5.3" fill="#222">E.10</text>
<circle cx="656.7" cy="631.8" r="1.35" fill="#F76CF5"/>
<text x="665" y="633.7" font-size="5.3" fill="#222">E.11</text>
<circle cx="656.7" cy="642.2" r="1.35" fill="#F866B8"/>
<text x="665" y="644.1" font-size="5.3" fill="#222">E.12</text>
<text x="651.5" y="666.3" font-size="6.6" fill="#000">Expression</text>
<defs><linearGradient id="eg" x1="0" y1="0" x2="0" y2="1"><stop offset="0" stop-color="#ecff38"/><stop offset="0.5" stop-color="#000"/><stop offset="1" stop-color="#ff48ff"/></linearGradient></defs>
<rect x="651.5" y="670.3" width="10.3" height="52" fill="url(#eg)"/>
<text x="665.3" y="677.5" font-size="5.3" fill="#222">2</text>
<line x1="651.5" y1="675.6" x2="653.5" y2="675.6" stroke="#ffffff" stroke-width="0.35"/>
<line x1="659.8" y1="675.6" x2="661.8" y2="675.6" stroke="#ffffff" stroke-width="0.35"/>
<text x="665.3" y="687.9" font-size="5.3" fill="#222">1</text>
<line x1="651.5" y1="686" x2="653.5" y2="686" stroke="#ffffff" stroke-width="0.35"/>
<line x1="659.8" y1="686" x2="661.8" y2="686" stroke="#ffffff" stroke-width="0.35"/>
<text x="665.3" y="698.4" font-size="5.3" fill="#222">0</text>
<line x1="651.5" y1="696.5" x2="653.5" y2="696.5" stroke="#ffffff" stroke-width="0.35"/>
<line x1="659.8" y1="696.5" x2="661.8" y2="696.5" stroke="#ffffff" stroke-width="0.35"/>
<text x="665.3" y="708.8" font-size="5.3" fill="#222">-1</text>
<line x1="651.5" y1="706.9" x2="653.5" y2="706.9" stroke="#ffffff" stroke-width="0.35"/>
<line x1="659.8" y1="706.9" x2="661.8" y2="706.9" stroke="#ffffff" stroke-width="0.35"/>
<text x="665.3" y="719.2" font-size="5.3" fill="#222">-2</text>
<line x1="651.5" y1="717.3" x2="653.5" y2="717.3" stroke="#ffffff" stroke-width="0.35"/>
<line x1="659.8" y1="717.3" x2="661.8" y2="717.3" stroke="#ffffff" stroke-width="0.35"/>
</g>
</svg>
</body></html>
